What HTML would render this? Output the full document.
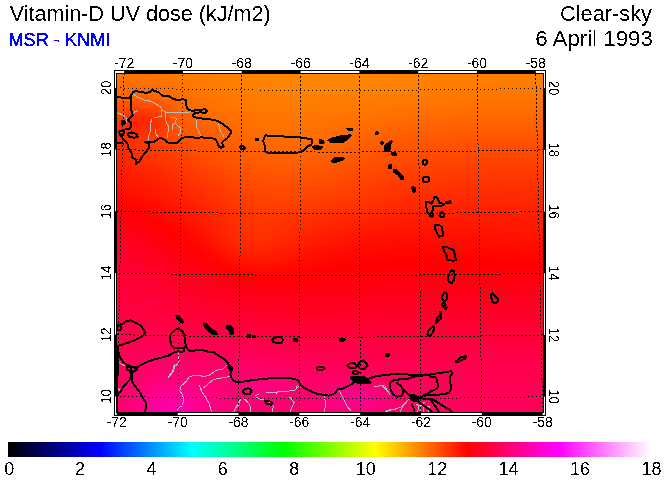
<!DOCTYPE html><html><head><meta charset="utf-8"><style>html,body{margin:0;padding:0;background:#fff;width:665px;height:480px;overflow:hidden}svg{display:block}text{font-family:"Liberation Sans",Arial,sans-serif}</style></head><body><svg width="665" height="480" viewBox="0 0 665 480"><defs><linearGradient id="r0"><stop offset="0.000" stop-color="#ff7300"/><stop offset="0.048" stop-color="#ff7500"/><stop offset="0.095" stop-color="#ff7700"/><stop offset="0.143" stop-color="#ff7b00"/><stop offset="0.190" stop-color="#ff7e00"/><stop offset="0.238" stop-color="#ff8100"/><stop offset="0.286" stop-color="#ff8300"/><stop offset="0.333" stop-color="#ff8500"/><stop offset="0.381" stop-color="#ff8500"/><stop offset="0.429" stop-color="#ff8600"/><stop offset="0.476" stop-color="#ff8600"/><stop offset="0.524" stop-color="#ff8600"/><stop offset="0.571" stop-color="#ff8500"/><stop offset="0.619" stop-color="#ff8400"/><stop offset="0.667" stop-color="#ff8300"/><stop offset="0.714" stop-color="#ff8200"/><stop offset="0.762" stop-color="#ff8100"/><stop offset="0.810" stop-color="#ff8000"/><stop offset="0.857" stop-color="#ff7f00"/><stop offset="0.905" stop-color="#ff7f00"/><stop offset="0.952" stop-color="#ff7e00"/><stop offset="1.000" stop-color="#ff7e00"/></linearGradient><linearGradient id="r1"><stop offset="0.000" stop-color="#ff7200"/><stop offset="0.048" stop-color="#ff7300"/><stop offset="0.095" stop-color="#ff7600"/><stop offset="0.143" stop-color="#ff7900"/><stop offset="0.190" stop-color="#ff7d00"/><stop offset="0.238" stop-color="#ff8000"/><stop offset="0.286" stop-color="#ff8200"/><stop offset="0.333" stop-color="#ff8400"/><stop offset="0.381" stop-color="#ff8500"/><stop offset="0.429" stop-color="#ff8500"/><stop offset="0.476" stop-color="#ff8600"/><stop offset="0.524" stop-color="#ff8500"/><stop offset="0.571" stop-color="#ff8500"/><stop offset="0.619" stop-color="#ff8400"/><stop offset="0.667" stop-color="#ff8300"/><stop offset="0.714" stop-color="#ff8200"/><stop offset="0.762" stop-color="#ff8000"/><stop offset="0.810" stop-color="#ff7f00"/><stop offset="0.857" stop-color="#ff7f00"/><stop offset="0.905" stop-color="#ff7e00"/><stop offset="0.952" stop-color="#ff7d00"/><stop offset="1.000" stop-color="#ff7d00"/></linearGradient><linearGradient id="r2"><stop offset="0.000" stop-color="#ff7100"/><stop offset="0.048" stop-color="#ff7200"/><stop offset="0.095" stop-color="#ff7400"/><stop offset="0.143" stop-color="#ff7800"/><stop offset="0.190" stop-color="#ff7c00"/><stop offset="0.238" stop-color="#ff7f00"/><stop offset="0.286" stop-color="#ff8200"/><stop offset="0.333" stop-color="#ff8400"/><stop offset="0.381" stop-color="#ff8400"/><stop offset="0.429" stop-color="#ff8500"/><stop offset="0.476" stop-color="#ff8500"/><stop offset="0.524" stop-color="#ff8500"/><stop offset="0.571" stop-color="#ff8400"/><stop offset="0.619" stop-color="#ff8300"/><stop offset="0.667" stop-color="#ff8200"/><stop offset="0.714" stop-color="#ff8100"/><stop offset="0.762" stop-color="#ff8000"/><stop offset="0.810" stop-color="#ff7f00"/><stop offset="0.857" stop-color="#ff7e00"/><stop offset="0.905" stop-color="#ff7d00"/><stop offset="0.952" stop-color="#ff7d00"/><stop offset="1.000" stop-color="#ff7c00"/></linearGradient><linearGradient id="r3"><stop offset="0.000" stop-color="#ff6f00"/><stop offset="0.048" stop-color="#ff7100"/><stop offset="0.095" stop-color="#ff7300"/><stop offset="0.143" stop-color="#ff7700"/><stop offset="0.190" stop-color="#ff7b00"/><stop offset="0.238" stop-color="#ff7e00"/><stop offset="0.286" stop-color="#ff8100"/><stop offset="0.333" stop-color="#ff8300"/><stop offset="0.381" stop-color="#ff8400"/><stop offset="0.429" stop-color="#ff8400"/><stop offset="0.476" stop-color="#ff8400"/><stop offset="0.524" stop-color="#ff8400"/><stop offset="0.571" stop-color="#ff8400"/><stop offset="0.619" stop-color="#ff8300"/><stop offset="0.667" stop-color="#ff8200"/><stop offset="0.714" stop-color="#ff8000"/><stop offset="0.762" stop-color="#ff7f00"/><stop offset="0.810" stop-color="#ff7e00"/><stop offset="0.857" stop-color="#ff7d00"/><stop offset="0.905" stop-color="#ff7d00"/><stop offset="0.952" stop-color="#ff7c00"/><stop offset="1.000" stop-color="#ff7c00"/></linearGradient><linearGradient id="r4"><stop offset="0.000" stop-color="#ff6e00"/><stop offset="0.048" stop-color="#ff6f00"/><stop offset="0.095" stop-color="#ff7200"/><stop offset="0.143" stop-color="#ff7600"/><stop offset="0.190" stop-color="#ff7a00"/><stop offset="0.238" stop-color="#ff7e00"/><stop offset="0.286" stop-color="#ff8000"/><stop offset="0.333" stop-color="#ff8200"/><stop offset="0.381" stop-color="#ff8300"/><stop offset="0.429" stop-color="#ff8400"/><stop offset="0.476" stop-color="#ff8400"/><stop offset="0.524" stop-color="#ff8400"/><stop offset="0.571" stop-color="#ff8300"/><stop offset="0.619" stop-color="#ff8200"/><stop offset="0.667" stop-color="#ff8100"/><stop offset="0.714" stop-color="#ff8000"/><stop offset="0.762" stop-color="#ff7e00"/><stop offset="0.810" stop-color="#ff7d00"/><stop offset="0.857" stop-color="#ff7d00"/><stop offset="0.905" stop-color="#ff7c00"/><stop offset="0.952" stop-color="#ff7b00"/><stop offset="1.000" stop-color="#ff7b00"/></linearGradient><linearGradient id="r5"><stop offset="0.000" stop-color="#ff6c00"/><stop offset="0.048" stop-color="#ff6e00"/><stop offset="0.095" stop-color="#ff7000"/><stop offset="0.143" stop-color="#ff7500"/><stop offset="0.190" stop-color="#ff7900"/><stop offset="0.238" stop-color="#ff7d00"/><stop offset="0.286" stop-color="#ff8000"/><stop offset="0.333" stop-color="#ff8200"/><stop offset="0.381" stop-color="#ff8300"/><stop offset="0.429" stop-color="#ff8300"/><stop offset="0.476" stop-color="#ff8300"/><stop offset="0.524" stop-color="#ff8300"/><stop offset="0.571" stop-color="#ff8200"/><stop offset="0.619" stop-color="#ff8100"/><stop offset="0.667" stop-color="#ff8000"/><stop offset="0.714" stop-color="#ff7f00"/><stop offset="0.762" stop-color="#ff7e00"/><stop offset="0.810" stop-color="#ff7d00"/><stop offset="0.857" stop-color="#ff7c00"/><stop offset="0.905" stop-color="#ff7b00"/><stop offset="0.952" stop-color="#ff7b00"/><stop offset="1.000" stop-color="#ff7a00"/></linearGradient><linearGradient id="r6"><stop offset="0.000" stop-color="#ff6b00"/><stop offset="0.048" stop-color="#ff6c00"/><stop offset="0.095" stop-color="#ff6f00"/><stop offset="0.143" stop-color="#ff7400"/><stop offset="0.190" stop-color="#ff7800"/><stop offset="0.238" stop-color="#ff7c00"/><stop offset="0.286" stop-color="#ff7f00"/><stop offset="0.333" stop-color="#ff8100"/><stop offset="0.381" stop-color="#ff8200"/><stop offset="0.429" stop-color="#ff8300"/><stop offset="0.476" stop-color="#ff8300"/><stop offset="0.524" stop-color="#ff8300"/><stop offset="0.571" stop-color="#ff8200"/><stop offset="0.619" stop-color="#ff8100"/><stop offset="0.667" stop-color="#ff8000"/><stop offset="0.714" stop-color="#ff7e00"/><stop offset="0.762" stop-color="#ff7d00"/><stop offset="0.810" stop-color="#ff7c00"/><stop offset="0.857" stop-color="#ff7b00"/><stop offset="0.905" stop-color="#ff7a00"/><stop offset="0.952" stop-color="#ff7a00"/><stop offset="1.000" stop-color="#ff7a00"/></linearGradient><linearGradient id="r7"><stop offset="0.000" stop-color="#ff6900"/><stop offset="0.048" stop-color="#ff6a00"/><stop offset="0.095" stop-color="#ff6d00"/><stop offset="0.143" stop-color="#ff7200"/><stop offset="0.190" stop-color="#ff7700"/><stop offset="0.238" stop-color="#ff7b00"/><stop offset="0.286" stop-color="#ff7e00"/><stop offset="0.333" stop-color="#ff8000"/><stop offset="0.381" stop-color="#ff8200"/><stop offset="0.429" stop-color="#ff8200"/><stop offset="0.476" stop-color="#ff8200"/><stop offset="0.524" stop-color="#ff8200"/><stop offset="0.571" stop-color="#ff8100"/><stop offset="0.619" stop-color="#ff8000"/><stop offset="0.667" stop-color="#ff7f00"/><stop offset="0.714" stop-color="#ff7d00"/><stop offset="0.762" stop-color="#ff7c00"/><stop offset="0.810" stop-color="#ff7b00"/><stop offset="0.857" stop-color="#ff7a00"/><stop offset="0.905" stop-color="#ff7a00"/><stop offset="0.952" stop-color="#ff7900"/><stop offset="1.000" stop-color="#ff7900"/></linearGradient><linearGradient id="r8"><stop offset="0.000" stop-color="#ff6700"/><stop offset="0.048" stop-color="#ff6800"/><stop offset="0.095" stop-color="#ff6b00"/><stop offset="0.143" stop-color="#ff7100"/><stop offset="0.190" stop-color="#ff7600"/><stop offset="0.238" stop-color="#ff7a00"/><stop offset="0.286" stop-color="#ff7e00"/><stop offset="0.333" stop-color="#ff8000"/><stop offset="0.381" stop-color="#ff8100"/><stop offset="0.429" stop-color="#ff8200"/><stop offset="0.476" stop-color="#ff8200"/><stop offset="0.524" stop-color="#ff8100"/><stop offset="0.571" stop-color="#ff8000"/><stop offset="0.619" stop-color="#ff7f00"/><stop offset="0.667" stop-color="#ff7e00"/><stop offset="0.714" stop-color="#ff7d00"/><stop offset="0.762" stop-color="#ff7b00"/><stop offset="0.810" stop-color="#ff7a00"/><stop offset="0.857" stop-color="#ff7900"/><stop offset="0.905" stop-color="#ff7900"/><stop offset="0.952" stop-color="#ff7800"/><stop offset="1.000" stop-color="#ff7800"/></linearGradient><linearGradient id="r9"><stop offset="0.000" stop-color="#ff6500"/><stop offset="0.048" stop-color="#ff6600"/><stop offset="0.095" stop-color="#ff6900"/><stop offset="0.143" stop-color="#ff7000"/><stop offset="0.190" stop-color="#ff7500"/><stop offset="0.238" stop-color="#ff7900"/><stop offset="0.286" stop-color="#ff7d00"/><stop offset="0.333" stop-color="#ff7f00"/><stop offset="0.381" stop-color="#ff8000"/><stop offset="0.429" stop-color="#ff8100"/><stop offset="0.476" stop-color="#ff8100"/><stop offset="0.524" stop-color="#ff8100"/><stop offset="0.571" stop-color="#ff8000"/><stop offset="0.619" stop-color="#ff7f00"/><stop offset="0.667" stop-color="#ff7d00"/><stop offset="0.714" stop-color="#ff7c00"/><stop offset="0.762" stop-color="#ff7a00"/><stop offset="0.810" stop-color="#ff7900"/><stop offset="0.857" stop-color="#ff7800"/><stop offset="0.905" stop-color="#ff7800"/><stop offset="0.952" stop-color="#ff7700"/><stop offset="1.000" stop-color="#ff7700"/></linearGradient><linearGradient id="r10"><stop offset="0.000" stop-color="#ff6300"/><stop offset="0.048" stop-color="#ff6300"/><stop offset="0.095" stop-color="#ff6700"/><stop offset="0.143" stop-color="#ff6f00"/><stop offset="0.190" stop-color="#ff7400"/><stop offset="0.238" stop-color="#ff7800"/><stop offset="0.286" stop-color="#ff7c00"/><stop offset="0.333" stop-color="#ff7e00"/><stop offset="0.381" stop-color="#ff8000"/><stop offset="0.429" stop-color="#ff8100"/><stop offset="0.476" stop-color="#ff8000"/><stop offset="0.524" stop-color="#ff8000"/><stop offset="0.571" stop-color="#ff7f00"/><stop offset="0.619" stop-color="#ff7e00"/><stop offset="0.667" stop-color="#ff7c00"/><stop offset="0.714" stop-color="#ff7b00"/><stop offset="0.762" stop-color="#ff7900"/><stop offset="0.810" stop-color="#ff7800"/><stop offset="0.857" stop-color="#ff7700"/><stop offset="0.905" stop-color="#ff7700"/><stop offset="0.952" stop-color="#ff7700"/><stop offset="1.000" stop-color="#ff7600"/></linearGradient><linearGradient id="r11"><stop offset="0.000" stop-color="#ff6000"/><stop offset="0.048" stop-color="#ff6000"/><stop offset="0.095" stop-color="#ff6400"/><stop offset="0.143" stop-color="#ff6d00"/><stop offset="0.190" stop-color="#ff7300"/><stop offset="0.238" stop-color="#ff7700"/><stop offset="0.286" stop-color="#ff7b00"/><stop offset="0.333" stop-color="#ff7e00"/><stop offset="0.381" stop-color="#ff7f00"/><stop offset="0.429" stop-color="#ff8000"/><stop offset="0.476" stop-color="#ff8000"/><stop offset="0.524" stop-color="#ff7f00"/><stop offset="0.571" stop-color="#ff7e00"/><stop offset="0.619" stop-color="#ff7d00"/><stop offset="0.667" stop-color="#ff7b00"/><stop offset="0.714" stop-color="#ff7a00"/><stop offset="0.762" stop-color="#ff7800"/><stop offset="0.810" stop-color="#ff7700"/><stop offset="0.857" stop-color="#ff7600"/><stop offset="0.905" stop-color="#ff7600"/><stop offset="0.952" stop-color="#ff7600"/><stop offset="1.000" stop-color="#ff7500"/></linearGradient><linearGradient id="r12"><stop offset="0.000" stop-color="#ff5e00"/><stop offset="0.048" stop-color="#ff5c00"/><stop offset="0.095" stop-color="#ff6100"/><stop offset="0.143" stop-color="#ff6c00"/><stop offset="0.190" stop-color="#ff7200"/><stop offset="0.238" stop-color="#ff7600"/><stop offset="0.286" stop-color="#ff7a00"/><stop offset="0.333" stop-color="#ff7d00"/><stop offset="0.381" stop-color="#ff7e00"/><stop offset="0.429" stop-color="#ff7f00"/><stop offset="0.476" stop-color="#ff7f00"/><stop offset="0.524" stop-color="#ff7e00"/><stop offset="0.571" stop-color="#ff7d00"/><stop offset="0.619" stop-color="#ff7c00"/><stop offset="0.667" stop-color="#ff7a00"/><stop offset="0.714" stop-color="#ff7900"/><stop offset="0.762" stop-color="#ff7700"/><stop offset="0.810" stop-color="#ff7600"/><stop offset="0.857" stop-color="#ff7500"/><stop offset="0.905" stop-color="#ff7500"/><stop offset="0.952" stop-color="#ff7400"/><stop offset="1.000" stop-color="#ff7400"/></linearGradient><linearGradient id="r13"><stop offset="0.000" stop-color="#ff5b00"/><stop offset="0.048" stop-color="#ff5800"/><stop offset="0.095" stop-color="#ff5d00"/><stop offset="0.143" stop-color="#ff6a00"/><stop offset="0.190" stop-color="#ff7100"/><stop offset="0.238" stop-color="#ff7500"/><stop offset="0.286" stop-color="#ff7900"/><stop offset="0.333" stop-color="#ff7c00"/><stop offset="0.381" stop-color="#ff7e00"/><stop offset="0.429" stop-color="#ff7e00"/><stop offset="0.476" stop-color="#ff7e00"/><stop offset="0.524" stop-color="#ff7d00"/><stop offset="0.571" stop-color="#ff7c00"/><stop offset="0.619" stop-color="#ff7b00"/><stop offset="0.667" stop-color="#ff7900"/><stop offset="0.714" stop-color="#ff7800"/><stop offset="0.762" stop-color="#ff7600"/><stop offset="0.810" stop-color="#ff7500"/><stop offset="0.857" stop-color="#ff7400"/><stop offset="0.905" stop-color="#ff7300"/><stop offset="0.952" stop-color="#ff7300"/><stop offset="1.000" stop-color="#ff7300"/></linearGradient><linearGradient id="r14"><stop offset="0.000" stop-color="#ff5800"/><stop offset="0.048" stop-color="#ff5200"/><stop offset="0.095" stop-color="#ff5800"/><stop offset="0.143" stop-color="#ff6900"/><stop offset="0.190" stop-color="#ff6f00"/><stop offset="0.238" stop-color="#ff7400"/><stop offset="0.286" stop-color="#ff7800"/><stop offset="0.333" stop-color="#ff7b00"/><stop offset="0.381" stop-color="#ff7d00"/><stop offset="0.429" stop-color="#ff7e00"/><stop offset="0.476" stop-color="#ff7d00"/><stop offset="0.524" stop-color="#ff7c00"/><stop offset="0.571" stop-color="#ff7b00"/><stop offset="0.619" stop-color="#ff7a00"/><stop offset="0.667" stop-color="#ff7800"/><stop offset="0.714" stop-color="#ff7600"/><stop offset="0.762" stop-color="#ff7500"/><stop offset="0.810" stop-color="#ff7400"/><stop offset="0.857" stop-color="#ff7300"/><stop offset="0.905" stop-color="#ff7200"/><stop offset="0.952" stop-color="#ff7200"/><stop offset="1.000" stop-color="#ff7200"/></linearGradient><linearGradient id="r15"><stop offset="0.000" stop-color="#ff5500"/><stop offset="0.048" stop-color="#ff4d00"/><stop offset="0.095" stop-color="#ff5300"/><stop offset="0.143" stop-color="#ff6700"/><stop offset="0.190" stop-color="#ff6e00"/><stop offset="0.238" stop-color="#ff7300"/><stop offset="0.286" stop-color="#ff7800"/><stop offset="0.333" stop-color="#ff7b00"/><stop offset="0.381" stop-color="#ff7c00"/><stop offset="0.429" stop-color="#ff7d00"/><stop offset="0.476" stop-color="#ff7c00"/><stop offset="0.524" stop-color="#ff7b00"/><stop offset="0.571" stop-color="#ff7a00"/><stop offset="0.619" stop-color="#ff7800"/><stop offset="0.667" stop-color="#ff7700"/><stop offset="0.714" stop-color="#ff7500"/><stop offset="0.762" stop-color="#ff7400"/><stop offset="0.810" stop-color="#ff7200"/><stop offset="0.857" stop-color="#ff7100"/><stop offset="0.905" stop-color="#ff7100"/><stop offset="0.952" stop-color="#ff7100"/><stop offset="1.000" stop-color="#ff7100"/></linearGradient><linearGradient id="r16"><stop offset="0.000" stop-color="#ff5200"/><stop offset="0.048" stop-color="#ff4600"/><stop offset="0.095" stop-color="#ff4e00"/><stop offset="0.143" stop-color="#ff6500"/><stop offset="0.190" stop-color="#ff6d00"/><stop offset="0.238" stop-color="#ff7200"/><stop offset="0.286" stop-color="#ff7700"/><stop offset="0.333" stop-color="#ff7a00"/><stop offset="0.381" stop-color="#ff7b00"/><stop offset="0.429" stop-color="#ff7c00"/><stop offset="0.476" stop-color="#ff7b00"/><stop offset="0.524" stop-color="#ff7a00"/><stop offset="0.571" stop-color="#ff7900"/><stop offset="0.619" stop-color="#ff7700"/><stop offset="0.667" stop-color="#ff7500"/><stop offset="0.714" stop-color="#ff7400"/><stop offset="0.762" stop-color="#ff7200"/><stop offset="0.810" stop-color="#ff7100"/><stop offset="0.857" stop-color="#ff7000"/><stop offset="0.905" stop-color="#ff6f00"/><stop offset="0.952" stop-color="#ff6f00"/><stop offset="1.000" stop-color="#ff6f00"/></linearGradient><linearGradient id="r17"><stop offset="0.000" stop-color="#ff4e00"/><stop offset="0.048" stop-color="#ff3f00"/><stop offset="0.095" stop-color="#ff4800"/><stop offset="0.143" stop-color="#ff6300"/><stop offset="0.190" stop-color="#ff6c00"/><stop offset="0.238" stop-color="#ff7100"/><stop offset="0.286" stop-color="#ff7600"/><stop offset="0.333" stop-color="#ff7900"/><stop offset="0.381" stop-color="#ff7a00"/><stop offset="0.429" stop-color="#ff7b00"/><stop offset="0.476" stop-color="#ff7b00"/><stop offset="0.524" stop-color="#ff7900"/><stop offset="0.571" stop-color="#ff7800"/><stop offset="0.619" stop-color="#ff7600"/><stop offset="0.667" stop-color="#ff7400"/><stop offset="0.714" stop-color="#ff7200"/><stop offset="0.762" stop-color="#ff7100"/><stop offset="0.810" stop-color="#ff6f00"/><stop offset="0.857" stop-color="#ff6f00"/><stop offset="0.905" stop-color="#ff6e00"/><stop offset="0.952" stop-color="#ff6e00"/><stop offset="1.000" stop-color="#ff6e00"/></linearGradient><linearGradient id="r18"><stop offset="0.000" stop-color="#ff4b00"/><stop offset="0.048" stop-color="#ff3900"/><stop offset="0.095" stop-color="#ff4300"/><stop offset="0.143" stop-color="#ff6200"/><stop offset="0.190" stop-color="#ff6a00"/><stop offset="0.238" stop-color="#ff7000"/><stop offset="0.286" stop-color="#ff7400"/><stop offset="0.333" stop-color="#ff7800"/><stop offset="0.381" stop-color="#ff7900"/><stop offset="0.429" stop-color="#ff7a00"/><stop offset="0.476" stop-color="#ff7a00"/><stop offset="0.524" stop-color="#ff7800"/><stop offset="0.571" stop-color="#ff7700"/><stop offset="0.619" stop-color="#ff7400"/><stop offset="0.667" stop-color="#ff7200"/><stop offset="0.714" stop-color="#ff7100"/><stop offset="0.762" stop-color="#ff6f00"/><stop offset="0.810" stop-color="#ff6e00"/><stop offset="0.857" stop-color="#ff6d00"/><stop offset="0.905" stop-color="#ff6c00"/><stop offset="0.952" stop-color="#ff6c00"/><stop offset="1.000" stop-color="#ff6c00"/></linearGradient><linearGradient id="r19"><stop offset="0.000" stop-color="#ff4700"/><stop offset="0.048" stop-color="#ff3200"/><stop offset="0.095" stop-color="#ff3d00"/><stop offset="0.143" stop-color="#ff6000"/><stop offset="0.190" stop-color="#ff6900"/><stop offset="0.238" stop-color="#ff6e00"/><stop offset="0.286" stop-color="#ff7300"/><stop offset="0.333" stop-color="#ff7700"/><stop offset="0.381" stop-color="#ff7800"/><stop offset="0.429" stop-color="#ff7900"/><stop offset="0.476" stop-color="#ff7900"/><stop offset="0.524" stop-color="#ff7700"/><stop offset="0.571" stop-color="#ff7500"/><stop offset="0.619" stop-color="#ff7300"/><stop offset="0.667" stop-color="#ff7100"/><stop offset="0.714" stop-color="#ff6f00"/><stop offset="0.762" stop-color="#ff6e00"/><stop offset="0.810" stop-color="#ff6c00"/><stop offset="0.857" stop-color="#ff6b00"/><stop offset="0.905" stop-color="#ff6b00"/><stop offset="0.952" stop-color="#ff6b00"/><stop offset="1.000" stop-color="#ff6b00"/></linearGradient><linearGradient id="r20"><stop offset="0.000" stop-color="#ff4400"/><stop offset="0.048" stop-color="#ff2c00"/><stop offset="0.095" stop-color="#ff3800"/><stop offset="0.143" stop-color="#ff5e00"/><stop offset="0.190" stop-color="#ff6700"/><stop offset="0.238" stop-color="#ff6d00"/><stop offset="0.286" stop-color="#ff7200"/><stop offset="0.333" stop-color="#ff7600"/><stop offset="0.381" stop-color="#ff7800"/><stop offset="0.429" stop-color="#ff7800"/><stop offset="0.476" stop-color="#ff7800"/><stop offset="0.524" stop-color="#ff7600"/><stop offset="0.571" stop-color="#ff7400"/><stop offset="0.619" stop-color="#ff7200"/><stop offset="0.667" stop-color="#ff6f00"/><stop offset="0.714" stop-color="#ff6e00"/><stop offset="0.762" stop-color="#ff6c00"/><stop offset="0.810" stop-color="#ff6b00"/><stop offset="0.857" stop-color="#ff6a00"/><stop offset="0.905" stop-color="#ff6900"/><stop offset="0.952" stop-color="#ff6900"/><stop offset="1.000" stop-color="#ff6900"/></linearGradient><linearGradient id="r21"><stop offset="0.000" stop-color="#ff4100"/><stop offset="0.048" stop-color="#ff2800"/><stop offset="0.095" stop-color="#ff3400"/><stop offset="0.143" stop-color="#ff5c00"/><stop offset="0.190" stop-color="#ff6600"/><stop offset="0.238" stop-color="#ff6c00"/><stop offset="0.286" stop-color="#ff7100"/><stop offset="0.333" stop-color="#ff7500"/><stop offset="0.381" stop-color="#ff7700"/><stop offset="0.429" stop-color="#ff7800"/><stop offset="0.476" stop-color="#ff7600"/><stop offset="0.524" stop-color="#ff7500"/><stop offset="0.571" stop-color="#ff7300"/><stop offset="0.619" stop-color="#ff7000"/><stop offset="0.667" stop-color="#ff6e00"/><stop offset="0.714" stop-color="#ff6c00"/><stop offset="0.762" stop-color="#ff6a00"/><stop offset="0.810" stop-color="#ff6900"/><stop offset="0.857" stop-color="#ff6800"/><stop offset="0.905" stop-color="#ff6700"/><stop offset="0.952" stop-color="#ff6700"/><stop offset="1.000" stop-color="#ff6700"/></linearGradient><linearGradient id="r22"><stop offset="0.000" stop-color="#ff3d00"/><stop offset="0.048" stop-color="#ff2400"/><stop offset="0.095" stop-color="#ff3100"/><stop offset="0.143" stop-color="#ff5b00"/><stop offset="0.190" stop-color="#ff6500"/><stop offset="0.238" stop-color="#ff6b00"/><stop offset="0.286" stop-color="#ff7000"/><stop offset="0.333" stop-color="#ff7400"/><stop offset="0.381" stop-color="#ff7600"/><stop offset="0.429" stop-color="#ff7700"/><stop offset="0.476" stop-color="#ff7500"/><stop offset="0.524" stop-color="#ff7400"/><stop offset="0.571" stop-color="#ff7100"/><stop offset="0.619" stop-color="#ff6f00"/><stop offset="0.667" stop-color="#ff6c00"/><stop offset="0.714" stop-color="#ff6a00"/><stop offset="0.762" stop-color="#ff6900"/><stop offset="0.810" stop-color="#ff6700"/><stop offset="0.857" stop-color="#ff6600"/><stop offset="0.905" stop-color="#ff6600"/><stop offset="0.952" stop-color="#ff6600"/><stop offset="1.000" stop-color="#ff6600"/></linearGradient><linearGradient id="r23"><stop offset="0.000" stop-color="#ff3a00"/><stop offset="0.048" stop-color="#ff2200"/><stop offset="0.095" stop-color="#ff3000"/><stop offset="0.143" stop-color="#ff5900"/><stop offset="0.190" stop-color="#ff6300"/><stop offset="0.238" stop-color="#ff6a00"/><stop offset="0.286" stop-color="#ff6f00"/><stop offset="0.333" stop-color="#ff7300"/><stop offset="0.381" stop-color="#ff7500"/><stop offset="0.429" stop-color="#ff7600"/><stop offset="0.476" stop-color="#ff7400"/><stop offset="0.524" stop-color="#ff7200"/><stop offset="0.571" stop-color="#ff7000"/><stop offset="0.619" stop-color="#ff6d00"/><stop offset="0.667" stop-color="#ff6a00"/><stop offset="0.714" stop-color="#ff6900"/><stop offset="0.762" stop-color="#ff6700"/><stop offset="0.810" stop-color="#ff6600"/><stop offset="0.857" stop-color="#ff6500"/><stop offset="0.905" stop-color="#ff6400"/><stop offset="0.952" stop-color="#ff6400"/><stop offset="1.000" stop-color="#ff6400"/></linearGradient><linearGradient id="r24"><stop offset="0.000" stop-color="#ff3800"/><stop offset="0.048" stop-color="#ff2100"/><stop offset="0.095" stop-color="#ff2f00"/><stop offset="0.143" stop-color="#ff5800"/><stop offset="0.190" stop-color="#ff6200"/><stop offset="0.238" stop-color="#ff6800"/><stop offset="0.286" stop-color="#ff6e00"/><stop offset="0.333" stop-color="#ff7200"/><stop offset="0.381" stop-color="#ff7400"/><stop offset="0.429" stop-color="#ff7500"/><stop offset="0.476" stop-color="#ff7300"/><stop offset="0.524" stop-color="#ff7100"/><stop offset="0.571" stop-color="#ff6f00"/><stop offset="0.619" stop-color="#ff6c00"/><stop offset="0.667" stop-color="#ff6900"/><stop offset="0.714" stop-color="#ff6700"/><stop offset="0.762" stop-color="#ff6500"/><stop offset="0.810" stop-color="#ff6400"/><stop offset="0.857" stop-color="#ff6300"/><stop offset="0.905" stop-color="#ff6200"/><stop offset="0.952" stop-color="#ff6200"/><stop offset="1.000" stop-color="#ff6200"/></linearGradient><linearGradient id="r25"><stop offset="0.000" stop-color="#ff3500"/><stop offset="0.048" stop-color="#ff2200"/><stop offset="0.095" stop-color="#ff3000"/><stop offset="0.143" stop-color="#ff5600"/><stop offset="0.190" stop-color="#ff6000"/><stop offset="0.238" stop-color="#ff6700"/><stop offset="0.286" stop-color="#ff6d00"/><stop offset="0.333" stop-color="#ff7100"/><stop offset="0.381" stop-color="#ff7300"/><stop offset="0.429" stop-color="#ff7400"/><stop offset="0.476" stop-color="#ff7200"/><stop offset="0.524" stop-color="#ff7000"/><stop offset="0.571" stop-color="#ff6d00"/><stop offset="0.619" stop-color="#ff6a00"/><stop offset="0.667" stop-color="#ff6700"/><stop offset="0.714" stop-color="#ff6500"/><stop offset="0.762" stop-color="#ff6400"/><stop offset="0.810" stop-color="#ff6200"/><stop offset="0.857" stop-color="#ff6100"/><stop offset="0.905" stop-color="#ff6100"/><stop offset="0.952" stop-color="#ff6000"/><stop offset="1.000" stop-color="#ff6000"/></linearGradient><linearGradient id="r26"><stop offset="0.000" stop-color="#ff3300"/><stop offset="0.048" stop-color="#ff2400"/><stop offset="0.095" stop-color="#ff3100"/><stop offset="0.143" stop-color="#ff5500"/><stop offset="0.190" stop-color="#ff5f00"/><stop offset="0.238" stop-color="#ff6600"/><stop offset="0.286" stop-color="#ff6c00"/><stop offset="0.333" stop-color="#ff7000"/><stop offset="0.381" stop-color="#ff7200"/><stop offset="0.429" stop-color="#ff7300"/><stop offset="0.476" stop-color="#ff7100"/><stop offset="0.524" stop-color="#ff6f00"/><stop offset="0.571" stop-color="#ff6c00"/><stop offset="0.619" stop-color="#ff6900"/><stop offset="0.667" stop-color="#ff6600"/><stop offset="0.714" stop-color="#ff6400"/><stop offset="0.762" stop-color="#ff6200"/><stop offset="0.810" stop-color="#ff6100"/><stop offset="0.857" stop-color="#ff6000"/><stop offset="0.905" stop-color="#ff5f00"/><stop offset="0.952" stop-color="#ff5f00"/><stop offset="1.000" stop-color="#ff5f00"/></linearGradient><linearGradient id="r27"><stop offset="0.000" stop-color="#ff3100"/><stop offset="0.048" stop-color="#ff2600"/><stop offset="0.095" stop-color="#ff3300"/><stop offset="0.143" stop-color="#ff5400"/><stop offset="0.190" stop-color="#ff5e00"/><stop offset="0.238" stop-color="#ff6400"/><stop offset="0.286" stop-color="#ff6b00"/><stop offset="0.333" stop-color="#ff6f00"/><stop offset="0.381" stop-color="#ff7100"/><stop offset="0.429" stop-color="#ff7200"/><stop offset="0.476" stop-color="#ff7000"/><stop offset="0.524" stop-color="#ff6e00"/><stop offset="0.571" stop-color="#ff6b00"/><stop offset="0.619" stop-color="#ff6700"/><stop offset="0.667" stop-color="#ff6400"/><stop offset="0.714" stop-color="#ff6200"/><stop offset="0.762" stop-color="#ff6000"/><stop offset="0.810" stop-color="#ff5f00"/><stop offset="0.857" stop-color="#ff5e00"/><stop offset="0.905" stop-color="#ff5d00"/><stop offset="0.952" stop-color="#ff5d00"/><stop offset="1.000" stop-color="#ff5d00"/></linearGradient><linearGradient id="r28"><stop offset="0.000" stop-color="#ff2f00"/><stop offset="0.048" stop-color="#ff2900"/><stop offset="0.095" stop-color="#ff3500"/><stop offset="0.143" stop-color="#ff5200"/><stop offset="0.190" stop-color="#ff5c00"/><stop offset="0.238" stop-color="#ff6300"/><stop offset="0.286" stop-color="#ff6a00"/><stop offset="0.333" stop-color="#ff6e00"/><stop offset="0.381" stop-color="#ff7000"/><stop offset="0.429" stop-color="#ff7100"/><stop offset="0.476" stop-color="#ff6f00"/><stop offset="0.524" stop-color="#ff6c00"/><stop offset="0.571" stop-color="#ff6900"/><stop offset="0.619" stop-color="#ff6600"/><stop offset="0.667" stop-color="#ff6200"/><stop offset="0.714" stop-color="#ff6000"/><stop offset="0.762" stop-color="#ff5f00"/><stop offset="0.810" stop-color="#ff5d00"/><stop offset="0.857" stop-color="#ff5c00"/><stop offset="0.905" stop-color="#ff5c00"/><stop offset="0.952" stop-color="#ff5b00"/><stop offset="1.000" stop-color="#ff5b00"/></linearGradient><linearGradient id="r29"><stop offset="0.000" stop-color="#ff2e00"/><stop offset="0.048" stop-color="#ff2c00"/><stop offset="0.095" stop-color="#ff3800"/><stop offset="0.143" stop-color="#ff5100"/><stop offset="0.190" stop-color="#ff5b00"/><stop offset="0.238" stop-color="#ff6200"/><stop offset="0.286" stop-color="#ff6900"/><stop offset="0.333" stop-color="#ff6d00"/><stop offset="0.381" stop-color="#ff6f00"/><stop offset="0.429" stop-color="#ff7000"/><stop offset="0.476" stop-color="#ff6e00"/><stop offset="0.524" stop-color="#ff6b00"/><stop offset="0.571" stop-color="#ff6800"/><stop offset="0.619" stop-color="#ff6400"/><stop offset="0.667" stop-color="#ff6100"/><stop offset="0.714" stop-color="#ff5f00"/><stop offset="0.762" stop-color="#ff5d00"/><stop offset="0.810" stop-color="#ff5c00"/><stop offset="0.857" stop-color="#ff5b00"/><stop offset="0.905" stop-color="#ff5a00"/><stop offset="0.952" stop-color="#ff5a00"/><stop offset="1.000" stop-color="#ff5a00"/></linearGradient><linearGradient id="r30"><stop offset="0.000" stop-color="#ff2c00"/><stop offset="0.048" stop-color="#ff2e00"/><stop offset="0.095" stop-color="#ff3a00"/><stop offset="0.143" stop-color="#ff5000"/><stop offset="0.190" stop-color="#ff5900"/><stop offset="0.238" stop-color="#ff6100"/><stop offset="0.286" stop-color="#ff6700"/><stop offset="0.333" stop-color="#ff6c00"/><stop offset="0.381" stop-color="#ff6e00"/><stop offset="0.429" stop-color="#ff6f00"/><stop offset="0.476" stop-color="#ff6d00"/><stop offset="0.524" stop-color="#ff6a00"/><stop offset="0.571" stop-color="#ff6600"/><stop offset="0.619" stop-color="#ff6200"/><stop offset="0.667" stop-color="#ff5f00"/><stop offset="0.714" stop-color="#ff5d00"/><stop offset="0.762" stop-color="#ff5b00"/><stop offset="0.810" stop-color="#ff5a00"/><stop offset="0.857" stop-color="#ff5900"/><stop offset="0.905" stop-color="#ff5800"/><stop offset="0.952" stop-color="#ff5800"/><stop offset="1.000" stop-color="#ff5800"/></linearGradient><linearGradient id="r31"><stop offset="0.000" stop-color="#ff2b00"/><stop offset="0.048" stop-color="#ff3000"/><stop offset="0.095" stop-color="#ff3b00"/><stop offset="0.143" stop-color="#ff4e00"/><stop offset="0.190" stop-color="#ff5800"/><stop offset="0.238" stop-color="#ff5f00"/><stop offset="0.286" stop-color="#ff6600"/><stop offset="0.333" stop-color="#ff6b00"/><stop offset="0.381" stop-color="#ff6d00"/><stop offset="0.429" stop-color="#ff6e00"/><stop offset="0.476" stop-color="#ff6c00"/><stop offset="0.524" stop-color="#ff6900"/><stop offset="0.571" stop-color="#ff6500"/><stop offset="0.619" stop-color="#ff6100"/><stop offset="0.667" stop-color="#ff5d00"/><stop offset="0.714" stop-color="#ff5b00"/><stop offset="0.762" stop-color="#ff5a00"/><stop offset="0.810" stop-color="#ff5800"/><stop offset="0.857" stop-color="#ff5700"/><stop offset="0.905" stop-color="#ff5600"/><stop offset="0.952" stop-color="#ff5600"/><stop offset="1.000" stop-color="#ff5600"/></linearGradient><linearGradient id="r32"><stop offset="0.000" stop-color="#ff2900"/><stop offset="0.048" stop-color="#ff3200"/><stop offset="0.095" stop-color="#ff3c00"/><stop offset="0.143" stop-color="#ff4d00"/><stop offset="0.190" stop-color="#ff5600"/><stop offset="0.238" stop-color="#ff5e00"/><stop offset="0.286" stop-color="#ff6500"/><stop offset="0.333" stop-color="#ff6a00"/><stop offset="0.381" stop-color="#ff6c00"/><stop offset="0.429" stop-color="#ff6d00"/><stop offset="0.476" stop-color="#ff6b00"/><stop offset="0.524" stop-color="#ff6700"/><stop offset="0.571" stop-color="#ff6400"/><stop offset="0.619" stop-color="#ff5f00"/><stop offset="0.667" stop-color="#ff5c00"/><stop offset="0.714" stop-color="#ff5a00"/><stop offset="0.762" stop-color="#ff5800"/><stop offset="0.810" stop-color="#ff5700"/><stop offset="0.857" stop-color="#ff5600"/><stop offset="0.905" stop-color="#ff5500"/><stop offset="0.952" stop-color="#ff5500"/><stop offset="1.000" stop-color="#ff5500"/></linearGradient><linearGradient id="r33"><stop offset="0.000" stop-color="#ff2800"/><stop offset="0.048" stop-color="#ff3200"/><stop offset="0.095" stop-color="#ff3d00"/><stop offset="0.143" stop-color="#ff4c00"/><stop offset="0.190" stop-color="#ff5500"/><stop offset="0.238" stop-color="#ff5d00"/><stop offset="0.286" stop-color="#ff6400"/><stop offset="0.333" stop-color="#ff6900"/><stop offset="0.381" stop-color="#ff6b00"/><stop offset="0.429" stop-color="#ff6c00"/><stop offset="0.476" stop-color="#ff6a00"/><stop offset="0.524" stop-color="#ff6600"/><stop offset="0.571" stop-color="#ff6200"/><stop offset="0.619" stop-color="#ff5e00"/><stop offset="0.667" stop-color="#ff5a00"/><stop offset="0.714" stop-color="#ff5800"/><stop offset="0.762" stop-color="#ff5600"/><stop offset="0.810" stop-color="#ff5500"/><stop offset="0.857" stop-color="#ff5400"/><stop offset="0.905" stop-color="#ff5300"/><stop offset="0.952" stop-color="#ff5300"/><stop offset="1.000" stop-color="#ff5300"/></linearGradient><linearGradient id="r34"><stop offset="0.000" stop-color="#ff2700"/><stop offset="0.048" stop-color="#ff3300"/><stop offset="0.095" stop-color="#ff3d00"/><stop offset="0.143" stop-color="#ff4a00"/><stop offset="0.190" stop-color="#ff5400"/><stop offset="0.238" stop-color="#ff5c00"/><stop offset="0.286" stop-color="#ff6300"/><stop offset="0.333" stop-color="#ff6800"/><stop offset="0.381" stop-color="#ff6a00"/><stop offset="0.429" stop-color="#ff6b00"/><stop offset="0.476" stop-color="#ff6800"/><stop offset="0.524" stop-color="#ff6500"/><stop offset="0.571" stop-color="#ff6100"/><stop offset="0.619" stop-color="#ff5c00"/><stop offset="0.667" stop-color="#ff5800"/><stop offset="0.714" stop-color="#ff5600"/><stop offset="0.762" stop-color="#ff5500"/><stop offset="0.810" stop-color="#ff5300"/><stop offset="0.857" stop-color="#ff5200"/><stop offset="0.905" stop-color="#ff5100"/><stop offset="0.952" stop-color="#ff5100"/><stop offset="1.000" stop-color="#ff5100"/></linearGradient><linearGradient id="r35"><stop offset="0.000" stop-color="#ff2600"/><stop offset="0.048" stop-color="#ff3300"/><stop offset="0.095" stop-color="#ff3d00"/><stop offset="0.143" stop-color="#ff4900"/><stop offset="0.190" stop-color="#ff5200"/><stop offset="0.238" stop-color="#ff5a00"/><stop offset="0.286" stop-color="#ff6200"/><stop offset="0.333" stop-color="#ff6700"/><stop offset="0.381" stop-color="#ff6900"/><stop offset="0.429" stop-color="#ff6a00"/><stop offset="0.476" stop-color="#ff6700"/><stop offset="0.524" stop-color="#ff6400"/><stop offset="0.571" stop-color="#ff6000"/><stop offset="0.619" stop-color="#ff5b00"/><stop offset="0.667" stop-color="#ff5700"/><stop offset="0.714" stop-color="#ff5500"/><stop offset="0.762" stop-color="#ff5300"/><stop offset="0.810" stop-color="#ff5200"/><stop offset="0.857" stop-color="#ff5100"/><stop offset="0.905" stop-color="#ff5000"/><stop offset="0.952" stop-color="#ff5000"/><stop offset="1.000" stop-color="#ff5000"/></linearGradient><linearGradient id="r36"><stop offset="0.000" stop-color="#ff2500"/><stop offset="0.048" stop-color="#ff3200"/><stop offset="0.095" stop-color="#ff3c00"/><stop offset="0.143" stop-color="#ff4700"/><stop offset="0.190" stop-color="#ff5100"/><stop offset="0.238" stop-color="#ff5900"/><stop offset="0.286" stop-color="#ff6000"/><stop offset="0.333" stop-color="#ff6600"/><stop offset="0.381" stop-color="#ff6800"/><stop offset="0.429" stop-color="#ff6900"/><stop offset="0.476" stop-color="#ff6600"/><stop offset="0.524" stop-color="#ff6200"/><stop offset="0.571" stop-color="#ff5e00"/><stop offset="0.619" stop-color="#ff5900"/><stop offset="0.667" stop-color="#ff5500"/><stop offset="0.714" stop-color="#ff5300"/><stop offset="0.762" stop-color="#ff5100"/><stop offset="0.810" stop-color="#ff5000"/><stop offset="0.857" stop-color="#ff4f00"/><stop offset="0.905" stop-color="#ff4e00"/><stop offset="0.952" stop-color="#ff4e00"/><stop offset="1.000" stop-color="#ff4e00"/></linearGradient><linearGradient id="r37"><stop offset="0.000" stop-color="#ff2400"/><stop offset="0.048" stop-color="#ff3100"/><stop offset="0.095" stop-color="#ff3b00"/><stop offset="0.143" stop-color="#ff4600"/><stop offset="0.190" stop-color="#ff4f00"/><stop offset="0.238" stop-color="#ff5800"/><stop offset="0.286" stop-color="#ff5f00"/><stop offset="0.333" stop-color="#ff6400"/><stop offset="0.381" stop-color="#ff6700"/><stop offset="0.429" stop-color="#ff6700"/><stop offset="0.476" stop-color="#ff6500"/><stop offset="0.524" stop-color="#ff6100"/><stop offset="0.571" stop-color="#ff5d00"/><stop offset="0.619" stop-color="#ff5800"/><stop offset="0.667" stop-color="#ff5400"/><stop offset="0.714" stop-color="#ff5100"/><stop offset="0.762" stop-color="#ff5000"/><stop offset="0.810" stop-color="#ff4e00"/><stop offset="0.857" stop-color="#ff4d00"/><stop offset="0.905" stop-color="#ff4c00"/><stop offset="0.952" stop-color="#ff4c00"/><stop offset="1.000" stop-color="#ff4c00"/></linearGradient><linearGradient id="r38"><stop offset="0.000" stop-color="#ff2300"/><stop offset="0.048" stop-color="#ff3000"/><stop offset="0.095" stop-color="#ff3a00"/><stop offset="0.143" stop-color="#ff4400"/><stop offset="0.190" stop-color="#ff4e00"/><stop offset="0.238" stop-color="#ff5600"/><stop offset="0.286" stop-color="#ff5e00"/><stop offset="0.333" stop-color="#ff6300"/><stop offset="0.381" stop-color="#ff6500"/><stop offset="0.429" stop-color="#ff6600"/><stop offset="0.476" stop-color="#ff6400"/><stop offset="0.524" stop-color="#ff6000"/><stop offset="0.571" stop-color="#ff5b00"/><stop offset="0.619" stop-color="#ff5600"/><stop offset="0.667" stop-color="#ff5200"/><stop offset="0.714" stop-color="#ff5000"/><stop offset="0.762" stop-color="#ff4e00"/><stop offset="0.810" stop-color="#ff4d00"/><stop offset="0.857" stop-color="#ff4c00"/><stop offset="0.905" stop-color="#ff4b00"/><stop offset="0.952" stop-color="#ff4b00"/><stop offset="1.000" stop-color="#ff4b00"/></linearGradient><linearGradient id="r39"><stop offset="0.000" stop-color="#ff2200"/><stop offset="0.048" stop-color="#ff2f00"/><stop offset="0.095" stop-color="#ff3800"/><stop offset="0.143" stop-color="#ff4200"/><stop offset="0.190" stop-color="#ff4c00"/><stop offset="0.238" stop-color="#ff5500"/><stop offset="0.286" stop-color="#ff5d00"/><stop offset="0.333" stop-color="#ff6200"/><stop offset="0.381" stop-color="#ff6400"/><stop offset="0.429" stop-color="#ff6500"/><stop offset="0.476" stop-color="#ff6200"/><stop offset="0.524" stop-color="#ff5e00"/><stop offset="0.571" stop-color="#ff5a00"/><stop offset="0.619" stop-color="#ff5500"/><stop offset="0.667" stop-color="#ff5100"/><stop offset="0.714" stop-color="#ff4e00"/><stop offset="0.762" stop-color="#ff4d00"/><stop offset="0.810" stop-color="#ff4b00"/><stop offset="0.857" stop-color="#ff4a00"/><stop offset="0.905" stop-color="#ff4900"/><stop offset="0.952" stop-color="#ff4900"/><stop offset="1.000" stop-color="#ff4900"/></linearGradient><linearGradient id="r40"><stop offset="0.000" stop-color="#ff2100"/><stop offset="0.048" stop-color="#ff2d00"/><stop offset="0.095" stop-color="#ff3700"/><stop offset="0.143" stop-color="#ff4100"/><stop offset="0.190" stop-color="#ff4b00"/><stop offset="0.238" stop-color="#ff5300"/><stop offset="0.286" stop-color="#ff5b00"/><stop offset="0.333" stop-color="#ff6100"/><stop offset="0.381" stop-color="#ff6300"/><stop offset="0.429" stop-color="#ff6400"/><stop offset="0.476" stop-color="#ff6100"/><stop offset="0.524" stop-color="#ff5d00"/><stop offset="0.571" stop-color="#ff5800"/><stop offset="0.619" stop-color="#ff5300"/><stop offset="0.667" stop-color="#ff4f00"/><stop offset="0.714" stop-color="#ff4d00"/><stop offset="0.762" stop-color="#ff4b00"/><stop offset="0.810" stop-color="#ff4a00"/><stop offset="0.857" stop-color="#ff4900"/><stop offset="0.905" stop-color="#ff4800"/><stop offset="0.952" stop-color="#ff4800"/><stop offset="1.000" stop-color="#ff4800"/></linearGradient><linearGradient id="r41"><stop offset="0.000" stop-color="#ff2000"/><stop offset="0.048" stop-color="#ff2c00"/><stop offset="0.095" stop-color="#ff3500"/><stop offset="0.143" stop-color="#ff3f00"/><stop offset="0.190" stop-color="#ff4900"/><stop offset="0.238" stop-color="#ff5200"/><stop offset="0.286" stop-color="#ff5a00"/><stop offset="0.333" stop-color="#ff5f00"/><stop offset="0.381" stop-color="#ff6100"/><stop offset="0.429" stop-color="#ff6200"/><stop offset="0.476" stop-color="#ff6000"/><stop offset="0.524" stop-color="#ff5c00"/><stop offset="0.571" stop-color="#ff5700"/><stop offset="0.619" stop-color="#ff5200"/><stop offset="0.667" stop-color="#ff4d00"/><stop offset="0.714" stop-color="#ff4b00"/><stop offset="0.762" stop-color="#ff4a00"/><stop offset="0.810" stop-color="#ff4800"/><stop offset="0.857" stop-color="#ff4700"/><stop offset="0.905" stop-color="#ff4600"/><stop offset="0.952" stop-color="#ff4600"/><stop offset="1.000" stop-color="#ff4600"/></linearGradient><linearGradient id="r42"><stop offset="0.000" stop-color="#ff2000"/><stop offset="0.048" stop-color="#ff2a00"/><stop offset="0.095" stop-color="#ff3400"/><stop offset="0.143" stop-color="#ff3e00"/><stop offset="0.190" stop-color="#ff4800"/><stop offset="0.238" stop-color="#ff5000"/><stop offset="0.286" stop-color="#ff5900"/><stop offset="0.333" stop-color="#ff5e00"/><stop offset="0.381" stop-color="#ff6000"/><stop offset="0.429" stop-color="#ff6100"/><stop offset="0.476" stop-color="#ff5e00"/><stop offset="0.524" stop-color="#ff5a00"/><stop offset="0.571" stop-color="#ff5600"/><stop offset="0.619" stop-color="#ff5000"/><stop offset="0.667" stop-color="#ff4c00"/><stop offset="0.714" stop-color="#ff4a00"/><stop offset="0.762" stop-color="#ff4800"/><stop offset="0.810" stop-color="#ff4700"/><stop offset="0.857" stop-color="#ff4500"/><stop offset="0.905" stop-color="#ff4500"/><stop offset="0.952" stop-color="#ff4500"/><stop offset="1.000" stop-color="#ff4500"/></linearGradient><linearGradient id="r43"><stop offset="0.000" stop-color="#ff1f00"/><stop offset="0.048" stop-color="#ff2900"/><stop offset="0.095" stop-color="#ff3200"/><stop offset="0.143" stop-color="#ff3c00"/><stop offset="0.190" stop-color="#ff4600"/><stop offset="0.238" stop-color="#ff4f00"/><stop offset="0.286" stop-color="#ff5700"/><stop offset="0.333" stop-color="#ff5d00"/><stop offset="0.381" stop-color="#ff5f00"/><stop offset="0.429" stop-color="#ff6000"/><stop offset="0.476" stop-color="#ff5d00"/><stop offset="0.524" stop-color="#ff5900"/><stop offset="0.571" stop-color="#ff5400"/><stop offset="0.619" stop-color="#ff4f00"/><stop offset="0.667" stop-color="#ff4a00"/><stop offset="0.714" stop-color="#ff4800"/><stop offset="0.762" stop-color="#ff4600"/><stop offset="0.810" stop-color="#ff4500"/><stop offset="0.857" stop-color="#ff4400"/><stop offset="0.905" stop-color="#ff4300"/><stop offset="0.952" stop-color="#ff4300"/><stop offset="1.000" stop-color="#ff4300"/></linearGradient><linearGradient id="r44"><stop offset="0.000" stop-color="#ff1e00"/><stop offset="0.048" stop-color="#ff2700"/><stop offset="0.095" stop-color="#ff3100"/><stop offset="0.143" stop-color="#ff3b00"/><stop offset="0.190" stop-color="#ff4400"/><stop offset="0.238" stop-color="#ff4d00"/><stop offset="0.286" stop-color="#ff5600"/><stop offset="0.333" stop-color="#ff5b00"/><stop offset="0.381" stop-color="#ff5d00"/><stop offset="0.429" stop-color="#ff5e00"/><stop offset="0.476" stop-color="#ff5b00"/><stop offset="0.524" stop-color="#ff5700"/><stop offset="0.571" stop-color="#ff5300"/><stop offset="0.619" stop-color="#ff4d00"/><stop offset="0.667" stop-color="#ff4900"/><stop offset="0.714" stop-color="#ff4700"/><stop offset="0.762" stop-color="#ff4500"/><stop offset="0.810" stop-color="#ff4400"/><stop offset="0.857" stop-color="#ff4200"/><stop offset="0.905" stop-color="#ff4200"/><stop offset="0.952" stop-color="#ff4200"/><stop offset="1.000" stop-color="#ff4200"/></linearGradient><linearGradient id="r45"><stop offset="0.000" stop-color="#ff1d00"/><stop offset="0.048" stop-color="#ff2600"/><stop offset="0.095" stop-color="#ff2f00"/><stop offset="0.143" stop-color="#ff3900"/><stop offset="0.190" stop-color="#ff4300"/><stop offset="0.238" stop-color="#ff4c00"/><stop offset="0.286" stop-color="#ff5400"/><stop offset="0.333" stop-color="#ff5a00"/><stop offset="0.381" stop-color="#ff5c00"/><stop offset="0.429" stop-color="#ff5d00"/><stop offset="0.476" stop-color="#ff5a00"/><stop offset="0.524" stop-color="#ff5600"/><stop offset="0.571" stop-color="#ff5100"/><stop offset="0.619" stop-color="#ff4c00"/><stop offset="0.667" stop-color="#ff4700"/><stop offset="0.714" stop-color="#ff4500"/><stop offset="0.762" stop-color="#ff4300"/><stop offset="0.810" stop-color="#ff4200"/><stop offset="0.857" stop-color="#ff4100"/><stop offset="0.905" stop-color="#ff4000"/><stop offset="0.952" stop-color="#ff4000"/><stop offset="1.000" stop-color="#ff4000"/></linearGradient><linearGradient id="r46"><stop offset="0.000" stop-color="#ff1c00"/><stop offset="0.048" stop-color="#ff2500"/><stop offset="0.095" stop-color="#ff2d00"/><stop offset="0.143" stop-color="#ff3700"/><stop offset="0.190" stop-color="#ff4100"/><stop offset="0.238" stop-color="#ff4a00"/><stop offset="0.286" stop-color="#ff5300"/><stop offset="0.333" stop-color="#ff5800"/><stop offset="0.381" stop-color="#ff5b00"/><stop offset="0.429" stop-color="#ff5b00"/><stop offset="0.476" stop-color="#ff5800"/><stop offset="0.524" stop-color="#ff5400"/><stop offset="0.571" stop-color="#ff5000"/><stop offset="0.619" stop-color="#ff4a00"/><stop offset="0.667" stop-color="#ff4600"/><stop offset="0.714" stop-color="#ff4400"/><stop offset="0.762" stop-color="#ff4200"/><stop offset="0.810" stop-color="#ff4000"/><stop offset="0.857" stop-color="#ff3f00"/><stop offset="0.905" stop-color="#ff3f00"/><stop offset="0.952" stop-color="#ff3f00"/><stop offset="1.000" stop-color="#ff3f00"/></linearGradient><linearGradient id="r47"><stop offset="0.000" stop-color="#ff1b00"/><stop offset="0.048" stop-color="#ff2300"/><stop offset="0.095" stop-color="#ff2c00"/><stop offset="0.143" stop-color="#ff3600"/><stop offset="0.190" stop-color="#ff4000"/><stop offset="0.238" stop-color="#ff4900"/><stop offset="0.286" stop-color="#ff5200"/><stop offset="0.333" stop-color="#ff5700"/><stop offset="0.381" stop-color="#ff5900"/><stop offset="0.429" stop-color="#ff5a00"/><stop offset="0.476" stop-color="#ff5700"/><stop offset="0.524" stop-color="#ff5300"/><stop offset="0.571" stop-color="#ff4e00"/><stop offset="0.619" stop-color="#ff4900"/><stop offset="0.667" stop-color="#ff4400"/><stop offset="0.714" stop-color="#ff4200"/><stop offset="0.762" stop-color="#ff4000"/><stop offset="0.810" stop-color="#ff3f00"/><stop offset="0.857" stop-color="#ff3e00"/><stop offset="0.905" stop-color="#ff3d00"/><stop offset="0.952" stop-color="#ff3d00"/><stop offset="1.000" stop-color="#ff3e00"/></linearGradient><linearGradient id="r48"><stop offset="0.000" stop-color="#ff1a00"/><stop offset="0.048" stop-color="#ff2200"/><stop offset="0.095" stop-color="#ff2a00"/><stop offset="0.143" stop-color="#ff3400"/><stop offset="0.190" stop-color="#ff3e00"/><stop offset="0.238" stop-color="#ff4700"/><stop offset="0.286" stop-color="#ff5000"/><stop offset="0.333" stop-color="#ff5600"/><stop offset="0.381" stop-color="#ff5800"/><stop offset="0.429" stop-color="#ff5800"/><stop offset="0.476" stop-color="#ff5500"/><stop offset="0.524" stop-color="#ff5100"/><stop offset="0.571" stop-color="#ff4d00"/><stop offset="0.619" stop-color="#ff4700"/><stop offset="0.667" stop-color="#ff4300"/><stop offset="0.714" stop-color="#ff4100"/><stop offset="0.762" stop-color="#ff3f00"/><stop offset="0.810" stop-color="#ff3d00"/><stop offset="0.857" stop-color="#ff3c00"/><stop offset="0.905" stop-color="#ff3c00"/><stop offset="0.952" stop-color="#ff3c00"/><stop offset="1.000" stop-color="#ff3c00"/></linearGradient><linearGradient id="r49"><stop offset="0.000" stop-color="#ff1900"/><stop offset="0.048" stop-color="#ff2000"/><stop offset="0.095" stop-color="#ff2900"/><stop offset="0.143" stop-color="#ff3300"/><stop offset="0.190" stop-color="#ff3d00"/><stop offset="0.238" stop-color="#ff4600"/><stop offset="0.286" stop-color="#ff4f00"/><stop offset="0.333" stop-color="#ff5400"/><stop offset="0.381" stop-color="#ff5600"/><stop offset="0.429" stop-color="#ff5700"/><stop offset="0.476" stop-color="#ff5400"/><stop offset="0.524" stop-color="#ff5000"/><stop offset="0.571" stop-color="#ff4b00"/><stop offset="0.619" stop-color="#ff4600"/><stop offset="0.667" stop-color="#ff4100"/><stop offset="0.714" stop-color="#ff3f00"/><stop offset="0.762" stop-color="#ff3d00"/><stop offset="0.810" stop-color="#ff3c00"/><stop offset="0.857" stop-color="#ff3b00"/><stop offset="0.905" stop-color="#ff3a00"/><stop offset="0.952" stop-color="#ff3a00"/><stop offset="1.000" stop-color="#ff3b00"/></linearGradient><linearGradient id="r50"><stop offset="0.000" stop-color="#ff1800"/><stop offset="0.048" stop-color="#ff1f00"/><stop offset="0.095" stop-color="#ff2700"/><stop offset="0.143" stop-color="#ff3100"/><stop offset="0.190" stop-color="#ff3b00"/><stop offset="0.238" stop-color="#ff4400"/><stop offset="0.286" stop-color="#ff4d00"/><stop offset="0.333" stop-color="#ff5300"/><stop offset="0.381" stop-color="#ff5500"/><stop offset="0.429" stop-color="#ff5500"/><stop offset="0.476" stop-color="#ff5300"/><stop offset="0.524" stop-color="#ff4e00"/><stop offset="0.571" stop-color="#ff4a00"/><stop offset="0.619" stop-color="#ff4500"/><stop offset="0.667" stop-color="#ff4000"/><stop offset="0.714" stop-color="#ff3e00"/><stop offset="0.762" stop-color="#ff3c00"/><stop offset="0.810" stop-color="#ff3a00"/><stop offset="0.857" stop-color="#ff3900"/><stop offset="0.905" stop-color="#ff3900"/><stop offset="0.952" stop-color="#ff3900"/><stop offset="1.000" stop-color="#ff3900"/></linearGradient><linearGradient id="r51"><stop offset="0.000" stop-color="#ff1700"/><stop offset="0.048" stop-color="#ff1d00"/><stop offset="0.095" stop-color="#ff2500"/><stop offset="0.143" stop-color="#ff2f00"/><stop offset="0.190" stop-color="#ff3900"/><stop offset="0.238" stop-color="#ff4300"/><stop offset="0.286" stop-color="#ff4c00"/><stop offset="0.333" stop-color="#ff5100"/><stop offset="0.381" stop-color="#ff5300"/><stop offset="0.429" stop-color="#ff5400"/><stop offset="0.476" stop-color="#ff5100"/><stop offset="0.524" stop-color="#ff4d00"/><stop offset="0.571" stop-color="#ff4800"/><stop offset="0.619" stop-color="#ff4300"/><stop offset="0.667" stop-color="#ff3f00"/><stop offset="0.714" stop-color="#ff3c00"/><stop offset="0.762" stop-color="#ff3a00"/><stop offset="0.810" stop-color="#ff3900"/><stop offset="0.857" stop-color="#ff3800"/><stop offset="0.905" stop-color="#ff3700"/><stop offset="0.952" stop-color="#ff3800"/><stop offset="1.000" stop-color="#ff3800"/></linearGradient><linearGradient id="r52"><stop offset="0.000" stop-color="#ff1600"/><stop offset="0.048" stop-color="#ff1c00"/><stop offset="0.095" stop-color="#ff2400"/><stop offset="0.143" stop-color="#ff2e00"/><stop offset="0.190" stop-color="#ff3800"/><stop offset="0.238" stop-color="#ff4100"/><stop offset="0.286" stop-color="#ff4a00"/><stop offset="0.333" stop-color="#ff5000"/><stop offset="0.381" stop-color="#ff5200"/><stop offset="0.429" stop-color="#ff5200"/><stop offset="0.476" stop-color="#ff5000"/><stop offset="0.524" stop-color="#ff4b00"/><stop offset="0.571" stop-color="#ff4700"/><stop offset="0.619" stop-color="#ff4200"/><stop offset="0.667" stop-color="#ff3d00"/><stop offset="0.714" stop-color="#ff3b00"/><stop offset="0.762" stop-color="#ff3900"/><stop offset="0.810" stop-color="#ff3700"/><stop offset="0.857" stop-color="#ff3600"/><stop offset="0.905" stop-color="#ff3600"/><stop offset="0.952" stop-color="#ff3600"/><stop offset="1.000" stop-color="#ff3700"/></linearGradient><linearGradient id="r53"><stop offset="0.000" stop-color="#ff1500"/><stop offset="0.048" stop-color="#ff1a00"/><stop offset="0.095" stop-color="#ff2200"/><stop offset="0.143" stop-color="#ff2c00"/><stop offset="0.190" stop-color="#ff3600"/><stop offset="0.238" stop-color="#ff4000"/><stop offset="0.286" stop-color="#ff4900"/><stop offset="0.333" stop-color="#ff4f00"/><stop offset="0.381" stop-color="#ff5100"/><stop offset="0.429" stop-color="#ff5100"/><stop offset="0.476" stop-color="#ff4e00"/><stop offset="0.524" stop-color="#ff4a00"/><stop offset="0.571" stop-color="#ff4500"/><stop offset="0.619" stop-color="#ff4000"/><stop offset="0.667" stop-color="#ff3c00"/><stop offset="0.714" stop-color="#ff3900"/><stop offset="0.762" stop-color="#ff3700"/><stop offset="0.810" stop-color="#ff3600"/><stop offset="0.857" stop-color="#ff3500"/><stop offset="0.905" stop-color="#ff3400"/><stop offset="0.952" stop-color="#ff3500"/><stop offset="1.000" stop-color="#ff3500"/></linearGradient><linearGradient id="r54"><stop offset="0.000" stop-color="#ff1400"/><stop offset="0.048" stop-color="#ff1900"/><stop offset="0.095" stop-color="#ff2100"/><stop offset="0.143" stop-color="#ff2b00"/><stop offset="0.190" stop-color="#ff3500"/><stop offset="0.238" stop-color="#ff3e00"/><stop offset="0.286" stop-color="#ff4800"/><stop offset="0.333" stop-color="#ff4d00"/><stop offset="0.381" stop-color="#ff4f00"/><stop offset="0.429" stop-color="#ff5000"/><stop offset="0.476" stop-color="#ff4d00"/><stop offset="0.524" stop-color="#ff4800"/><stop offset="0.571" stop-color="#ff4400"/><stop offset="0.619" stop-color="#ff3f00"/><stop offset="0.667" stop-color="#ff3a00"/><stop offset="0.714" stop-color="#ff3800"/><stop offset="0.762" stop-color="#ff3600"/><stop offset="0.810" stop-color="#ff3400"/><stop offset="0.857" stop-color="#ff3300"/><stop offset="0.905" stop-color="#ff3300"/><stop offset="0.952" stop-color="#ff3300"/><stop offset="1.000" stop-color="#ff3400"/></linearGradient><linearGradient id="r55"><stop offset="0.000" stop-color="#ff1200"/><stop offset="0.048" stop-color="#ff1700"/><stop offset="0.095" stop-color="#ff1f00"/><stop offset="0.143" stop-color="#ff2900"/><stop offset="0.190" stop-color="#ff3300"/><stop offset="0.238" stop-color="#ff3d00"/><stop offset="0.286" stop-color="#ff4600"/><stop offset="0.333" stop-color="#ff4c00"/><stop offset="0.381" stop-color="#ff4e00"/><stop offset="0.429" stop-color="#ff4e00"/><stop offset="0.476" stop-color="#ff4b00"/><stop offset="0.524" stop-color="#ff4700"/><stop offset="0.571" stop-color="#ff4200"/><stop offset="0.619" stop-color="#ff3d00"/><stop offset="0.667" stop-color="#ff3900"/><stop offset="0.714" stop-color="#ff3600"/><stop offset="0.762" stop-color="#ff3400"/><stop offset="0.810" stop-color="#ff3300"/><stop offset="0.857" stop-color="#ff3200"/><stop offset="0.905" stop-color="#ff3100"/><stop offset="0.952" stop-color="#ff3200"/><stop offset="1.000" stop-color="#ff3200"/></linearGradient><linearGradient id="r56"><stop offset="0.000" stop-color="#ff1100"/><stop offset="0.048" stop-color="#ff1600"/><stop offset="0.095" stop-color="#ff1d00"/><stop offset="0.143" stop-color="#ff2700"/><stop offset="0.190" stop-color="#ff3100"/><stop offset="0.238" stop-color="#ff3b00"/><stop offset="0.286" stop-color="#ff4500"/><stop offset="0.333" stop-color="#ff4b00"/><stop offset="0.381" stop-color="#ff4c00"/><stop offset="0.429" stop-color="#ff4d00"/><stop offset="0.476" stop-color="#ff4a00"/><stop offset="0.524" stop-color="#ff4500"/><stop offset="0.571" stop-color="#ff4100"/><stop offset="0.619" stop-color="#ff3c00"/><stop offset="0.667" stop-color="#ff3700"/><stop offset="0.714" stop-color="#ff3500"/><stop offset="0.762" stop-color="#ff3300"/><stop offset="0.810" stop-color="#ff3100"/><stop offset="0.857" stop-color="#ff3100"/><stop offset="0.905" stop-color="#ff3000"/><stop offset="0.952" stop-color="#ff3000"/><stop offset="1.000" stop-color="#ff3100"/></linearGradient><linearGradient id="r57"><stop offset="0.000" stop-color="#ff1000"/><stop offset="0.048" stop-color="#ff1400"/><stop offset="0.095" stop-color="#ff1c00"/><stop offset="0.143" stop-color="#ff2600"/><stop offset="0.190" stop-color="#ff3000"/><stop offset="0.238" stop-color="#ff3a00"/><stop offset="0.286" stop-color="#ff4300"/><stop offset="0.333" stop-color="#ff4900"/><stop offset="0.381" stop-color="#ff4b00"/><stop offset="0.429" stop-color="#ff4b00"/><stop offset="0.476" stop-color="#ff4800"/><stop offset="0.524" stop-color="#ff4400"/><stop offset="0.571" stop-color="#ff3f00"/><stop offset="0.619" stop-color="#ff3a00"/><stop offset="0.667" stop-color="#ff3600"/><stop offset="0.714" stop-color="#ff3300"/><stop offset="0.762" stop-color="#ff3100"/><stop offset="0.810" stop-color="#ff3000"/><stop offset="0.857" stop-color="#ff2f00"/><stop offset="0.905" stop-color="#ff2f00"/><stop offset="0.952" stop-color="#ff2f00"/><stop offset="1.000" stop-color="#ff3000"/></linearGradient><linearGradient id="r58"><stop offset="0.000" stop-color="#ff0e00"/><stop offset="0.048" stop-color="#ff1300"/><stop offset="0.095" stop-color="#ff1a00"/><stop offset="0.143" stop-color="#ff2400"/><stop offset="0.190" stop-color="#ff2e00"/><stop offset="0.238" stop-color="#ff3800"/><stop offset="0.286" stop-color="#ff4200"/><stop offset="0.333" stop-color="#ff4800"/><stop offset="0.381" stop-color="#ff4900"/><stop offset="0.429" stop-color="#ff4900"/><stop offset="0.476" stop-color="#ff4600"/><stop offset="0.524" stop-color="#ff4200"/><stop offset="0.571" stop-color="#ff3e00"/><stop offset="0.619" stop-color="#ff3900"/><stop offset="0.667" stop-color="#ff3400"/><stop offset="0.714" stop-color="#ff3200"/><stop offset="0.762" stop-color="#ff3000"/><stop offset="0.810" stop-color="#ff2e00"/><stop offset="0.857" stop-color="#ff2e00"/><stop offset="0.905" stop-color="#ff2d00"/><stop offset="0.952" stop-color="#ff2e00"/><stop offset="1.000" stop-color="#ff2e00"/></linearGradient><linearGradient id="r59"><stop offset="0.000" stop-color="#ff0d00"/><stop offset="0.048" stop-color="#ff1100"/><stop offset="0.095" stop-color="#ff1900"/><stop offset="0.143" stop-color="#ff2300"/><stop offset="0.190" stop-color="#ff2d00"/><stop offset="0.238" stop-color="#ff3700"/><stop offset="0.286" stop-color="#ff4100"/><stop offset="0.333" stop-color="#ff4600"/><stop offset="0.381" stop-color="#ff4800"/><stop offset="0.429" stop-color="#ff4800"/><stop offset="0.476" stop-color="#ff4500"/><stop offset="0.524" stop-color="#ff4100"/><stop offset="0.571" stop-color="#ff3c00"/><stop offset="0.619" stop-color="#ff3700"/><stop offset="0.667" stop-color="#ff3300"/><stop offset="0.714" stop-color="#ff3000"/><stop offset="0.762" stop-color="#ff2e00"/><stop offset="0.810" stop-color="#ff2d00"/><stop offset="0.857" stop-color="#ff2c00"/><stop offset="0.905" stop-color="#ff2c00"/><stop offset="0.952" stop-color="#ff2c00"/><stop offset="1.000" stop-color="#ff2d00"/></linearGradient><linearGradient id="r60"><stop offset="0.000" stop-color="#ff0b00"/><stop offset="0.048" stop-color="#ff1000"/><stop offset="0.095" stop-color="#ff1700"/><stop offset="0.143" stop-color="#ff2100"/><stop offset="0.190" stop-color="#ff2b00"/><stop offset="0.238" stop-color="#ff3500"/><stop offset="0.286" stop-color="#ff3f00"/><stop offset="0.333" stop-color="#ff4500"/><stop offset="0.381" stop-color="#ff4600"/><stop offset="0.429" stop-color="#ff4600"/><stop offset="0.476" stop-color="#ff4300"/><stop offset="0.524" stop-color="#ff3f00"/><stop offset="0.571" stop-color="#ff3b00"/><stop offset="0.619" stop-color="#ff3500"/><stop offset="0.667" stop-color="#ff3100"/><stop offset="0.714" stop-color="#ff2f00"/><stop offset="0.762" stop-color="#ff2d00"/><stop offset="0.810" stop-color="#ff2c00"/><stop offset="0.857" stop-color="#ff2b00"/><stop offset="0.905" stop-color="#ff2a00"/><stop offset="0.952" stop-color="#ff2b00"/><stop offset="1.000" stop-color="#ff2c00"/></linearGradient><linearGradient id="r61"><stop offset="0.000" stop-color="#ff0900"/><stop offset="0.048" stop-color="#ff0e00"/><stop offset="0.095" stop-color="#ff1500"/><stop offset="0.143" stop-color="#ff1f00"/><stop offset="0.190" stop-color="#ff2a00"/><stop offset="0.238" stop-color="#ff3400"/><stop offset="0.286" stop-color="#ff3e00"/><stop offset="0.333" stop-color="#ff4400"/><stop offset="0.381" stop-color="#ff4500"/><stop offset="0.429" stop-color="#ff4500"/><stop offset="0.476" stop-color="#ff4200"/><stop offset="0.524" stop-color="#ff3d00"/><stop offset="0.571" stop-color="#ff3900"/><stop offset="0.619" stop-color="#ff3400"/><stop offset="0.667" stop-color="#ff2f00"/><stop offset="0.714" stop-color="#ff2d00"/><stop offset="0.762" stop-color="#ff2b00"/><stop offset="0.810" stop-color="#ff2a00"/><stop offset="0.857" stop-color="#ff2900"/><stop offset="0.905" stop-color="#ff2900"/><stop offset="0.952" stop-color="#ff2a00"/><stop offset="1.000" stop-color="#ff2a00"/></linearGradient><linearGradient id="r62"><stop offset="0.000" stop-color="#ff0800"/><stop offset="0.048" stop-color="#ff0c00"/><stop offset="0.095" stop-color="#ff1400"/><stop offset="0.143" stop-color="#ff1e00"/><stop offset="0.190" stop-color="#ff2800"/><stop offset="0.238" stop-color="#ff3200"/><stop offset="0.286" stop-color="#ff3c00"/><stop offset="0.333" stop-color="#ff4200"/><stop offset="0.381" stop-color="#ff4300"/><stop offset="0.429" stop-color="#ff4300"/><stop offset="0.476" stop-color="#ff4000"/><stop offset="0.524" stop-color="#ff3c00"/><stop offset="0.571" stop-color="#ff3700"/><stop offset="0.619" stop-color="#ff3200"/><stop offset="0.667" stop-color="#ff2e00"/><stop offset="0.714" stop-color="#ff2c00"/><stop offset="0.762" stop-color="#ff2a00"/><stop offset="0.810" stop-color="#ff2900"/><stop offset="0.857" stop-color="#ff2800"/><stop offset="0.905" stop-color="#ff2800"/><stop offset="0.952" stop-color="#ff2800"/><stop offset="1.000" stop-color="#ff2900"/></linearGradient><linearGradient id="r63"><stop offset="0.000" stop-color="#ff0600"/><stop offset="0.048" stop-color="#ff0b00"/><stop offset="0.095" stop-color="#ff1200"/><stop offset="0.143" stop-color="#ff1c00"/><stop offset="0.190" stop-color="#ff2600"/><stop offset="0.238" stop-color="#ff3100"/><stop offset="0.286" stop-color="#ff3b00"/><stop offset="0.333" stop-color="#ff4100"/><stop offset="0.381" stop-color="#ff4200"/><stop offset="0.429" stop-color="#ff4100"/><stop offset="0.476" stop-color="#ff3e00"/><stop offset="0.524" stop-color="#ff3a00"/><stop offset="0.571" stop-color="#ff3600"/><stop offset="0.619" stop-color="#ff3100"/><stop offset="0.667" stop-color="#ff2c00"/><stop offset="0.714" stop-color="#ff2a00"/><stop offset="0.762" stop-color="#ff2800"/><stop offset="0.810" stop-color="#ff2700"/><stop offset="0.857" stop-color="#ff2700"/><stop offset="0.905" stop-color="#ff2600"/><stop offset="0.952" stop-color="#ff2700"/><stop offset="1.000" stop-color="#ff2800"/></linearGradient><linearGradient id="r64"><stop offset="0.000" stop-color="#ff0400"/><stop offset="0.048" stop-color="#ff0900"/><stop offset="0.095" stop-color="#ff1000"/><stop offset="0.143" stop-color="#ff1a00"/><stop offset="0.190" stop-color="#ff2500"/><stop offset="0.238" stop-color="#ff3000"/><stop offset="0.286" stop-color="#ff3a00"/><stop offset="0.333" stop-color="#ff4000"/><stop offset="0.381" stop-color="#ff4000"/><stop offset="0.429" stop-color="#ff4000"/><stop offset="0.476" stop-color="#ff3c00"/><stop offset="0.524" stop-color="#ff3800"/><stop offset="0.571" stop-color="#ff3400"/><stop offset="0.619" stop-color="#ff2f00"/><stop offset="0.667" stop-color="#ff2b00"/><stop offset="0.714" stop-color="#ff2900"/><stop offset="0.762" stop-color="#ff2700"/><stop offset="0.810" stop-color="#ff2600"/><stop offset="0.857" stop-color="#ff2500"/><stop offset="0.905" stop-color="#ff2500"/><stop offset="0.952" stop-color="#ff2600"/><stop offset="1.000" stop-color="#ff2700"/></linearGradient><linearGradient id="r65"><stop offset="0.000" stop-color="#ff0200"/><stop offset="0.048" stop-color="#ff0700"/><stop offset="0.095" stop-color="#ff0f00"/><stop offset="0.143" stop-color="#ff1900"/><stop offset="0.190" stop-color="#ff2300"/><stop offset="0.238" stop-color="#ff2e00"/><stop offset="0.286" stop-color="#ff3900"/><stop offset="0.333" stop-color="#ff3e00"/><stop offset="0.381" stop-color="#ff3f00"/><stop offset="0.429" stop-color="#ff3e00"/><stop offset="0.476" stop-color="#ff3b00"/><stop offset="0.524" stop-color="#ff3600"/><stop offset="0.571" stop-color="#ff3200"/><stop offset="0.619" stop-color="#ff2d00"/><stop offset="0.667" stop-color="#ff2900"/><stop offset="0.714" stop-color="#ff2700"/><stop offset="0.762" stop-color="#ff2500"/><stop offset="0.810" stop-color="#ff2400"/><stop offset="0.857" stop-color="#ff2400"/><stop offset="0.905" stop-color="#ff2400"/><stop offset="0.952" stop-color="#ff2500"/><stop offset="1.000" stop-color="#ff2500"/></linearGradient><linearGradient id="r66"><stop offset="0.000" stop-color="#ff0000"/><stop offset="0.048" stop-color="#ff0500"/><stop offset="0.095" stop-color="#ff0d00"/><stop offset="0.143" stop-color="#ff1700"/><stop offset="0.190" stop-color="#ff2200"/><stop offset="0.238" stop-color="#ff2d00"/><stop offset="0.286" stop-color="#ff3700"/><stop offset="0.333" stop-color="#ff3d00"/><stop offset="0.381" stop-color="#ff3e00"/><stop offset="0.429" stop-color="#ff3c00"/><stop offset="0.476" stop-color="#ff3900"/><stop offset="0.524" stop-color="#ff3500"/><stop offset="0.571" stop-color="#ff3000"/><stop offset="0.619" stop-color="#ff2c00"/><stop offset="0.667" stop-color="#ff2800"/><stop offset="0.714" stop-color="#ff2500"/><stop offset="0.762" stop-color="#ff2400"/><stop offset="0.810" stop-color="#ff2300"/><stop offset="0.857" stop-color="#ff2300"/><stop offset="0.905" stop-color="#ff2300"/><stop offset="0.952" stop-color="#ff2300"/><stop offset="1.000" stop-color="#ff2400"/></linearGradient><linearGradient id="r67"><stop offset="0.000" stop-color="#ff0002"/><stop offset="0.048" stop-color="#ff0300"/><stop offset="0.095" stop-color="#ff0b00"/><stop offset="0.143" stop-color="#ff1500"/><stop offset="0.190" stop-color="#ff2000"/><stop offset="0.238" stop-color="#ff2c00"/><stop offset="0.286" stop-color="#ff3600"/><stop offset="0.333" stop-color="#ff3c00"/><stop offset="0.381" stop-color="#ff3c00"/><stop offset="0.429" stop-color="#ff3b00"/><stop offset="0.476" stop-color="#ff3700"/><stop offset="0.524" stop-color="#ff3300"/><stop offset="0.571" stop-color="#ff2e00"/><stop offset="0.619" stop-color="#ff2a00"/><stop offset="0.667" stop-color="#ff2600"/><stop offset="0.714" stop-color="#ff2400"/><stop offset="0.762" stop-color="#ff2200"/><stop offset="0.810" stop-color="#ff2200"/><stop offset="0.857" stop-color="#ff2100"/><stop offset="0.905" stop-color="#ff2100"/><stop offset="0.952" stop-color="#ff2200"/><stop offset="1.000" stop-color="#ff2300"/></linearGradient><linearGradient id="r68"><stop offset="0.000" stop-color="#ff0004"/><stop offset="0.048" stop-color="#ff0100"/><stop offset="0.095" stop-color="#ff0900"/><stop offset="0.143" stop-color="#ff1400"/><stop offset="0.190" stop-color="#ff1f00"/><stop offset="0.238" stop-color="#ff2a00"/><stop offset="0.286" stop-color="#ff3500"/><stop offset="0.333" stop-color="#ff3b00"/><stop offset="0.381" stop-color="#ff3b00"/><stop offset="0.429" stop-color="#ff3900"/><stop offset="0.476" stop-color="#ff3500"/><stop offset="0.524" stop-color="#ff3100"/><stop offset="0.571" stop-color="#ff2d00"/><stop offset="0.619" stop-color="#ff2800"/><stop offset="0.667" stop-color="#ff2400"/><stop offset="0.714" stop-color="#ff2200"/><stop offset="0.762" stop-color="#ff2100"/><stop offset="0.810" stop-color="#ff2000"/><stop offset="0.857" stop-color="#ff2000"/><stop offset="0.905" stop-color="#ff2000"/><stop offset="0.952" stop-color="#ff2100"/><stop offset="1.000" stop-color="#ff2200"/></linearGradient><linearGradient id="r69"><stop offset="0.000" stop-color="#ff0006"/><stop offset="0.048" stop-color="#ff0001"/><stop offset="0.095" stop-color="#ff0800"/><stop offset="0.143" stop-color="#ff1200"/><stop offset="0.190" stop-color="#ff1d00"/><stop offset="0.238" stop-color="#ff2900"/><stop offset="0.286" stop-color="#ff3400"/><stop offset="0.333" stop-color="#ff3a00"/><stop offset="0.381" stop-color="#ff3900"/><stop offset="0.429" stop-color="#ff3700"/><stop offset="0.476" stop-color="#ff3300"/><stop offset="0.524" stop-color="#ff2f00"/><stop offset="0.571" stop-color="#ff2b00"/><stop offset="0.619" stop-color="#ff2600"/><stop offset="0.667" stop-color="#ff2300"/><stop offset="0.714" stop-color="#ff2100"/><stop offset="0.762" stop-color="#ff2000"/><stop offset="0.810" stop-color="#ff1f00"/><stop offset="0.857" stop-color="#ff1f00"/><stop offset="0.905" stop-color="#ff1f00"/><stop offset="0.952" stop-color="#ff2000"/><stop offset="1.000" stop-color="#ff2100"/></linearGradient><linearGradient id="r70"><stop offset="0.000" stop-color="#ff0009"/><stop offset="0.048" stop-color="#ff0003"/><stop offset="0.095" stop-color="#ff0600"/><stop offset="0.143" stop-color="#ff1100"/><stop offset="0.190" stop-color="#ff1c00"/><stop offset="0.238" stop-color="#ff2800"/><stop offset="0.286" stop-color="#ff3300"/><stop offset="0.333" stop-color="#ff3900"/><stop offset="0.381" stop-color="#ff3800"/><stop offset="0.429" stop-color="#ff3500"/><stop offset="0.476" stop-color="#ff3100"/><stop offset="0.524" stop-color="#ff2d00"/><stop offset="0.571" stop-color="#ff2900"/><stop offset="0.619" stop-color="#ff2500"/><stop offset="0.667" stop-color="#ff2100"/><stop offset="0.714" stop-color="#ff1f00"/><stop offset="0.762" stop-color="#ff1e00"/><stop offset="0.810" stop-color="#ff1e00"/><stop offset="0.857" stop-color="#ff1d00"/><stop offset="0.905" stop-color="#ff1e00"/><stop offset="0.952" stop-color="#ff1f00"/><stop offset="1.000" stop-color="#ff2000"/></linearGradient><linearGradient id="r71"><stop offset="0.000" stop-color="#ff000b"/><stop offset="0.048" stop-color="#ff0005"/><stop offset="0.095" stop-color="#ff0400"/><stop offset="0.143" stop-color="#ff0f00"/><stop offset="0.190" stop-color="#ff1b00"/><stop offset="0.238" stop-color="#ff2700"/><stop offset="0.286" stop-color="#ff3300"/><stop offset="0.333" stop-color="#ff3800"/><stop offset="0.381" stop-color="#ff3700"/><stop offset="0.429" stop-color="#ff3400"/><stop offset="0.476" stop-color="#ff2f00"/><stop offset="0.524" stop-color="#ff2b00"/><stop offset="0.571" stop-color="#ff2700"/><stop offset="0.619" stop-color="#ff2300"/><stop offset="0.667" stop-color="#ff1f00"/><stop offset="0.714" stop-color="#ff1e00"/><stop offset="0.762" stop-color="#ff1d00"/><stop offset="0.810" stop-color="#ff1c00"/><stop offset="0.857" stop-color="#ff1c00"/><stop offset="0.905" stop-color="#ff1d00"/><stop offset="0.952" stop-color="#ff1e00"/><stop offset="1.000" stop-color="#ff1e00"/></linearGradient><linearGradient id="r72"><stop offset="0.000" stop-color="#ff000d"/><stop offset="0.048" stop-color="#ff0007"/><stop offset="0.095" stop-color="#ff0300"/><stop offset="0.143" stop-color="#ff0d00"/><stop offset="0.190" stop-color="#ff1900"/><stop offset="0.238" stop-color="#ff2600"/><stop offset="0.286" stop-color="#ff3200"/><stop offset="0.333" stop-color="#ff3700"/><stop offset="0.381" stop-color="#ff3500"/><stop offset="0.429" stop-color="#ff3200"/><stop offset="0.476" stop-color="#ff2d00"/><stop offset="0.524" stop-color="#ff2900"/><stop offset="0.571" stop-color="#ff2500"/><stop offset="0.619" stop-color="#ff2100"/><stop offset="0.667" stop-color="#ff1e00"/><stop offset="0.714" stop-color="#ff1c00"/><stop offset="0.762" stop-color="#ff1b00"/><stop offset="0.810" stop-color="#ff1b00"/><stop offset="0.857" stop-color="#ff1b00"/><stop offset="0.905" stop-color="#ff1b00"/><stop offset="0.952" stop-color="#ff1c00"/><stop offset="1.000" stop-color="#ff1d00"/></linearGradient><linearGradient id="r73"><stop offset="0.000" stop-color="#ff000f"/><stop offset="0.048" stop-color="#ff0009"/><stop offset="0.095" stop-color="#ff0100"/><stop offset="0.143" stop-color="#ff0c00"/><stop offset="0.190" stop-color="#ff1800"/><stop offset="0.238" stop-color="#ff2500"/><stop offset="0.286" stop-color="#ff3100"/><stop offset="0.333" stop-color="#ff3600"/><stop offset="0.381" stop-color="#ff3400"/><stop offset="0.429" stop-color="#ff3000"/><stop offset="0.476" stop-color="#ff2b00"/><stop offset="0.524" stop-color="#ff2700"/><stop offset="0.571" stop-color="#ff2300"/><stop offset="0.619" stop-color="#ff1f00"/><stop offset="0.667" stop-color="#ff1c00"/><stop offset="0.714" stop-color="#ff1b00"/><stop offset="0.762" stop-color="#ff1a00"/><stop offset="0.810" stop-color="#ff1a00"/><stop offset="0.857" stop-color="#ff1a00"/><stop offset="0.905" stop-color="#ff1a00"/><stop offset="0.952" stop-color="#ff1b00"/><stop offset="1.000" stop-color="#ff1c00"/></linearGradient><linearGradient id="r74"><stop offset="0.000" stop-color="#ff0012"/><stop offset="0.048" stop-color="#ff000b"/><stop offset="0.095" stop-color="#ff0001"/><stop offset="0.143" stop-color="#ff0a00"/><stop offset="0.190" stop-color="#ff1700"/><stop offset="0.238" stop-color="#ff2400"/><stop offset="0.286" stop-color="#ff3000"/><stop offset="0.333" stop-color="#ff3600"/><stop offset="0.381" stop-color="#ff3300"/><stop offset="0.429" stop-color="#ff2f00"/><stop offset="0.476" stop-color="#ff2a00"/><stop offset="0.524" stop-color="#ff2500"/><stop offset="0.571" stop-color="#ff2100"/><stop offset="0.619" stop-color="#ff1e00"/><stop offset="0.667" stop-color="#ff1b00"/><stop offset="0.714" stop-color="#ff1900"/><stop offset="0.762" stop-color="#ff1800"/><stop offset="0.810" stop-color="#ff1800"/><stop offset="0.857" stop-color="#ff1800"/><stop offset="0.905" stop-color="#ff1900"/><stop offset="0.952" stop-color="#ff1a00"/><stop offset="1.000" stop-color="#ff1b00"/></linearGradient><linearGradient id="r75"><stop offset="0.000" stop-color="#ff0014"/><stop offset="0.048" stop-color="#ff000c"/><stop offset="0.095" stop-color="#ff0003"/><stop offset="0.143" stop-color="#ff0900"/><stop offset="0.190" stop-color="#ff1500"/><stop offset="0.238" stop-color="#ff2300"/><stop offset="0.286" stop-color="#ff3000"/><stop offset="0.333" stop-color="#ff3500"/><stop offset="0.381" stop-color="#ff3200"/><stop offset="0.429" stop-color="#ff2d00"/><stop offset="0.476" stop-color="#ff2800"/><stop offset="0.524" stop-color="#ff2300"/><stop offset="0.571" stop-color="#ff1f00"/><stop offset="0.619" stop-color="#ff1c00"/><stop offset="0.667" stop-color="#ff1900"/><stop offset="0.714" stop-color="#ff1800"/><stop offset="0.762" stop-color="#ff1700"/><stop offset="0.810" stop-color="#ff1700"/><stop offset="0.857" stop-color="#ff1700"/><stop offset="0.905" stop-color="#ff1800"/><stop offset="0.952" stop-color="#ff1900"/><stop offset="1.000" stop-color="#ff1a00"/></linearGradient><linearGradient id="r76"><stop offset="0.000" stop-color="#ff0016"/><stop offset="0.048" stop-color="#ff000e"/><stop offset="0.095" stop-color="#ff0004"/><stop offset="0.143" stop-color="#ff0700"/><stop offset="0.190" stop-color="#ff1400"/><stop offset="0.238" stop-color="#ff2200"/><stop offset="0.286" stop-color="#ff2f00"/><stop offset="0.333" stop-color="#ff3400"/><stop offset="0.381" stop-color="#ff3100"/><stop offset="0.429" stop-color="#ff2b00"/><stop offset="0.476" stop-color="#ff2600"/><stop offset="0.524" stop-color="#ff2100"/><stop offset="0.571" stop-color="#ff1e00"/><stop offset="0.619" stop-color="#ff1a00"/><stop offset="0.667" stop-color="#ff1700"/><stop offset="0.714" stop-color="#ff1600"/><stop offset="0.762" stop-color="#ff1600"/><stop offset="0.810" stop-color="#ff1500"/><stop offset="0.857" stop-color="#ff1600"/><stop offset="0.905" stop-color="#ff1700"/><stop offset="0.952" stop-color="#ff1800"/><stop offset="1.000" stop-color="#ff1900"/></linearGradient><linearGradient id="r77"><stop offset="0.000" stop-color="#ff0018"/><stop offset="0.048" stop-color="#ff0010"/><stop offset="0.095" stop-color="#ff0006"/><stop offset="0.143" stop-color="#ff0500"/><stop offset="0.190" stop-color="#ff1200"/><stop offset="0.238" stop-color="#ff2100"/><stop offset="0.286" stop-color="#ff2e00"/><stop offset="0.333" stop-color="#ff3300"/><stop offset="0.381" stop-color="#ff3000"/><stop offset="0.429" stop-color="#ff2a00"/><stop offset="0.476" stop-color="#ff2400"/><stop offset="0.524" stop-color="#ff1f00"/><stop offset="0.571" stop-color="#ff1c00"/><stop offset="0.619" stop-color="#ff1800"/><stop offset="0.667" stop-color="#ff1600"/><stop offset="0.714" stop-color="#ff1500"/><stop offset="0.762" stop-color="#ff1400"/><stop offset="0.810" stop-color="#ff1400"/><stop offset="0.857" stop-color="#ff1500"/><stop offset="0.905" stop-color="#ff1600"/><stop offset="0.952" stop-color="#ff1700"/><stop offset="1.000" stop-color="#ff1800"/></linearGradient><linearGradient id="r78"><stop offset="0.000" stop-color="#ff001a"/><stop offset="0.048" stop-color="#ff0012"/><stop offset="0.095" stop-color="#ff0008"/><stop offset="0.143" stop-color="#ff0400"/><stop offset="0.190" stop-color="#ff1100"/><stop offset="0.238" stop-color="#ff2000"/><stop offset="0.286" stop-color="#ff2e00"/><stop offset="0.333" stop-color="#ff3300"/><stop offset="0.381" stop-color="#ff2f00"/><stop offset="0.429" stop-color="#ff2800"/><stop offset="0.476" stop-color="#ff2200"/><stop offset="0.524" stop-color="#ff1d00"/><stop offset="0.571" stop-color="#ff1a00"/><stop offset="0.619" stop-color="#ff1700"/><stop offset="0.667" stop-color="#ff1400"/><stop offset="0.714" stop-color="#ff1300"/><stop offset="0.762" stop-color="#ff1300"/><stop offset="0.810" stop-color="#ff1300"/><stop offset="0.857" stop-color="#ff1300"/><stop offset="0.905" stop-color="#ff1400"/><stop offset="0.952" stop-color="#ff1600"/><stop offset="1.000" stop-color="#ff1700"/></linearGradient><linearGradient id="r79"><stop offset="0.000" stop-color="#ff001d"/><stop offset="0.048" stop-color="#ff0014"/><stop offset="0.095" stop-color="#ff000a"/><stop offset="0.143" stop-color="#ff0200"/><stop offset="0.190" stop-color="#ff1000"/><stop offset="0.238" stop-color="#ff1f00"/><stop offset="0.286" stop-color="#ff2d00"/><stop offset="0.333" stop-color="#ff3200"/><stop offset="0.381" stop-color="#ff2d00"/><stop offset="0.429" stop-color="#ff2700"/><stop offset="0.476" stop-color="#ff2000"/><stop offset="0.524" stop-color="#ff1c00"/><stop offset="0.571" stop-color="#ff1800"/><stop offset="0.619" stop-color="#ff1500"/><stop offset="0.667" stop-color="#ff1300"/><stop offset="0.714" stop-color="#ff1200"/><stop offset="0.762" stop-color="#ff1100"/><stop offset="0.810" stop-color="#ff1200"/><stop offset="0.857" stop-color="#ff1200"/><stop offset="0.905" stop-color="#ff1300"/><stop offset="0.952" stop-color="#ff1400"/><stop offset="1.000" stop-color="#ff1500"/></linearGradient><linearGradient id="r80"><stop offset="0.000" stop-color="#ff001f"/><stop offset="0.048" stop-color="#ff0016"/><stop offset="0.095" stop-color="#ff000b"/><stop offset="0.143" stop-color="#ff0000"/><stop offset="0.190" stop-color="#ff0e00"/><stop offset="0.238" stop-color="#ff1e00"/><stop offset="0.286" stop-color="#ff2c00"/><stop offset="0.333" stop-color="#ff3100"/><stop offset="0.381" stop-color="#ff2c00"/><stop offset="0.429" stop-color="#ff2500"/><stop offset="0.476" stop-color="#ff1f00"/><stop offset="0.524" stop-color="#ff1a00"/><stop offset="0.571" stop-color="#ff1600"/><stop offset="0.619" stop-color="#ff1300"/><stop offset="0.667" stop-color="#ff1100"/><stop offset="0.714" stop-color="#ff1000"/><stop offset="0.762" stop-color="#ff1000"/><stop offset="0.810" stop-color="#ff1000"/><stop offset="0.857" stop-color="#ff1100"/><stop offset="0.905" stop-color="#ff1200"/><stop offset="0.952" stop-color="#ff1300"/><stop offset="1.000" stop-color="#ff1400"/></linearGradient><linearGradient id="r81"><stop offset="0.000" stop-color="#ff0020"/><stop offset="0.048" stop-color="#ff0018"/><stop offset="0.095" stop-color="#ff000d"/><stop offset="0.143" stop-color="#ff0001"/><stop offset="0.190" stop-color="#ff0d00"/><stop offset="0.238" stop-color="#ff1d00"/><stop offset="0.286" stop-color="#ff2b00"/><stop offset="0.333" stop-color="#ff3000"/><stop offset="0.381" stop-color="#ff2b00"/><stop offset="0.429" stop-color="#ff2300"/><stop offset="0.476" stop-color="#ff1d00"/><stop offset="0.524" stop-color="#ff1800"/><stop offset="0.571" stop-color="#ff1500"/><stop offset="0.619" stop-color="#ff1200"/><stop offset="0.667" stop-color="#ff1000"/><stop offset="0.714" stop-color="#ff0f00"/><stop offset="0.762" stop-color="#ff0f00"/><stop offset="0.810" stop-color="#ff0f00"/><stop offset="0.857" stop-color="#ff1000"/><stop offset="0.905" stop-color="#ff1100"/><stop offset="0.952" stop-color="#ff1200"/><stop offset="1.000" stop-color="#ff1300"/></linearGradient><linearGradient id="r82"><stop offset="0.000" stop-color="#ff0022"/><stop offset="0.048" stop-color="#ff001a"/><stop offset="0.095" stop-color="#ff000f"/><stop offset="0.143" stop-color="#ff0003"/><stop offset="0.190" stop-color="#ff0b00"/><stop offset="0.238" stop-color="#ff1b00"/><stop offset="0.286" stop-color="#ff2a00"/><stop offset="0.333" stop-color="#ff2f00"/><stop offset="0.381" stop-color="#ff2900"/><stop offset="0.429" stop-color="#ff2200"/><stop offset="0.476" stop-color="#ff1b00"/><stop offset="0.524" stop-color="#ff1600"/><stop offset="0.571" stop-color="#ff1300"/><stop offset="0.619" stop-color="#ff1000"/><stop offset="0.667" stop-color="#ff0e00"/><stop offset="0.714" stop-color="#ff0d00"/><stop offset="0.762" stop-color="#ff0d00"/><stop offset="0.810" stop-color="#ff0e00"/><stop offset="0.857" stop-color="#ff0e00"/><stop offset="0.905" stop-color="#ff0f00"/><stop offset="0.952" stop-color="#ff1100"/><stop offset="1.000" stop-color="#ff1200"/></linearGradient><linearGradient id="r83"><stop offset="0.000" stop-color="#ff0024"/><stop offset="0.048" stop-color="#ff001b"/><stop offset="0.095" stop-color="#ff0010"/><stop offset="0.143" stop-color="#ff0004"/><stop offset="0.190" stop-color="#ff0a00"/><stop offset="0.238" stop-color="#ff1a00"/><stop offset="0.286" stop-color="#ff2800"/><stop offset="0.333" stop-color="#ff2d00"/><stop offset="0.381" stop-color="#ff2800"/><stop offset="0.429" stop-color="#ff2000"/><stop offset="0.476" stop-color="#ff1900"/><stop offset="0.524" stop-color="#ff1500"/><stop offset="0.571" stop-color="#ff1100"/><stop offset="0.619" stop-color="#ff0f00"/><stop offset="0.667" stop-color="#ff0d00"/><stop offset="0.714" stop-color="#ff0c00"/><stop offset="0.762" stop-color="#ff0c00"/><stop offset="0.810" stop-color="#ff0c00"/><stop offset="0.857" stop-color="#ff0d00"/><stop offset="0.905" stop-color="#ff0e00"/><stop offset="0.952" stop-color="#ff0f00"/><stop offset="1.000" stop-color="#ff1000"/></linearGradient><linearGradient id="r84"><stop offset="0.000" stop-color="#ff0026"/><stop offset="0.048" stop-color="#ff001d"/><stop offset="0.095" stop-color="#ff0012"/><stop offset="0.143" stop-color="#ff0006"/><stop offset="0.190" stop-color="#ff0800"/><stop offset="0.238" stop-color="#ff1800"/><stop offset="0.286" stop-color="#ff2700"/><stop offset="0.333" stop-color="#ff2c00"/><stop offset="0.381" stop-color="#ff2600"/><stop offset="0.429" stop-color="#ff1f00"/><stop offset="0.476" stop-color="#ff1800"/><stop offset="0.524" stop-color="#ff1300"/><stop offset="0.571" stop-color="#ff1000"/><stop offset="0.619" stop-color="#ff0d00"/><stop offset="0.667" stop-color="#ff0b00"/><stop offset="0.714" stop-color="#ff0b00"/><stop offset="0.762" stop-color="#ff0b00"/><stop offset="0.810" stop-color="#ff0b00"/><stop offset="0.857" stop-color="#ff0c00"/><stop offset="0.905" stop-color="#ff0d00"/><stop offset="0.952" stop-color="#ff0e00"/><stop offset="1.000" stop-color="#ff0f00"/></linearGradient><linearGradient id="r85"><stop offset="0.000" stop-color="#ff0027"/><stop offset="0.048" stop-color="#ff001e"/><stop offset="0.095" stop-color="#ff0014"/><stop offset="0.143" stop-color="#ff0008"/><stop offset="0.190" stop-color="#ff0700"/><stop offset="0.238" stop-color="#ff1700"/><stop offset="0.286" stop-color="#ff2500"/><stop offset="0.333" stop-color="#ff2a00"/><stop offset="0.381" stop-color="#ff2500"/><stop offset="0.429" stop-color="#ff1d00"/><stop offset="0.476" stop-color="#ff1600"/><stop offset="0.524" stop-color="#ff1100"/><stop offset="0.571" stop-color="#ff0e00"/><stop offset="0.619" stop-color="#ff0c00"/><stop offset="0.667" stop-color="#ff0a00"/><stop offset="0.714" stop-color="#ff0900"/><stop offset="0.762" stop-color="#ff0900"/><stop offset="0.810" stop-color="#ff0a00"/><stop offset="0.857" stop-color="#ff0b00"/><stop offset="0.905" stop-color="#ff0c00"/><stop offset="0.952" stop-color="#ff0d00"/><stop offset="1.000" stop-color="#ff0e00"/></linearGradient><linearGradient id="r86"><stop offset="0.000" stop-color="#ff0028"/><stop offset="0.048" stop-color="#ff0020"/><stop offset="0.095" stop-color="#ff0015"/><stop offset="0.143" stop-color="#ff0009"/><stop offset="0.190" stop-color="#ff0500"/><stop offset="0.238" stop-color="#ff1500"/><stop offset="0.286" stop-color="#ff2400"/><stop offset="0.333" stop-color="#ff2900"/><stop offset="0.381" stop-color="#ff2300"/><stop offset="0.429" stop-color="#ff1b00"/><stop offset="0.476" stop-color="#ff1400"/><stop offset="0.524" stop-color="#ff1000"/><stop offset="0.571" stop-color="#ff0d00"/><stop offset="0.619" stop-color="#ff0b00"/><stop offset="0.667" stop-color="#ff0900"/><stop offset="0.714" stop-color="#ff0800"/><stop offset="0.762" stop-color="#ff0800"/><stop offset="0.810" stop-color="#ff0900"/><stop offset="0.857" stop-color="#ff0900"/><stop offset="0.905" stop-color="#ff0a00"/><stop offset="0.952" stop-color="#ff0b00"/><stop offset="1.000" stop-color="#ff0c00"/></linearGradient><linearGradient id="r87"><stop offset="0.000" stop-color="#ff002a"/><stop offset="0.048" stop-color="#ff0022"/><stop offset="0.095" stop-color="#ff0017"/><stop offset="0.143" stop-color="#ff000b"/><stop offset="0.190" stop-color="#ff0300"/><stop offset="0.238" stop-color="#ff1300"/><stop offset="0.286" stop-color="#ff2200"/><stop offset="0.333" stop-color="#ff2700"/><stop offset="0.381" stop-color="#ff2100"/><stop offset="0.429" stop-color="#ff1a00"/><stop offset="0.476" stop-color="#ff1300"/><stop offset="0.524" stop-color="#ff0e00"/><stop offset="0.571" stop-color="#ff0b00"/><stop offset="0.619" stop-color="#ff0900"/><stop offset="0.667" stop-color="#ff0700"/><stop offset="0.714" stop-color="#ff0700"/><stop offset="0.762" stop-color="#ff0700"/><stop offset="0.810" stop-color="#ff0700"/><stop offset="0.857" stop-color="#ff0800"/><stop offset="0.905" stop-color="#ff0900"/><stop offset="0.952" stop-color="#ff0a00"/><stop offset="1.000" stop-color="#ff0b00"/></linearGradient><linearGradient id="r88"><stop offset="0.000" stop-color="#ff002b"/><stop offset="0.048" stop-color="#ff0023"/><stop offset="0.095" stop-color="#ff0019"/><stop offset="0.143" stop-color="#ff000d"/><stop offset="0.190" stop-color="#ff0100"/><stop offset="0.238" stop-color="#ff1100"/><stop offset="0.286" stop-color="#ff1f00"/><stop offset="0.333" stop-color="#ff2400"/><stop offset="0.381" stop-color="#ff1f00"/><stop offset="0.429" stop-color="#ff1800"/><stop offset="0.476" stop-color="#ff1100"/><stop offset="0.524" stop-color="#ff0d00"/><stop offset="0.571" stop-color="#ff0a00"/><stop offset="0.619" stop-color="#ff0800"/><stop offset="0.667" stop-color="#ff0600"/><stop offset="0.714" stop-color="#ff0600"/><stop offset="0.762" stop-color="#ff0600"/><stop offset="0.810" stop-color="#ff0600"/><stop offset="0.857" stop-color="#ff0700"/><stop offset="0.905" stop-color="#ff0800"/><stop offset="0.952" stop-color="#ff0900"/><stop offset="1.000" stop-color="#ff0a00"/></linearGradient><linearGradient id="r89"><stop offset="0.000" stop-color="#ff002c"/><stop offset="0.048" stop-color="#ff0025"/><stop offset="0.095" stop-color="#ff001a"/><stop offset="0.143" stop-color="#ff000f"/><stop offset="0.190" stop-color="#ff0001"/><stop offset="0.238" stop-color="#ff0f00"/><stop offset="0.286" stop-color="#ff1d00"/><stop offset="0.333" stop-color="#ff2200"/><stop offset="0.381" stop-color="#ff1d00"/><stop offset="0.429" stop-color="#ff1600"/><stop offset="0.476" stop-color="#ff1000"/><stop offset="0.524" stop-color="#ff0b00"/><stop offset="0.571" stop-color="#ff0900"/><stop offset="0.619" stop-color="#ff0700"/><stop offset="0.667" stop-color="#ff0500"/><stop offset="0.714" stop-color="#ff0500"/><stop offset="0.762" stop-color="#ff0400"/><stop offset="0.810" stop-color="#ff0500"/><stop offset="0.857" stop-color="#ff0600"/><stop offset="0.905" stop-color="#ff0600"/><stop offset="0.952" stop-color="#ff0700"/><stop offset="1.000" stop-color="#ff0800"/></linearGradient><linearGradient id="r90"><stop offset="0.000" stop-color="#ff002d"/><stop offset="0.048" stop-color="#ff0026"/><stop offset="0.095" stop-color="#ff001c"/><stop offset="0.143" stop-color="#ff0010"/><stop offset="0.190" stop-color="#ff0003"/><stop offset="0.238" stop-color="#ff0d00"/><stop offset="0.286" stop-color="#ff1b00"/><stop offset="0.333" stop-color="#ff2000"/><stop offset="0.381" stop-color="#ff1b00"/><stop offset="0.429" stop-color="#ff1400"/><stop offset="0.476" stop-color="#ff0e00"/><stop offset="0.524" stop-color="#ff0a00"/><stop offset="0.571" stop-color="#ff0700"/><stop offset="0.619" stop-color="#ff0500"/><stop offset="0.667" stop-color="#ff0400"/><stop offset="0.714" stop-color="#ff0300"/><stop offset="0.762" stop-color="#ff0300"/><stop offset="0.810" stop-color="#ff0300"/><stop offset="0.857" stop-color="#ff0400"/><stop offset="0.905" stop-color="#ff0500"/><stop offset="0.952" stop-color="#ff0600"/><stop offset="1.000" stop-color="#ff0700"/></linearGradient><linearGradient id="r91"><stop offset="0.000" stop-color="#ff002f"/><stop offset="0.048" stop-color="#ff0027"/><stop offset="0.095" stop-color="#ff001e"/><stop offset="0.143" stop-color="#ff0012"/><stop offset="0.190" stop-color="#ff0005"/><stop offset="0.238" stop-color="#ff0a00"/><stop offset="0.286" stop-color="#ff1800"/><stop offset="0.333" stop-color="#ff1d00"/><stop offset="0.381" stop-color="#ff1900"/><stop offset="0.429" stop-color="#ff1200"/><stop offset="0.476" stop-color="#ff0c00"/><stop offset="0.524" stop-color="#ff0800"/><stop offset="0.571" stop-color="#ff0600"/><stop offset="0.619" stop-color="#ff0400"/><stop offset="0.667" stop-color="#ff0300"/><stop offset="0.714" stop-color="#ff0200"/><stop offset="0.762" stop-color="#ff0200"/><stop offset="0.810" stop-color="#ff0200"/><stop offset="0.857" stop-color="#ff0300"/><stop offset="0.905" stop-color="#ff0400"/><stop offset="0.952" stop-color="#ff0500"/><stop offset="1.000" stop-color="#ff0500"/></linearGradient><linearGradient id="r92"><stop offset="0.000" stop-color="#ff0030"/><stop offset="0.048" stop-color="#ff0029"/><stop offset="0.095" stop-color="#ff001f"/><stop offset="0.143" stop-color="#ff0014"/><stop offset="0.190" stop-color="#ff0007"/><stop offset="0.238" stop-color="#ff0800"/><stop offset="0.286" stop-color="#ff1500"/><stop offset="0.333" stop-color="#ff1a00"/><stop offset="0.381" stop-color="#ff1600"/><stop offset="0.429" stop-color="#ff1000"/><stop offset="0.476" stop-color="#ff0b00"/><stop offset="0.524" stop-color="#ff0700"/><stop offset="0.571" stop-color="#ff0500"/><stop offset="0.619" stop-color="#ff0300"/><stop offset="0.667" stop-color="#ff0100"/><stop offset="0.714" stop-color="#ff0100"/><stop offset="0.762" stop-color="#ff0100"/><stop offset="0.810" stop-color="#ff0100"/><stop offset="0.857" stop-color="#ff0200"/><stop offset="0.905" stop-color="#ff0200"/><stop offset="0.952" stop-color="#ff0300"/><stop offset="1.000" stop-color="#ff0400"/></linearGradient><linearGradient id="r93"><stop offset="0.000" stop-color="#ff0031"/><stop offset="0.048" stop-color="#ff002a"/><stop offset="0.095" stop-color="#ff0021"/><stop offset="0.143" stop-color="#ff0016"/><stop offset="0.190" stop-color="#ff0009"/><stop offset="0.238" stop-color="#ff0600"/><stop offset="0.286" stop-color="#ff1300"/><stop offset="0.333" stop-color="#ff1800"/><stop offset="0.381" stop-color="#ff1400"/><stop offset="0.429" stop-color="#ff0e00"/><stop offset="0.476" stop-color="#ff0900"/><stop offset="0.524" stop-color="#ff0500"/><stop offset="0.571" stop-color="#ff0300"/><stop offset="0.619" stop-color="#ff0100"/><stop offset="0.667" stop-color="#ff0000"/><stop offset="0.714" stop-color="#ff0000"/><stop offset="0.762" stop-color="#ff0001"/><stop offset="0.810" stop-color="#ff0000"/><stop offset="0.857" stop-color="#ff0000"/><stop offset="0.905" stop-color="#ff0100"/><stop offset="0.952" stop-color="#ff0200"/><stop offset="1.000" stop-color="#ff0200"/></linearGradient><linearGradient id="r94"><stop offset="0.000" stop-color="#ff0032"/><stop offset="0.048" stop-color="#ff002b"/><stop offset="0.095" stop-color="#ff0022"/><stop offset="0.143" stop-color="#ff0017"/><stop offset="0.190" stop-color="#ff000b"/><stop offset="0.238" stop-color="#ff0300"/><stop offset="0.286" stop-color="#ff1000"/><stop offset="0.333" stop-color="#ff1500"/><stop offset="0.381" stop-color="#ff1100"/><stop offset="0.429" stop-color="#ff0c00"/><stop offset="0.476" stop-color="#ff0700"/><stop offset="0.524" stop-color="#ff0400"/><stop offset="0.571" stop-color="#ff0200"/><stop offset="0.619" stop-color="#ff0000"/><stop offset="0.667" stop-color="#ff0001"/><stop offset="0.714" stop-color="#ff0002"/><stop offset="0.762" stop-color="#ff0002"/><stop offset="0.810" stop-color="#ff0002"/><stop offset="0.857" stop-color="#ff0001"/><stop offset="0.905" stop-color="#ff0000"/><stop offset="0.952" stop-color="#ff0000"/><stop offset="1.000" stop-color="#ff0100"/></linearGradient><linearGradient id="r95"><stop offset="0.000" stop-color="#ff0033"/><stop offset="0.048" stop-color="#ff002d"/><stop offset="0.095" stop-color="#ff0024"/><stop offset="0.143" stop-color="#ff0019"/><stop offset="0.190" stop-color="#ff000d"/><stop offset="0.238" stop-color="#ff0100"/><stop offset="0.286" stop-color="#ff0d00"/><stop offset="0.333" stop-color="#ff1200"/><stop offset="0.381" stop-color="#ff0f00"/><stop offset="0.429" stop-color="#ff0a00"/><stop offset="0.476" stop-color="#ff0600"/><stop offset="0.524" stop-color="#ff0200"/><stop offset="0.571" stop-color="#ff0000"/><stop offset="0.619" stop-color="#ff0001"/><stop offset="0.667" stop-color="#ff0002"/><stop offset="0.714" stop-color="#ff0003"/><stop offset="0.762" stop-color="#ff0003"/><stop offset="0.810" stop-color="#ff0003"/><stop offset="0.857" stop-color="#ff0002"/><stop offset="0.905" stop-color="#ff0002"/><stop offset="0.952" stop-color="#ff0001"/><stop offset="1.000" stop-color="#ff0001"/></linearGradient><linearGradient id="r96"><stop offset="0.000" stop-color="#ff0034"/><stop offset="0.048" stop-color="#ff002e"/><stop offset="0.095" stop-color="#ff0025"/><stop offset="0.143" stop-color="#ff001b"/><stop offset="0.190" stop-color="#ff000f"/><stop offset="0.238" stop-color="#ff0002"/><stop offset="0.286" stop-color="#ff0a00"/><stop offset="0.333" stop-color="#ff0f00"/><stop offset="0.381" stop-color="#ff0c00"/><stop offset="0.429" stop-color="#ff0800"/><stop offset="0.476" stop-color="#ff0400"/><stop offset="0.524" stop-color="#ff0100"/><stop offset="0.571" stop-color="#ff0001"/><stop offset="0.619" stop-color="#ff0003"/><stop offset="0.667" stop-color="#ff0004"/><stop offset="0.714" stop-color="#ff0004"/><stop offset="0.762" stop-color="#ff0005"/><stop offset="0.810" stop-color="#ff0004"/><stop offset="0.857" stop-color="#ff0004"/><stop offset="0.905" stop-color="#ff0003"/><stop offset="0.952" stop-color="#ff0003"/><stop offset="1.000" stop-color="#ff0002"/></linearGradient><linearGradient id="r97"><stop offset="0.000" stop-color="#ff0035"/><stop offset="0.048" stop-color="#ff002f"/><stop offset="0.095" stop-color="#ff0027"/><stop offset="0.143" stop-color="#ff001c"/><stop offset="0.190" stop-color="#ff0011"/><stop offset="0.238" stop-color="#ff0005"/><stop offset="0.286" stop-color="#ff0700"/><stop offset="0.333" stop-color="#ff0c00"/><stop offset="0.381" stop-color="#ff0a00"/><stop offset="0.429" stop-color="#ff0600"/><stop offset="0.476" stop-color="#ff0200"/><stop offset="0.524" stop-color="#ff0001"/><stop offset="0.571" stop-color="#ff0003"/><stop offset="0.619" stop-color="#ff0004"/><stop offset="0.667" stop-color="#ff0005"/><stop offset="0.714" stop-color="#ff0006"/><stop offset="0.762" stop-color="#ff0006"/><stop offset="0.810" stop-color="#ff0006"/><stop offset="0.857" stop-color="#ff0005"/><stop offset="0.905" stop-color="#ff0005"/><stop offset="0.952" stop-color="#ff0004"/><stop offset="1.000" stop-color="#ff0004"/></linearGradient><linearGradient id="r98"><stop offset="0.000" stop-color="#ff0035"/><stop offset="0.048" stop-color="#ff0030"/><stop offset="0.095" stop-color="#ff0028"/><stop offset="0.143" stop-color="#ff001e"/><stop offset="0.190" stop-color="#ff0013"/><stop offset="0.238" stop-color="#ff0007"/><stop offset="0.286" stop-color="#ff0400"/><stop offset="0.333" stop-color="#ff0900"/><stop offset="0.381" stop-color="#ff0700"/><stop offset="0.429" stop-color="#ff0400"/><stop offset="0.476" stop-color="#ff0100"/><stop offset="0.524" stop-color="#ff0002"/><stop offset="0.571" stop-color="#ff0004"/><stop offset="0.619" stop-color="#ff0006"/><stop offset="0.667" stop-color="#ff0007"/><stop offset="0.714" stop-color="#ff0007"/><stop offset="0.762" stop-color="#ff0007"/><stop offset="0.810" stop-color="#ff0007"/><stop offset="0.857" stop-color="#ff0007"/><stop offset="0.905" stop-color="#ff0006"/><stop offset="0.952" stop-color="#ff0006"/><stop offset="1.000" stop-color="#ff0005"/></linearGradient><linearGradient id="r99"><stop offset="0.000" stop-color="#ff0036"/><stop offset="0.048" stop-color="#ff0031"/><stop offset="0.095" stop-color="#ff0029"/><stop offset="0.143" stop-color="#ff0020"/><stop offset="0.190" stop-color="#ff0015"/><stop offset="0.238" stop-color="#ff0009"/><stop offset="0.286" stop-color="#ff0100"/><stop offset="0.333" stop-color="#ff0600"/><stop offset="0.381" stop-color="#ff0500"/><stop offset="0.429" stop-color="#ff0200"/><stop offset="0.476" stop-color="#ff0001"/><stop offset="0.524" stop-color="#ff0004"/><stop offset="0.571" stop-color="#ff0006"/><stop offset="0.619" stop-color="#ff0007"/><stop offset="0.667" stop-color="#ff0008"/><stop offset="0.714" stop-color="#ff0008"/><stop offset="0.762" stop-color="#ff0009"/><stop offset="0.810" stop-color="#ff0009"/><stop offset="0.857" stop-color="#ff0008"/><stop offset="0.905" stop-color="#ff0008"/><stop offset="0.952" stop-color="#ff0007"/><stop offset="1.000" stop-color="#ff0007"/></linearGradient><linearGradient id="r100"><stop offset="0.000" stop-color="#ff0037"/><stop offset="0.048" stop-color="#ff0032"/><stop offset="0.095" stop-color="#ff002b"/><stop offset="0.143" stop-color="#ff0021"/><stop offset="0.190" stop-color="#ff0017"/><stop offset="0.238" stop-color="#ff000c"/><stop offset="0.286" stop-color="#ff0002"/><stop offset="0.333" stop-color="#ff0300"/><stop offset="0.381" stop-color="#ff0200"/><stop offset="0.429" stop-color="#ff0000"/><stop offset="0.476" stop-color="#ff0003"/><stop offset="0.524" stop-color="#ff0006"/><stop offset="0.571" stop-color="#ff0007"/><stop offset="0.619" stop-color="#ff0009"/><stop offset="0.667" stop-color="#ff000a"/><stop offset="0.714" stop-color="#ff000a"/><stop offset="0.762" stop-color="#ff000a"/><stop offset="0.810" stop-color="#ff000a"/><stop offset="0.857" stop-color="#ff000a"/><stop offset="0.905" stop-color="#ff0009"/><stop offset="0.952" stop-color="#ff0009"/><stop offset="1.000" stop-color="#ff0009"/></linearGradient><linearGradient id="r101"><stop offset="0.000" stop-color="#ff0038"/><stop offset="0.048" stop-color="#ff0033"/><stop offset="0.095" stop-color="#ff002c"/><stop offset="0.143" stop-color="#ff0023"/><stop offset="0.190" stop-color="#ff0019"/><stop offset="0.238" stop-color="#ff000e"/><stop offset="0.286" stop-color="#ff0004"/><stop offset="0.333" stop-color="#ff0100"/><stop offset="0.381" stop-color="#ff0000"/><stop offset="0.429" stop-color="#ff0002"/><stop offset="0.476" stop-color="#ff0005"/><stop offset="0.524" stop-color="#ff0007"/><stop offset="0.571" stop-color="#ff0009"/><stop offset="0.619" stop-color="#ff000a"/><stop offset="0.667" stop-color="#ff000b"/><stop offset="0.714" stop-color="#ff000b"/><stop offset="0.762" stop-color="#ff000c"/><stop offset="0.810" stop-color="#ff000c"/><stop offset="0.857" stop-color="#ff000b"/><stop offset="0.905" stop-color="#ff000b"/><stop offset="0.952" stop-color="#ff000b"/><stop offset="1.000" stop-color="#ff000a"/></linearGradient><linearGradient id="r102"><stop offset="0.000" stop-color="#ff0039"/><stop offset="0.048" stop-color="#ff0034"/><stop offset="0.095" stop-color="#ff002d"/><stop offset="0.143" stop-color="#ff0024"/><stop offset="0.190" stop-color="#ff001b"/><stop offset="0.238" stop-color="#ff0011"/><stop offset="0.286" stop-color="#ff0007"/><stop offset="0.333" stop-color="#ff0002"/><stop offset="0.381" stop-color="#ff0003"/><stop offset="0.429" stop-color="#ff0004"/><stop offset="0.476" stop-color="#ff0007"/><stop offset="0.524" stop-color="#ff0009"/><stop offset="0.571" stop-color="#ff000b"/><stop offset="0.619" stop-color="#ff000c"/><stop offset="0.667" stop-color="#ff000d"/><stop offset="0.714" stop-color="#ff000d"/><stop offset="0.762" stop-color="#ff000d"/><stop offset="0.810" stop-color="#ff000d"/><stop offset="0.857" stop-color="#ff000d"/><stop offset="0.905" stop-color="#ff000d"/><stop offset="0.952" stop-color="#ff000c"/><stop offset="1.000" stop-color="#ff000c"/></linearGradient><linearGradient id="r103"><stop offset="0.000" stop-color="#ff0039"/><stop offset="0.048" stop-color="#ff0035"/><stop offset="0.095" stop-color="#ff002e"/><stop offset="0.143" stop-color="#ff0026"/><stop offset="0.190" stop-color="#ff001d"/><stop offset="0.238" stop-color="#ff0013"/><stop offset="0.286" stop-color="#ff000a"/><stop offset="0.333" stop-color="#ff0005"/><stop offset="0.381" stop-color="#ff0005"/><stop offset="0.429" stop-color="#ff0006"/><stop offset="0.476" stop-color="#ff0009"/><stop offset="0.524" stop-color="#ff000b"/><stop offset="0.571" stop-color="#ff000c"/><stop offset="0.619" stop-color="#ff000d"/><stop offset="0.667" stop-color="#ff000e"/><stop offset="0.714" stop-color="#ff000f"/><stop offset="0.762" stop-color="#ff000f"/><stop offset="0.810" stop-color="#ff000f"/><stop offset="0.857" stop-color="#ff000e"/><stop offset="0.905" stop-color="#ff000e"/><stop offset="0.952" stop-color="#ff000e"/><stop offset="1.000" stop-color="#ff000e"/></linearGradient><linearGradient id="r104"><stop offset="0.000" stop-color="#ff003a"/><stop offset="0.048" stop-color="#ff0036"/><stop offset="0.095" stop-color="#ff002f"/><stop offset="0.143" stop-color="#ff0027"/><stop offset="0.190" stop-color="#ff001e"/><stop offset="0.238" stop-color="#ff0015"/><stop offset="0.286" stop-color="#ff000c"/><stop offset="0.333" stop-color="#ff0008"/><stop offset="0.381" stop-color="#ff0007"/><stop offset="0.429" stop-color="#ff0008"/><stop offset="0.476" stop-color="#ff000a"/><stop offset="0.524" stop-color="#ff000c"/><stop offset="0.571" stop-color="#ff000e"/><stop offset="0.619" stop-color="#ff000f"/><stop offset="0.667" stop-color="#ff0010"/><stop offset="0.714" stop-color="#ff0010"/><stop offset="0.762" stop-color="#ff0010"/><stop offset="0.810" stop-color="#ff0010"/><stop offset="0.857" stop-color="#ff0010"/><stop offset="0.905" stop-color="#ff0010"/><stop offset="0.952" stop-color="#ff0010"/><stop offset="1.000" stop-color="#ff000f"/></linearGradient><linearGradient id="r105"><stop offset="0.000" stop-color="#ff003b"/><stop offset="0.048" stop-color="#ff0037"/><stop offset="0.095" stop-color="#ff0030"/><stop offset="0.143" stop-color="#ff0029"/><stop offset="0.190" stop-color="#ff0020"/><stop offset="0.238" stop-color="#ff0017"/><stop offset="0.286" stop-color="#ff000f"/><stop offset="0.333" stop-color="#ff000a"/><stop offset="0.381" stop-color="#ff000a"/><stop offset="0.429" stop-color="#ff000b"/><stop offset="0.476" stop-color="#ff000c"/><stop offset="0.524" stop-color="#ff000e"/><stop offset="0.571" stop-color="#ff0010"/><stop offset="0.619" stop-color="#ff0011"/><stop offset="0.667" stop-color="#ff0011"/><stop offset="0.714" stop-color="#ff0012"/><stop offset="0.762" stop-color="#ff0012"/><stop offset="0.810" stop-color="#ff0012"/><stop offset="0.857" stop-color="#ff0012"/><stop offset="0.905" stop-color="#ff0011"/><stop offset="0.952" stop-color="#ff0011"/><stop offset="1.000" stop-color="#ff0011"/></linearGradient><linearGradient id="r106"><stop offset="0.000" stop-color="#ff003c"/><stop offset="0.048" stop-color="#ff0037"/><stop offset="0.095" stop-color="#ff0031"/><stop offset="0.143" stop-color="#ff002a"/><stop offset="0.190" stop-color="#ff0022"/><stop offset="0.238" stop-color="#ff0019"/><stop offset="0.286" stop-color="#ff0011"/><stop offset="0.333" stop-color="#ff000d"/><stop offset="0.381" stop-color="#ff000c"/><stop offset="0.429" stop-color="#ff000d"/><stop offset="0.476" stop-color="#ff000e"/><stop offset="0.524" stop-color="#ff0010"/><stop offset="0.571" stop-color="#ff0011"/><stop offset="0.619" stop-color="#ff0012"/><stop offset="0.667" stop-color="#ff0013"/><stop offset="0.714" stop-color="#ff0013"/><stop offset="0.762" stop-color="#ff0014"/><stop offset="0.810" stop-color="#ff0014"/><stop offset="0.857" stop-color="#ff0013"/><stop offset="0.905" stop-color="#ff0013"/><stop offset="0.952" stop-color="#ff0013"/><stop offset="1.000" stop-color="#ff0013"/></linearGradient><linearGradient id="r107"><stop offset="0.000" stop-color="#ff003c"/><stop offset="0.048" stop-color="#ff0038"/><stop offset="0.095" stop-color="#ff0032"/><stop offset="0.143" stop-color="#ff002b"/><stop offset="0.190" stop-color="#ff0024"/><stop offset="0.238" stop-color="#ff001c"/><stop offset="0.286" stop-color="#ff0014"/><stop offset="0.333" stop-color="#ff000f"/><stop offset="0.381" stop-color="#ff000e"/><stop offset="0.429" stop-color="#ff000f"/><stop offset="0.476" stop-color="#ff0010"/><stop offset="0.524" stop-color="#ff0012"/><stop offset="0.571" stop-color="#ff0013"/><stop offset="0.619" stop-color="#ff0014"/><stop offset="0.667" stop-color="#ff0015"/><stop offset="0.714" stop-color="#ff0015"/><stop offset="0.762" stop-color="#ff0015"/><stop offset="0.810" stop-color="#ff0015"/><stop offset="0.857" stop-color="#ff0015"/><stop offset="0.905" stop-color="#ff0015"/><stop offset="0.952" stop-color="#ff0015"/><stop offset="1.000" stop-color="#ff0014"/></linearGradient><linearGradient id="r108"><stop offset="0.000" stop-color="#ff003d"/><stop offset="0.048" stop-color="#ff0039"/><stop offset="0.095" stop-color="#ff0033"/><stop offset="0.143" stop-color="#ff002d"/><stop offset="0.190" stop-color="#ff0025"/><stop offset="0.238" stop-color="#ff001e"/><stop offset="0.286" stop-color="#ff0016"/><stop offset="0.333" stop-color="#ff0011"/><stop offset="0.381" stop-color="#ff0011"/><stop offset="0.429" stop-color="#ff0011"/><stop offset="0.476" stop-color="#ff0012"/><stop offset="0.524" stop-color="#ff0013"/><stop offset="0.571" stop-color="#ff0015"/><stop offset="0.619" stop-color="#ff0016"/><stop offset="0.667" stop-color="#ff0016"/><stop offset="0.714" stop-color="#ff0017"/><stop offset="0.762" stop-color="#ff0017"/><stop offset="0.810" stop-color="#ff0017"/><stop offset="0.857" stop-color="#ff0017"/><stop offset="0.905" stop-color="#ff0016"/><stop offset="0.952" stop-color="#ff0016"/><stop offset="1.000" stop-color="#ff0016"/></linearGradient><linearGradient id="r109"><stop offset="0.000" stop-color="#ff003e"/><stop offset="0.048" stop-color="#ff003a"/><stop offset="0.095" stop-color="#ff0034"/><stop offset="0.143" stop-color="#ff002e"/><stop offset="0.190" stop-color="#ff0027"/><stop offset="0.238" stop-color="#ff0020"/><stop offset="0.286" stop-color="#ff0018"/><stop offset="0.333" stop-color="#ff0014"/><stop offset="0.381" stop-color="#ff0013"/><stop offset="0.429" stop-color="#ff0013"/><stop offset="0.476" stop-color="#ff0014"/><stop offset="0.524" stop-color="#ff0015"/><stop offset="0.571" stop-color="#ff0016"/><stop offset="0.619" stop-color="#ff0017"/><stop offset="0.667" stop-color="#ff0018"/><stop offset="0.714" stop-color="#ff0018"/><stop offset="0.762" stop-color="#ff0018"/><stop offset="0.810" stop-color="#ff0018"/><stop offset="0.857" stop-color="#ff0018"/><stop offset="0.905" stop-color="#ff0018"/><stop offset="0.952" stop-color="#ff0018"/><stop offset="1.000" stop-color="#ff0018"/></linearGradient><linearGradient id="r110"><stop offset="0.000" stop-color="#ff003e"/><stop offset="0.048" stop-color="#ff003b"/><stop offset="0.095" stop-color="#ff0035"/><stop offset="0.143" stop-color="#ff002f"/><stop offset="0.190" stop-color="#ff0029"/><stop offset="0.238" stop-color="#ff0021"/><stop offset="0.286" stop-color="#ff001a"/><stop offset="0.333" stop-color="#ff0016"/><stop offset="0.381" stop-color="#ff0015"/><stop offset="0.429" stop-color="#ff0015"/><stop offset="0.476" stop-color="#ff0016"/><stop offset="0.524" stop-color="#ff0017"/><stop offset="0.571" stop-color="#ff0018"/><stop offset="0.619" stop-color="#ff0019"/><stop offset="0.667" stop-color="#ff001a"/><stop offset="0.714" stop-color="#ff001a"/><stop offset="0.762" stop-color="#ff001a"/><stop offset="0.810" stop-color="#ff001a"/><stop offset="0.857" stop-color="#ff001a"/><stop offset="0.905" stop-color="#ff001a"/><stop offset="0.952" stop-color="#ff001a"/><stop offset="1.000" stop-color="#ff001a"/></linearGradient><linearGradient id="r111"><stop offset="0.000" stop-color="#ff003f"/><stop offset="0.048" stop-color="#ff003b"/><stop offset="0.095" stop-color="#ff0036"/><stop offset="0.143" stop-color="#ff0031"/><stop offset="0.190" stop-color="#ff002a"/><stop offset="0.238" stop-color="#ff0023"/><stop offset="0.286" stop-color="#ff001c"/><stop offset="0.333" stop-color="#ff0018"/><stop offset="0.381" stop-color="#ff0017"/><stop offset="0.429" stop-color="#ff0017"/><stop offset="0.476" stop-color="#ff0018"/><stop offset="0.524" stop-color="#ff0019"/><stop offset="0.571" stop-color="#ff001a"/><stop offset="0.619" stop-color="#ff001b"/><stop offset="0.667" stop-color="#ff001b"/><stop offset="0.714" stop-color="#ff001b"/><stop offset="0.762" stop-color="#ff001c"/><stop offset="0.810" stop-color="#ff001c"/><stop offset="0.857" stop-color="#ff001b"/><stop offset="0.905" stop-color="#ff001b"/><stop offset="0.952" stop-color="#ff001b"/><stop offset="1.000" stop-color="#ff001b"/></linearGradient><linearGradient id="r112"><stop offset="0.000" stop-color="#ff0040"/><stop offset="0.048" stop-color="#ff003c"/><stop offset="0.095" stop-color="#ff0037"/><stop offset="0.143" stop-color="#ff0032"/><stop offset="0.190" stop-color="#ff002c"/><stop offset="0.238" stop-color="#ff0025"/><stop offset="0.286" stop-color="#ff001e"/><stop offset="0.333" stop-color="#ff001a"/><stop offset="0.381" stop-color="#ff0019"/><stop offset="0.429" stop-color="#ff0019"/><stop offset="0.476" stop-color="#ff001a"/><stop offset="0.524" stop-color="#ff001b"/><stop offset="0.571" stop-color="#ff001c"/><stop offset="0.619" stop-color="#ff001c"/><stop offset="0.667" stop-color="#ff001d"/><stop offset="0.714" stop-color="#ff001d"/><stop offset="0.762" stop-color="#ff001d"/><stop offset="0.810" stop-color="#ff001d"/><stop offset="0.857" stop-color="#ff001d"/><stop offset="0.905" stop-color="#ff001d"/><stop offset="0.952" stop-color="#ff001d"/><stop offset="1.000" stop-color="#ff001d"/></linearGradient><linearGradient id="r113"><stop offset="0.000" stop-color="#ff0040"/><stop offset="0.048" stop-color="#ff003d"/><stop offset="0.095" stop-color="#ff0039"/><stop offset="0.143" stop-color="#ff0033"/><stop offset="0.190" stop-color="#ff002d"/><stop offset="0.238" stop-color="#ff0027"/><stop offset="0.286" stop-color="#ff0021"/><stop offset="0.333" stop-color="#ff001d"/><stop offset="0.381" stop-color="#ff001b"/><stop offset="0.429" stop-color="#ff001b"/><stop offset="0.476" stop-color="#ff001b"/><stop offset="0.524" stop-color="#ff001d"/><stop offset="0.571" stop-color="#ff001d"/><stop offset="0.619" stop-color="#ff001e"/><stop offset="0.667" stop-color="#ff001f"/><stop offset="0.714" stop-color="#ff001f"/><stop offset="0.762" stop-color="#ff001f"/><stop offset="0.810" stop-color="#ff001f"/><stop offset="0.857" stop-color="#ff001f"/><stop offset="0.905" stop-color="#ff001f"/><stop offset="0.952" stop-color="#ff001f"/><stop offset="1.000" stop-color="#ff001f"/></linearGradient><linearGradient id="r114"><stop offset="0.000" stop-color="#ff0041"/><stop offset="0.048" stop-color="#ff003e"/><stop offset="0.095" stop-color="#ff003a"/><stop offset="0.143" stop-color="#ff0034"/><stop offset="0.190" stop-color="#ff002f"/><stop offset="0.238" stop-color="#ff0029"/><stop offset="0.286" stop-color="#ff0023"/><stop offset="0.333" stop-color="#ff001f"/><stop offset="0.381" stop-color="#ff001d"/><stop offset="0.429" stop-color="#ff001d"/><stop offset="0.476" stop-color="#ff001d"/><stop offset="0.524" stop-color="#ff001e"/><stop offset="0.571" stop-color="#ff001f"/><stop offset="0.619" stop-color="#ff0020"/><stop offset="0.667" stop-color="#ff0020"/><stop offset="0.714" stop-color="#ff0020"/><stop offset="0.762" stop-color="#ff0020"/><stop offset="0.810" stop-color="#ff0020"/><stop offset="0.857" stop-color="#ff0020"/><stop offset="0.905" stop-color="#ff0020"/><stop offset="0.952" stop-color="#ff0020"/><stop offset="1.000" stop-color="#ff0020"/></linearGradient><linearGradient id="r115"><stop offset="0.000" stop-color="#ff0042"/><stop offset="0.048" stop-color="#ff003f"/><stop offset="0.095" stop-color="#ff003b"/><stop offset="0.143" stop-color="#ff0036"/><stop offset="0.190" stop-color="#ff0031"/><stop offset="0.238" stop-color="#ff002b"/><stop offset="0.286" stop-color="#ff0025"/><stop offset="0.333" stop-color="#ff0021"/><stop offset="0.381" stop-color="#ff0020"/><stop offset="0.429" stop-color="#ff001f"/><stop offset="0.476" stop-color="#ff001f"/><stop offset="0.524" stop-color="#ff0020"/><stop offset="0.571" stop-color="#ff0021"/><stop offset="0.619" stop-color="#ff0021"/><stop offset="0.667" stop-color="#ff0022"/><stop offset="0.714" stop-color="#ff0022"/><stop offset="0.762" stop-color="#ff0022"/><stop offset="0.810" stop-color="#ff0022"/><stop offset="0.857" stop-color="#ff0022"/><stop offset="0.905" stop-color="#ff0022"/><stop offset="0.952" stop-color="#ff0022"/><stop offset="1.000" stop-color="#ff0022"/></linearGradient><linearGradient id="r116"><stop offset="0.000" stop-color="#ff0042"/><stop offset="0.048" stop-color="#ff0040"/><stop offset="0.095" stop-color="#ff003c"/><stop offset="0.143" stop-color="#ff0037"/><stop offset="0.190" stop-color="#ff0032"/><stop offset="0.238" stop-color="#ff002c"/><stop offset="0.286" stop-color="#ff0027"/><stop offset="0.333" stop-color="#ff0023"/><stop offset="0.381" stop-color="#ff0022"/><stop offset="0.429" stop-color="#ff0021"/><stop offset="0.476" stop-color="#ff0021"/><stop offset="0.524" stop-color="#ff0022"/><stop offset="0.571" stop-color="#ff0023"/><stop offset="0.619" stop-color="#ff0023"/><stop offset="0.667" stop-color="#ff0023"/><stop offset="0.714" stop-color="#ff0024"/><stop offset="0.762" stop-color="#ff0024"/><stop offset="0.810" stop-color="#ff0024"/><stop offset="0.857" stop-color="#ff0024"/><stop offset="0.905" stop-color="#ff0024"/><stop offset="0.952" stop-color="#ff0024"/><stop offset="1.000" stop-color="#ff0023"/></linearGradient><linearGradient id="r117"><stop offset="0.000" stop-color="#ff0043"/><stop offset="0.048" stop-color="#ff0040"/><stop offset="0.095" stop-color="#ff003d"/><stop offset="0.143" stop-color="#ff0038"/><stop offset="0.190" stop-color="#ff0033"/><stop offset="0.238" stop-color="#ff002e"/><stop offset="0.286" stop-color="#ff0029"/><stop offset="0.333" stop-color="#ff0025"/><stop offset="0.381" stop-color="#ff0024"/><stop offset="0.429" stop-color="#ff0023"/><stop offset="0.476" stop-color="#ff0023"/><stop offset="0.524" stop-color="#ff0024"/><stop offset="0.571" stop-color="#ff0024"/><stop offset="0.619" stop-color="#ff0025"/><stop offset="0.667" stop-color="#ff0025"/><stop offset="0.714" stop-color="#ff0025"/><stop offset="0.762" stop-color="#ff0025"/><stop offset="0.810" stop-color="#ff0025"/><stop offset="0.857" stop-color="#ff0025"/><stop offset="0.905" stop-color="#ff0025"/><stop offset="0.952" stop-color="#ff0025"/><stop offset="1.000" stop-color="#ff0025"/></linearGradient><linearGradient id="r118"><stop offset="0.000" stop-color="#ff0044"/><stop offset="0.048" stop-color="#ff0041"/><stop offset="0.095" stop-color="#ff003e"/><stop offset="0.143" stop-color="#ff0039"/><stop offset="0.190" stop-color="#ff0035"/><stop offset="0.238" stop-color="#ff0030"/><stop offset="0.286" stop-color="#ff002b"/><stop offset="0.333" stop-color="#ff0027"/><stop offset="0.381" stop-color="#ff0026"/><stop offset="0.429" stop-color="#ff0025"/><stop offset="0.476" stop-color="#ff0025"/><stop offset="0.524" stop-color="#ff0026"/><stop offset="0.571" stop-color="#ff0026"/><stop offset="0.619" stop-color="#ff0026"/><stop offset="0.667" stop-color="#ff0027"/><stop offset="0.714" stop-color="#ff0027"/><stop offset="0.762" stop-color="#ff0027"/><stop offset="0.810" stop-color="#ff0027"/><stop offset="0.857" stop-color="#ff0027"/><stop offset="0.905" stop-color="#ff0027"/><stop offset="0.952" stop-color="#ff0027"/><stop offset="1.000" stop-color="#ff0027"/></linearGradient><linearGradient id="r119"><stop offset="0.000" stop-color="#ff0044"/><stop offset="0.048" stop-color="#ff0042"/><stop offset="0.095" stop-color="#ff003f"/><stop offset="0.143" stop-color="#ff003b"/><stop offset="0.190" stop-color="#ff0036"/><stop offset="0.238" stop-color="#ff0032"/><stop offset="0.286" stop-color="#ff002d"/><stop offset="0.333" stop-color="#ff0029"/><stop offset="0.381" stop-color="#ff0028"/><stop offset="0.429" stop-color="#ff0027"/><stop offset="0.476" stop-color="#ff0027"/><stop offset="0.524" stop-color="#ff0028"/><stop offset="0.571" stop-color="#ff0028"/><stop offset="0.619" stop-color="#ff0028"/><stop offset="0.667" stop-color="#ff0028"/><stop offset="0.714" stop-color="#ff0028"/><stop offset="0.762" stop-color="#ff0028"/><stop offset="0.810" stop-color="#ff0028"/><stop offset="0.857" stop-color="#ff0028"/><stop offset="0.905" stop-color="#ff0028"/><stop offset="0.952" stop-color="#ff0028"/><stop offset="1.000" stop-color="#ff0028"/></linearGradient><linearGradient id="r120"><stop offset="0.000" stop-color="#ff0045"/><stop offset="0.048" stop-color="#ff0043"/><stop offset="0.095" stop-color="#ff0040"/><stop offset="0.143" stop-color="#ff003c"/><stop offset="0.190" stop-color="#ff0038"/><stop offset="0.238" stop-color="#ff0033"/><stop offset="0.286" stop-color="#ff002f"/><stop offset="0.333" stop-color="#ff002b"/><stop offset="0.381" stop-color="#ff002a"/><stop offset="0.429" stop-color="#ff0029"/><stop offset="0.476" stop-color="#ff0029"/><stop offset="0.524" stop-color="#ff002a"/><stop offset="0.571" stop-color="#ff002a"/><stop offset="0.619" stop-color="#ff002a"/><stop offset="0.667" stop-color="#ff002a"/><stop offset="0.714" stop-color="#ff002a"/><stop offset="0.762" stop-color="#ff002a"/><stop offset="0.810" stop-color="#ff002a"/><stop offset="0.857" stop-color="#ff002a"/><stop offset="0.905" stop-color="#ff002a"/><stop offset="0.952" stop-color="#ff002a"/><stop offset="1.000" stop-color="#ff002a"/></linearGradient><linearGradient id="r121"><stop offset="0.000" stop-color="#ff0045"/><stop offset="0.048" stop-color="#ff0044"/><stop offset="0.095" stop-color="#ff0041"/><stop offset="0.143" stop-color="#ff003d"/><stop offset="0.190" stop-color="#ff0039"/><stop offset="0.238" stop-color="#ff0035"/><stop offset="0.286" stop-color="#ff0031"/><stop offset="0.333" stop-color="#ff002e"/><stop offset="0.381" stop-color="#ff002c"/><stop offset="0.429" stop-color="#ff002b"/><stop offset="0.476" stop-color="#ff002b"/><stop offset="0.524" stop-color="#ff002b"/><stop offset="0.571" stop-color="#ff002c"/><stop offset="0.619" stop-color="#ff002c"/><stop offset="0.667" stop-color="#ff002c"/><stop offset="0.714" stop-color="#ff002c"/><stop offset="0.762" stop-color="#ff002c"/><stop offset="0.810" stop-color="#ff002c"/><stop offset="0.857" stop-color="#ff002c"/><stop offset="0.905" stop-color="#ff002c"/><stop offset="0.952" stop-color="#ff002c"/><stop offset="1.000" stop-color="#ff002c"/></linearGradient><linearGradient id="r122"><stop offset="0.000" stop-color="#ff0046"/><stop offset="0.048" stop-color="#ff0044"/><stop offset="0.095" stop-color="#ff0042"/><stop offset="0.143" stop-color="#ff003e"/><stop offset="0.190" stop-color="#ff003b"/><stop offset="0.238" stop-color="#ff0037"/><stop offset="0.286" stop-color="#ff0033"/><stop offset="0.333" stop-color="#ff0030"/><stop offset="0.381" stop-color="#ff002e"/><stop offset="0.429" stop-color="#ff002d"/><stop offset="0.476" stop-color="#ff002d"/><stop offset="0.524" stop-color="#ff002d"/><stop offset="0.571" stop-color="#ff002d"/><stop offset="0.619" stop-color="#ff002d"/><stop offset="0.667" stop-color="#ff002d"/><stop offset="0.714" stop-color="#ff002d"/><stop offset="0.762" stop-color="#ff002d"/><stop offset="0.810" stop-color="#ff002d"/><stop offset="0.857" stop-color="#ff002d"/><stop offset="0.905" stop-color="#ff002d"/><stop offset="0.952" stop-color="#ff002d"/><stop offset="1.000" stop-color="#ff002d"/></linearGradient><linearGradient id="r123"><stop offset="0.000" stop-color="#ff0047"/><stop offset="0.048" stop-color="#ff0045"/><stop offset="0.095" stop-color="#ff0043"/><stop offset="0.143" stop-color="#ff0040"/><stop offset="0.190" stop-color="#ff003c"/><stop offset="0.238" stop-color="#ff0038"/><stop offset="0.286" stop-color="#ff0035"/><stop offset="0.333" stop-color="#ff0032"/><stop offset="0.381" stop-color="#ff0030"/><stop offset="0.429" stop-color="#ff002f"/><stop offset="0.476" stop-color="#ff002f"/><stop offset="0.524" stop-color="#ff002f"/><stop offset="0.571" stop-color="#ff002f"/><stop offset="0.619" stop-color="#ff002f"/><stop offset="0.667" stop-color="#ff002f"/><stop offset="0.714" stop-color="#ff002f"/><stop offset="0.762" stop-color="#ff002f"/><stop offset="0.810" stop-color="#ff002f"/><stop offset="0.857" stop-color="#ff002f"/><stop offset="0.905" stop-color="#ff002f"/><stop offset="0.952" stop-color="#ff002f"/><stop offset="1.000" stop-color="#ff002f"/></linearGradient><linearGradient id="r124"><stop offset="0.000" stop-color="#ff0047"/><stop offset="0.048" stop-color="#ff0046"/><stop offset="0.095" stop-color="#ff0044"/><stop offset="0.143" stop-color="#ff0041"/><stop offset="0.190" stop-color="#ff003e"/><stop offset="0.238" stop-color="#ff003a"/><stop offset="0.286" stop-color="#ff0037"/><stop offset="0.333" stop-color="#ff0034"/><stop offset="0.381" stop-color="#ff0033"/><stop offset="0.429" stop-color="#ff0032"/><stop offset="0.476" stop-color="#ff0031"/><stop offset="0.524" stop-color="#ff0031"/><stop offset="0.571" stop-color="#ff0031"/><stop offset="0.619" stop-color="#ff0031"/><stop offset="0.667" stop-color="#ff0030"/><stop offset="0.714" stop-color="#ff0030"/><stop offset="0.762" stop-color="#ff0030"/><stop offset="0.810" stop-color="#ff0030"/><stop offset="0.857" stop-color="#ff0030"/><stop offset="0.905" stop-color="#ff0030"/><stop offset="0.952" stop-color="#ff0030"/><stop offset="1.000" stop-color="#ff0030"/></linearGradient><linearGradient id="r125"><stop offset="0.000" stop-color="#ff0048"/><stop offset="0.048" stop-color="#ff0047"/><stop offset="0.095" stop-color="#ff0045"/><stop offset="0.143" stop-color="#ff0042"/><stop offset="0.190" stop-color="#ff003f"/><stop offset="0.238" stop-color="#ff003c"/><stop offset="0.286" stop-color="#ff0039"/><stop offset="0.333" stop-color="#ff0036"/><stop offset="0.381" stop-color="#ff0035"/><stop offset="0.429" stop-color="#ff0034"/><stop offset="0.476" stop-color="#ff0033"/><stop offset="0.524" stop-color="#ff0033"/><stop offset="0.571" stop-color="#ff0033"/><stop offset="0.619" stop-color="#ff0032"/><stop offset="0.667" stop-color="#ff0032"/><stop offset="0.714" stop-color="#ff0032"/><stop offset="0.762" stop-color="#ff0032"/><stop offset="0.810" stop-color="#ff0032"/><stop offset="0.857" stop-color="#ff0032"/><stop offset="0.905" stop-color="#ff0032"/><stop offset="0.952" stop-color="#ff0032"/><stop offset="1.000" stop-color="#ff0032"/></linearGradient><linearGradient id="r126"><stop offset="0.000" stop-color="#ff0049"/><stop offset="0.048" stop-color="#ff0048"/><stop offset="0.095" stop-color="#ff0047"/><stop offset="0.143" stop-color="#ff0044"/><stop offset="0.190" stop-color="#ff0041"/><stop offset="0.238" stop-color="#ff003e"/><stop offset="0.286" stop-color="#ff003b"/><stop offset="0.333" stop-color="#ff0038"/><stop offset="0.381" stop-color="#ff0037"/><stop offset="0.429" stop-color="#ff0036"/><stop offset="0.476" stop-color="#ff0035"/><stop offset="0.524" stop-color="#ff0035"/><stop offset="0.571" stop-color="#ff0034"/><stop offset="0.619" stop-color="#ff0034"/><stop offset="0.667" stop-color="#ff0034"/><stop offset="0.714" stop-color="#ff0033"/><stop offset="0.762" stop-color="#ff0033"/><stop offset="0.810" stop-color="#ff0033"/><stop offset="0.857" stop-color="#ff0033"/><stop offset="0.905" stop-color="#ff0033"/><stop offset="0.952" stop-color="#ff0033"/><stop offset="1.000" stop-color="#ff0033"/></linearGradient><linearGradient id="r127"><stop offset="0.000" stop-color="#ff0049"/><stop offset="0.048" stop-color="#ff0049"/><stop offset="0.095" stop-color="#ff0048"/><stop offset="0.143" stop-color="#ff0045"/><stop offset="0.190" stop-color="#ff0043"/><stop offset="0.238" stop-color="#ff0040"/><stop offset="0.286" stop-color="#ff003d"/><stop offset="0.333" stop-color="#ff003a"/><stop offset="0.381" stop-color="#ff0039"/><stop offset="0.429" stop-color="#ff0038"/><stop offset="0.476" stop-color="#ff0037"/><stop offset="0.524" stop-color="#ff0037"/><stop offset="0.571" stop-color="#ff0036"/><stop offset="0.619" stop-color="#ff0036"/><stop offset="0.667" stop-color="#ff0035"/><stop offset="0.714" stop-color="#ff0035"/><stop offset="0.762" stop-color="#ff0035"/><stop offset="0.810" stop-color="#ff0035"/><stop offset="0.857" stop-color="#ff0035"/><stop offset="0.905" stop-color="#ff0035"/><stop offset="0.952" stop-color="#ff0035"/><stop offset="1.000" stop-color="#ff0035"/></linearGradient><linearGradient id="r128"><stop offset="0.000" stop-color="#ff004a"/><stop offset="0.048" stop-color="#ff004a"/><stop offset="0.095" stop-color="#ff0049"/><stop offset="0.143" stop-color="#ff0047"/><stop offset="0.190" stop-color="#ff0044"/><stop offset="0.238" stop-color="#ff0041"/><stop offset="0.286" stop-color="#ff003f"/><stop offset="0.333" stop-color="#ff003c"/><stop offset="0.381" stop-color="#ff003b"/><stop offset="0.429" stop-color="#ff003a"/><stop offset="0.476" stop-color="#ff0039"/><stop offset="0.524" stop-color="#ff0039"/><stop offset="0.571" stop-color="#ff0038"/><stop offset="0.619" stop-color="#ff0037"/><stop offset="0.667" stop-color="#ff0037"/><stop offset="0.714" stop-color="#ff0037"/><stop offset="0.762" stop-color="#ff0036"/><stop offset="0.810" stop-color="#ff0036"/><stop offset="0.857" stop-color="#ff0036"/><stop offset="0.905" stop-color="#ff0036"/><stop offset="0.952" stop-color="#ff0036"/><stop offset="1.000" stop-color="#ff0036"/></linearGradient><linearGradient id="r129"><stop offset="0.000" stop-color="#ff004b"/><stop offset="0.048" stop-color="#ff004b"/><stop offset="0.095" stop-color="#ff004b"/><stop offset="0.143" stop-color="#ff0048"/><stop offset="0.190" stop-color="#ff0046"/><stop offset="0.238" stop-color="#ff0043"/><stop offset="0.286" stop-color="#ff0041"/><stop offset="0.333" stop-color="#ff003f"/><stop offset="0.381" stop-color="#ff003d"/><stop offset="0.429" stop-color="#ff003c"/><stop offset="0.476" stop-color="#ff003b"/><stop offset="0.524" stop-color="#ff003b"/><stop offset="0.571" stop-color="#ff003a"/><stop offset="0.619" stop-color="#ff0039"/><stop offset="0.667" stop-color="#ff0038"/><stop offset="0.714" stop-color="#ff0038"/><stop offset="0.762" stop-color="#ff0038"/><stop offset="0.810" stop-color="#ff0038"/><stop offset="0.857" stop-color="#ff0038"/><stop offset="0.905" stop-color="#ff0038"/><stop offset="0.952" stop-color="#ff0038"/><stop offset="1.000" stop-color="#ff0038"/></linearGradient><linearGradient id="r130"><stop offset="0.000" stop-color="#ff004c"/><stop offset="0.048" stop-color="#ff004c"/><stop offset="0.095" stop-color="#ff004c"/><stop offset="0.143" stop-color="#ff004a"/><stop offset="0.190" stop-color="#ff0048"/><stop offset="0.238" stop-color="#ff0045"/><stop offset="0.286" stop-color="#ff0043"/><stop offset="0.333" stop-color="#ff0041"/><stop offset="0.381" stop-color="#ff003f"/><stop offset="0.429" stop-color="#ff003e"/><stop offset="0.476" stop-color="#ff003d"/><stop offset="0.524" stop-color="#ff003c"/><stop offset="0.571" stop-color="#ff003c"/><stop offset="0.619" stop-color="#ff003b"/><stop offset="0.667" stop-color="#ff003a"/><stop offset="0.714" stop-color="#ff003a"/><stop offset="0.762" stop-color="#ff0039"/><stop offset="0.810" stop-color="#ff0039"/><stop offset="0.857" stop-color="#ff0039"/><stop offset="0.905" stop-color="#ff0039"/><stop offset="0.952" stop-color="#ff0039"/><stop offset="1.000" stop-color="#ff0039"/></linearGradient><linearGradient id="r131"><stop offset="0.000" stop-color="#ff004d"/><stop offset="0.048" stop-color="#ff004e"/><stop offset="0.095" stop-color="#ff004e"/><stop offset="0.143" stop-color="#ff004c"/><stop offset="0.190" stop-color="#ff004a"/><stop offset="0.238" stop-color="#ff0047"/><stop offset="0.286" stop-color="#ff0045"/><stop offset="0.333" stop-color="#ff0043"/><stop offset="0.381" stop-color="#ff0042"/><stop offset="0.429" stop-color="#ff0040"/><stop offset="0.476" stop-color="#ff003f"/><stop offset="0.524" stop-color="#ff003e"/><stop offset="0.571" stop-color="#ff003d"/><stop offset="0.619" stop-color="#ff003c"/><stop offset="0.667" stop-color="#ff003c"/><stop offset="0.714" stop-color="#ff003b"/><stop offset="0.762" stop-color="#ff003b"/><stop offset="0.810" stop-color="#ff003b"/><stop offset="0.857" stop-color="#ff003b"/><stop offset="0.905" stop-color="#ff003a"/><stop offset="0.952" stop-color="#ff003a"/><stop offset="1.000" stop-color="#ff003a"/></linearGradient><linearGradient id="r132"><stop offset="0.000" stop-color="#ff004d"/><stop offset="0.048" stop-color="#ff004f"/><stop offset="0.095" stop-color="#ff004f"/><stop offset="0.143" stop-color="#ff004e"/><stop offset="0.190" stop-color="#ff004c"/><stop offset="0.238" stop-color="#ff0049"/><stop offset="0.286" stop-color="#ff0047"/><stop offset="0.333" stop-color="#ff0045"/><stop offset="0.381" stop-color="#ff0044"/><stop offset="0.429" stop-color="#ff0042"/><stop offset="0.476" stop-color="#ff0041"/><stop offset="0.524" stop-color="#ff0040"/><stop offset="0.571" stop-color="#ff003f"/><stop offset="0.619" stop-color="#ff003e"/><stop offset="0.667" stop-color="#ff003d"/><stop offset="0.714" stop-color="#ff003d"/><stop offset="0.762" stop-color="#ff003c"/><stop offset="0.810" stop-color="#ff003c"/><stop offset="0.857" stop-color="#ff003c"/><stop offset="0.905" stop-color="#ff003c"/><stop offset="0.952" stop-color="#ff003c"/><stop offset="1.000" stop-color="#ff003c"/></linearGradient><linearGradient id="r133"><stop offset="0.000" stop-color="#ff004e"/><stop offset="0.048" stop-color="#ff0050"/><stop offset="0.095" stop-color="#ff0051"/><stop offset="0.143" stop-color="#ff004f"/><stop offset="0.190" stop-color="#ff004e"/><stop offset="0.238" stop-color="#ff004b"/><stop offset="0.286" stop-color="#ff0049"/><stop offset="0.333" stop-color="#ff0047"/><stop offset="0.381" stop-color="#ff0046"/><stop offset="0.429" stop-color="#ff0045"/><stop offset="0.476" stop-color="#ff0043"/><stop offset="0.524" stop-color="#ff0042"/><stop offset="0.571" stop-color="#ff0041"/><stop offset="0.619" stop-color="#ff0040"/><stop offset="0.667" stop-color="#ff003f"/><stop offset="0.714" stop-color="#ff003e"/><stop offset="0.762" stop-color="#ff003e"/><stop offset="0.810" stop-color="#ff003d"/><stop offset="0.857" stop-color="#ff003d"/><stop offset="0.905" stop-color="#ff003d"/><stop offset="0.952" stop-color="#ff003d"/><stop offset="1.000" stop-color="#ff003d"/></linearGradient><linearGradient id="r134"><stop offset="0.000" stop-color="#ff004f"/><stop offset="0.048" stop-color="#ff0052"/><stop offset="0.095" stop-color="#ff0053"/><stop offset="0.143" stop-color="#ff0051"/><stop offset="0.190" stop-color="#ff0050"/><stop offset="0.238" stop-color="#ff004e"/><stop offset="0.286" stop-color="#ff004b"/><stop offset="0.333" stop-color="#ff004a"/><stop offset="0.381" stop-color="#ff0048"/><stop offset="0.429" stop-color="#ff0047"/><stop offset="0.476" stop-color="#ff0045"/><stop offset="0.524" stop-color="#ff0044"/><stop offset="0.571" stop-color="#ff0043"/><stop offset="0.619" stop-color="#ff0041"/><stop offset="0.667" stop-color="#ff0040"/><stop offset="0.714" stop-color="#ff0040"/><stop offset="0.762" stop-color="#ff003f"/><stop offset="0.810" stop-color="#ff003f"/><stop offset="0.857" stop-color="#ff003e"/><stop offset="0.905" stop-color="#ff003e"/><stop offset="0.952" stop-color="#ff003e"/><stop offset="1.000" stop-color="#ff003e"/></linearGradient><linearGradient id="r135"><stop offset="0.000" stop-color="#ff0050"/><stop offset="0.048" stop-color="#ff0053"/><stop offset="0.095" stop-color="#ff0055"/><stop offset="0.143" stop-color="#ff0053"/><stop offset="0.190" stop-color="#ff0052"/><stop offset="0.238" stop-color="#ff0050"/><stop offset="0.286" stop-color="#ff004e"/><stop offset="0.333" stop-color="#ff004c"/><stop offset="0.381" stop-color="#ff004a"/><stop offset="0.429" stop-color="#ff0049"/><stop offset="0.476" stop-color="#ff0047"/><stop offset="0.524" stop-color="#ff0046"/><stop offset="0.571" stop-color="#ff0044"/><stop offset="0.619" stop-color="#ff0043"/><stop offset="0.667" stop-color="#ff0042"/><stop offset="0.714" stop-color="#ff0041"/><stop offset="0.762" stop-color="#ff0040"/><stop offset="0.810" stop-color="#ff0040"/><stop offset="0.857" stop-color="#ff0040"/><stop offset="0.905" stop-color="#ff0040"/><stop offset="0.952" stop-color="#ff003f"/><stop offset="1.000" stop-color="#ff003f"/></linearGradient><linearGradient id="r136"><stop offset="0.000" stop-color="#ff0051"/><stop offset="0.048" stop-color="#ff0054"/><stop offset="0.095" stop-color="#ff0056"/><stop offset="0.143" stop-color="#ff0055"/><stop offset="0.190" stop-color="#ff0054"/><stop offset="0.238" stop-color="#ff0052"/><stop offset="0.286" stop-color="#ff0050"/><stop offset="0.333" stop-color="#ff004e"/><stop offset="0.381" stop-color="#ff004d"/><stop offset="0.429" stop-color="#ff004b"/><stop offset="0.476" stop-color="#ff0049"/><stop offset="0.524" stop-color="#ff0048"/><stop offset="0.571" stop-color="#ff0046"/><stop offset="0.619" stop-color="#ff0045"/><stop offset="0.667" stop-color="#ff0043"/><stop offset="0.714" stop-color="#ff0042"/><stop offset="0.762" stop-color="#ff0042"/><stop offset="0.810" stop-color="#ff0041"/><stop offset="0.857" stop-color="#ff0041"/><stop offset="0.905" stop-color="#ff0041"/><stop offset="0.952" stop-color="#ff0041"/><stop offset="1.000" stop-color="#ff0041"/></linearGradient><linearGradient id="r137"><stop offset="0.000" stop-color="#ff0052"/><stop offset="0.048" stop-color="#ff0056"/><stop offset="0.095" stop-color="#ff0058"/><stop offset="0.143" stop-color="#ff0057"/><stop offset="0.190" stop-color="#ff0056"/><stop offset="0.238" stop-color="#ff0054"/><stop offset="0.286" stop-color="#ff0052"/><stop offset="0.333" stop-color="#ff0050"/><stop offset="0.381" stop-color="#ff004f"/><stop offset="0.429" stop-color="#ff004d"/><stop offset="0.476" stop-color="#ff004b"/><stop offset="0.524" stop-color="#ff004a"/><stop offset="0.571" stop-color="#ff0048"/><stop offset="0.619" stop-color="#ff0046"/><stop offset="0.667" stop-color="#ff0045"/><stop offset="0.714" stop-color="#ff0044"/><stop offset="0.762" stop-color="#ff0043"/><stop offset="0.810" stop-color="#ff0043"/><stop offset="0.857" stop-color="#ff0042"/><stop offset="0.905" stop-color="#ff0042"/><stop offset="0.952" stop-color="#ff0042"/><stop offset="1.000" stop-color="#ff0042"/></linearGradient><linearGradient id="r138"><stop offset="0.000" stop-color="#ff0053"/><stop offset="0.048" stop-color="#ff0057"/><stop offset="0.095" stop-color="#ff005a"/><stop offset="0.143" stop-color="#ff005a"/><stop offset="0.190" stop-color="#ff0058"/><stop offset="0.238" stop-color="#ff0056"/><stop offset="0.286" stop-color="#ff0054"/><stop offset="0.333" stop-color="#ff0053"/><stop offset="0.381" stop-color="#ff0051"/><stop offset="0.429" stop-color="#ff004f"/><stop offset="0.476" stop-color="#ff004d"/><stop offset="0.524" stop-color="#ff004b"/><stop offset="0.571" stop-color="#ff004a"/><stop offset="0.619" stop-color="#ff0048"/><stop offset="0.667" stop-color="#ff0046"/><stop offset="0.714" stop-color="#ff0045"/><stop offset="0.762" stop-color="#ff0044"/><stop offset="0.810" stop-color="#ff0044"/><stop offset="0.857" stop-color="#ff0043"/><stop offset="0.905" stop-color="#ff0043"/><stop offset="0.952" stop-color="#ff0043"/><stop offset="1.000" stop-color="#ff0043"/></linearGradient><linearGradient id="r139"><stop offset="0.000" stop-color="#ff0054"/><stop offset="0.048" stop-color="#ff0059"/><stop offset="0.095" stop-color="#ff005c"/><stop offset="0.143" stop-color="#ff005c"/><stop offset="0.190" stop-color="#ff005a"/><stop offset="0.238" stop-color="#ff0059"/><stop offset="0.286" stop-color="#ff0057"/><stop offset="0.333" stop-color="#ff0055"/><stop offset="0.381" stop-color="#ff0053"/><stop offset="0.429" stop-color="#ff0051"/><stop offset="0.476" stop-color="#ff004f"/><stop offset="0.524" stop-color="#ff004d"/><stop offset="0.571" stop-color="#ff004b"/><stop offset="0.619" stop-color="#ff004a"/><stop offset="0.667" stop-color="#ff0048"/><stop offset="0.714" stop-color="#ff0047"/><stop offset="0.762" stop-color="#ff0046"/><stop offset="0.810" stop-color="#ff0045"/><stop offset="0.857" stop-color="#ff0045"/><stop offset="0.905" stop-color="#ff0044"/><stop offset="0.952" stop-color="#ff0044"/><stop offset="1.000" stop-color="#ff0044"/></linearGradient><linearGradient id="r140"><stop offset="0.000" stop-color="#ff0055"/><stop offset="0.048" stop-color="#ff005a"/><stop offset="0.095" stop-color="#ff005e"/><stop offset="0.143" stop-color="#ff005e"/><stop offset="0.190" stop-color="#ff005d"/><stop offset="0.238" stop-color="#ff005b"/><stop offset="0.286" stop-color="#ff0059"/><stop offset="0.333" stop-color="#ff0057"/><stop offset="0.381" stop-color="#ff0055"/><stop offset="0.429" stop-color="#ff0053"/><stop offset="0.476" stop-color="#ff0051"/><stop offset="0.524" stop-color="#ff004f"/><stop offset="0.571" stop-color="#ff004d"/><stop offset="0.619" stop-color="#ff004b"/><stop offset="0.667" stop-color="#ff0049"/><stop offset="0.714" stop-color="#ff0048"/><stop offset="0.762" stop-color="#ff0047"/><stop offset="0.810" stop-color="#ff0046"/><stop offset="0.857" stop-color="#ff0046"/><stop offset="0.905" stop-color="#ff0045"/><stop offset="0.952" stop-color="#ff0045"/><stop offset="1.000" stop-color="#ff0045"/></linearGradient><linearGradient id="r141"><stop offset="0.000" stop-color="#ff0056"/><stop offset="0.048" stop-color="#ff005c"/><stop offset="0.095" stop-color="#ff0060"/><stop offset="0.143" stop-color="#ff0060"/><stop offset="0.190" stop-color="#ff005f"/><stop offset="0.238" stop-color="#ff005d"/><stop offset="0.286" stop-color="#ff005b"/><stop offset="0.333" stop-color="#ff0059"/><stop offset="0.381" stop-color="#ff0057"/><stop offset="0.429" stop-color="#ff0055"/><stop offset="0.476" stop-color="#ff0053"/><stop offset="0.524" stop-color="#ff0051"/><stop offset="0.571" stop-color="#ff004f"/><stop offset="0.619" stop-color="#ff004d"/><stop offset="0.667" stop-color="#ff004b"/><stop offset="0.714" stop-color="#ff0049"/><stop offset="0.762" stop-color="#ff0048"/><stop offset="0.810" stop-color="#ff0047"/><stop offset="0.857" stop-color="#ff0047"/><stop offset="0.905" stop-color="#ff0046"/><stop offset="0.952" stop-color="#ff0046"/><stop offset="1.000" stop-color="#ff0046"/></linearGradient><linearGradient id="r142"><stop offset="0.000" stop-color="#ff0057"/><stop offset="0.048" stop-color="#ff005d"/><stop offset="0.095" stop-color="#ff0062"/><stop offset="0.143" stop-color="#ff0062"/><stop offset="0.190" stop-color="#ff0061"/><stop offset="0.238" stop-color="#ff005f"/><stop offset="0.286" stop-color="#ff005d"/><stop offset="0.333" stop-color="#ff005b"/><stop offset="0.381" stop-color="#ff0059"/><stop offset="0.429" stop-color="#ff0057"/><stop offset="0.476" stop-color="#ff0055"/><stop offset="0.524" stop-color="#ff0053"/><stop offset="0.571" stop-color="#ff0050"/><stop offset="0.619" stop-color="#ff004e"/><stop offset="0.667" stop-color="#ff004c"/><stop offset="0.714" stop-color="#ff004b"/><stop offset="0.762" stop-color="#ff0049"/><stop offset="0.810" stop-color="#ff0049"/><stop offset="0.857" stop-color="#ff0048"/><stop offset="0.905" stop-color="#ff0048"/><stop offset="0.952" stop-color="#ff0048"/><stop offset="1.000" stop-color="#ff0048"/></linearGradient><linearGradient id="r143"><stop offset="0.000" stop-color="#ff0058"/><stop offset="0.048" stop-color="#ff005f"/><stop offset="0.095" stop-color="#ff0064"/><stop offset="0.143" stop-color="#ff0064"/><stop offset="0.190" stop-color="#ff0063"/><stop offset="0.238" stop-color="#ff0061"/><stop offset="0.286" stop-color="#ff005f"/><stop offset="0.333" stop-color="#ff005d"/><stop offset="0.381" stop-color="#ff005b"/><stop offset="0.429" stop-color="#ff0059"/><stop offset="0.476" stop-color="#ff0057"/><stop offset="0.524" stop-color="#ff0054"/><stop offset="0.571" stop-color="#ff0052"/><stop offset="0.619" stop-color="#ff0050"/><stop offset="0.667" stop-color="#ff004e"/><stop offset="0.714" stop-color="#ff004c"/><stop offset="0.762" stop-color="#ff004b"/><stop offset="0.810" stop-color="#ff004a"/><stop offset="0.857" stop-color="#ff0049"/><stop offset="0.905" stop-color="#ff0049"/><stop offset="0.952" stop-color="#ff0049"/><stop offset="1.000" stop-color="#ff0049"/></linearGradient><linearGradient id="r144"><stop offset="0.000" stop-color="#ff0059"/><stop offset="0.048" stop-color="#ff0060"/><stop offset="0.095" stop-color="#ff0066"/><stop offset="0.143" stop-color="#ff0066"/><stop offset="0.190" stop-color="#ff0065"/><stop offset="0.238" stop-color="#ff0063"/><stop offset="0.286" stop-color="#ff0061"/><stop offset="0.333" stop-color="#ff005f"/><stop offset="0.381" stop-color="#ff005d"/><stop offset="0.429" stop-color="#ff005b"/><stop offset="0.476" stop-color="#ff0059"/><stop offset="0.524" stop-color="#ff0056"/><stop offset="0.571" stop-color="#ff0054"/><stop offset="0.619" stop-color="#ff0051"/><stop offset="0.667" stop-color="#ff004f"/><stop offset="0.714" stop-color="#ff004d"/><stop offset="0.762" stop-color="#ff004c"/><stop offset="0.810" stop-color="#ff004b"/><stop offset="0.857" stop-color="#ff004a"/><stop offset="0.905" stop-color="#ff004a"/><stop offset="0.952" stop-color="#ff004a"/><stop offset="1.000" stop-color="#ff004a"/></linearGradient><linearGradient id="r145"><stop offset="0.000" stop-color="#ff0059"/><stop offset="0.048" stop-color="#ff0061"/><stop offset="0.095" stop-color="#ff0068"/><stop offset="0.143" stop-color="#ff0068"/><stop offset="0.190" stop-color="#ff0067"/><stop offset="0.238" stop-color="#ff0065"/><stop offset="0.286" stop-color="#ff0063"/><stop offset="0.333" stop-color="#ff0061"/><stop offset="0.381" stop-color="#ff005f"/><stop offset="0.429" stop-color="#ff005d"/><stop offset="0.476" stop-color="#ff005a"/><stop offset="0.524" stop-color="#ff0058"/><stop offset="0.571" stop-color="#ff0055"/><stop offset="0.619" stop-color="#ff0053"/><stop offset="0.667" stop-color="#ff0050"/><stop offset="0.714" stop-color="#ff004f"/><stop offset="0.762" stop-color="#ff004d"/><stop offset="0.810" stop-color="#ff004c"/><stop offset="0.857" stop-color="#ff004b"/><stop offset="0.905" stop-color="#ff004b"/><stop offset="0.952" stop-color="#ff004b"/><stop offset="1.000" stop-color="#ff004b"/></linearGradient><linearGradient id="r146"><stop offset="0.000" stop-color="#ff005a"/><stop offset="0.048" stop-color="#ff0063"/><stop offset="0.095" stop-color="#ff006a"/><stop offset="0.143" stop-color="#ff006a"/><stop offset="0.190" stop-color="#ff0069"/><stop offset="0.238" stop-color="#ff0067"/><stop offset="0.286" stop-color="#ff0065"/><stop offset="0.333" stop-color="#ff0064"/><stop offset="0.381" stop-color="#ff0062"/><stop offset="0.429" stop-color="#ff005f"/><stop offset="0.476" stop-color="#ff005c"/><stop offset="0.524" stop-color="#ff0059"/><stop offset="0.571" stop-color="#ff0057"/><stop offset="0.619" stop-color="#ff0054"/><stop offset="0.667" stop-color="#ff0052"/><stop offset="0.714" stop-color="#ff0050"/><stop offset="0.762" stop-color="#ff004e"/><stop offset="0.810" stop-color="#ff004d"/><stop offset="0.857" stop-color="#ff004c"/><stop offset="0.905" stop-color="#ff004c"/><stop offset="0.952" stop-color="#ff004c"/><stop offset="1.000" stop-color="#ff004c"/></linearGradient><linearGradient id="r147"><stop offset="0.000" stop-color="#ff005b"/><stop offset="0.048" stop-color="#ff0064"/><stop offset="0.095" stop-color="#ff006c"/><stop offset="0.143" stop-color="#ff006d"/><stop offset="0.190" stop-color="#ff006b"/><stop offset="0.238" stop-color="#ff0068"/><stop offset="0.286" stop-color="#ff0066"/><stop offset="0.333" stop-color="#ff0066"/><stop offset="0.381" stop-color="#ff0064"/><stop offset="0.429" stop-color="#ff0060"/><stop offset="0.476" stop-color="#ff005d"/><stop offset="0.524" stop-color="#ff005b"/><stop offset="0.571" stop-color="#ff0059"/><stop offset="0.619" stop-color="#ff0056"/><stop offset="0.667" stop-color="#ff0053"/><stop offset="0.714" stop-color="#ff0051"/><stop offset="0.762" stop-color="#ff004f"/><stop offset="0.810" stop-color="#ff004e"/><stop offset="0.857" stop-color="#ff004d"/><stop offset="0.905" stop-color="#ff004d"/><stop offset="0.952" stop-color="#ff004d"/><stop offset="1.000" stop-color="#ff004c"/></linearGradient><linearGradient id="r148"><stop offset="0.000" stop-color="#ff005c"/><stop offset="0.048" stop-color="#ff0065"/><stop offset="0.095" stop-color="#ff006e"/><stop offset="0.143" stop-color="#ff006f"/><stop offset="0.190" stop-color="#ff006d"/><stop offset="0.238" stop-color="#ff006a"/><stop offset="0.286" stop-color="#ff0068"/><stop offset="0.333" stop-color="#ff0069"/><stop offset="0.381" stop-color="#ff0066"/><stop offset="0.429" stop-color="#ff0062"/><stop offset="0.476" stop-color="#ff005f"/><stop offset="0.524" stop-color="#ff005d"/><stop offset="0.571" stop-color="#ff005a"/><stop offset="0.619" stop-color="#ff0057"/><stop offset="0.667" stop-color="#ff0054"/><stop offset="0.714" stop-color="#ff0052"/><stop offset="0.762" stop-color="#ff0050"/><stop offset="0.810" stop-color="#ff004f"/><stop offset="0.857" stop-color="#ff004e"/><stop offset="0.905" stop-color="#ff004e"/><stop offset="0.952" stop-color="#ff004d"/><stop offset="1.000" stop-color="#ff004d"/></linearGradient><linearGradient id="r149"><stop offset="0.000" stop-color="#ff005d"/><stop offset="0.048" stop-color="#ff0067"/><stop offset="0.095" stop-color="#ff0070"/><stop offset="0.143" stop-color="#ff0071"/><stop offset="0.190" stop-color="#ff006f"/><stop offset="0.238" stop-color="#ff006b"/><stop offset="0.286" stop-color="#ff0069"/><stop offset="0.333" stop-color="#ff006c"/><stop offset="0.381" stop-color="#ff0069"/><stop offset="0.429" stop-color="#ff0063"/><stop offset="0.476" stop-color="#ff0060"/><stop offset="0.524" stop-color="#ff005e"/><stop offset="0.571" stop-color="#ff005c"/><stop offset="0.619" stop-color="#ff0059"/><stop offset="0.667" stop-color="#ff0056"/><stop offset="0.714" stop-color="#ff0053"/><stop offset="0.762" stop-color="#ff0051"/><stop offset="0.810" stop-color="#ff0050"/><stop offset="0.857" stop-color="#ff004f"/><stop offset="0.905" stop-color="#ff004e"/><stop offset="0.952" stop-color="#ff004e"/><stop offset="1.000" stop-color="#ff004e"/></linearGradient><linearGradient id="r150"><stop offset="0.000" stop-color="#ff005e"/><stop offset="0.048" stop-color="#ff0068"/><stop offset="0.095" stop-color="#ff0072"/><stop offset="0.143" stop-color="#ff0074"/><stop offset="0.190" stop-color="#ff0070"/><stop offset="0.238" stop-color="#ff006c"/><stop offset="0.286" stop-color="#ff006b"/><stop offset="0.333" stop-color="#ff0070"/><stop offset="0.381" stop-color="#ff006d"/><stop offset="0.429" stop-color="#ff0064"/><stop offset="0.476" stop-color="#ff0062"/><stop offset="0.524" stop-color="#ff0060"/><stop offset="0.571" stop-color="#ff005f"/><stop offset="0.619" stop-color="#ff005b"/><stop offset="0.667" stop-color="#ff0057"/><stop offset="0.714" stop-color="#ff0054"/><stop offset="0.762" stop-color="#ff0052"/><stop offset="0.810" stop-color="#ff0051"/><stop offset="0.857" stop-color="#ff0050"/><stop offset="0.905" stop-color="#ff004f"/><stop offset="0.952" stop-color="#ff004f"/><stop offset="1.000" stop-color="#ff004f"/></linearGradient><linearGradient id="r151"><stop offset="0.000" stop-color="#ff005e"/><stop offset="0.048" stop-color="#ff0069"/><stop offset="0.095" stop-color="#ff0074"/><stop offset="0.143" stop-color="#ff0076"/><stop offset="0.190" stop-color="#ff0072"/><stop offset="0.238" stop-color="#ff006e"/><stop offset="0.286" stop-color="#ff006c"/><stop offset="0.333" stop-color="#ff0073"/><stop offset="0.381" stop-color="#ff0070"/><stop offset="0.429" stop-color="#ff0066"/><stop offset="0.476" stop-color="#ff0063"/><stop offset="0.524" stop-color="#ff0063"/><stop offset="0.571" stop-color="#ff0061"/><stop offset="0.619" stop-color="#ff005d"/><stop offset="0.667" stop-color="#ff0058"/><stop offset="0.714" stop-color="#ff0055"/><stop offset="0.762" stop-color="#ff0053"/><stop offset="0.810" stop-color="#ff0052"/><stop offset="0.857" stop-color="#ff0051"/><stop offset="0.905" stop-color="#ff0050"/><stop offset="0.952" stop-color="#ff0050"/><stop offset="1.000" stop-color="#ff0050"/></linearGradient><linearGradient id="r152"><stop offset="0.000" stop-color="#ff005f"/><stop offset="0.048" stop-color="#ff006a"/><stop offset="0.095" stop-color="#ff0077"/><stop offset="0.143" stop-color="#ff0079"/><stop offset="0.190" stop-color="#ff0074"/><stop offset="0.238" stop-color="#ff006f"/><stop offset="0.286" stop-color="#ff006e"/><stop offset="0.333" stop-color="#ff0077"/><stop offset="0.381" stop-color="#ff0074"/><stop offset="0.429" stop-color="#ff0067"/><stop offset="0.476" stop-color="#ff0065"/><stop offset="0.524" stop-color="#ff0065"/><stop offset="0.571" stop-color="#ff0065"/><stop offset="0.619" stop-color="#ff005f"/><stop offset="0.667" stop-color="#ff0059"/><stop offset="0.714" stop-color="#ff0056"/><stop offset="0.762" stop-color="#ff0054"/><stop offset="0.810" stop-color="#ff0052"/><stop offset="0.857" stop-color="#ff0052"/><stop offset="0.905" stop-color="#ff0051"/><stop offset="0.952" stop-color="#ff0051"/><stop offset="1.000" stop-color="#ff0051"/></linearGradient><linearGradient id="r153"><stop offset="0.000" stop-color="#ff0060"/><stop offset="0.048" stop-color="#ff006c"/><stop offset="0.095" stop-color="#ff0079"/><stop offset="0.143" stop-color="#ff007d"/><stop offset="0.190" stop-color="#ff0076"/><stop offset="0.238" stop-color="#ff0070"/><stop offset="0.286" stop-color="#ff006f"/><stop offset="0.333" stop-color="#ff007b"/><stop offset="0.381" stop-color="#ff0077"/><stop offset="0.429" stop-color="#ff0068"/><stop offset="0.476" stop-color="#ff0066"/><stop offset="0.524" stop-color="#ff0069"/><stop offset="0.571" stop-color="#ff0069"/><stop offset="0.619" stop-color="#ff0062"/><stop offset="0.667" stop-color="#ff005b"/><stop offset="0.714" stop-color="#ff0057"/><stop offset="0.762" stop-color="#ff0055"/><stop offset="0.810" stop-color="#ff0053"/><stop offset="0.857" stop-color="#ff0052"/><stop offset="0.905" stop-color="#ff0052"/><stop offset="0.952" stop-color="#ff0051"/><stop offset="1.000" stop-color="#ff0051"/></linearGradient><linearGradient id="r154"><stop offset="0.000" stop-color="#ff0060"/><stop offset="0.048" stop-color="#ff006d"/><stop offset="0.095" stop-color="#ff007c"/><stop offset="0.143" stop-color="#ff0080"/><stop offset="0.190" stop-color="#ff0079"/><stop offset="0.238" stop-color="#ff0071"/><stop offset="0.286" stop-color="#ff0070"/><stop offset="0.333" stop-color="#ff007e"/><stop offset="0.381" stop-color="#ff007a"/><stop offset="0.429" stop-color="#ff0069"/><stop offset="0.476" stop-color="#ff0068"/><stop offset="0.524" stop-color="#ff006c"/><stop offset="0.571" stop-color="#ff006e"/><stop offset="0.619" stop-color="#ff0065"/><stop offset="0.667" stop-color="#ff005c"/><stop offset="0.714" stop-color="#ff0058"/><stop offset="0.762" stop-color="#ff0056"/><stop offset="0.810" stop-color="#ff0054"/><stop offset="0.857" stop-color="#ff0053"/><stop offset="0.905" stop-color="#ff0052"/><stop offset="0.952" stop-color="#ff0052"/><stop offset="1.000" stop-color="#ff0052"/></linearGradient><linearGradient id="r155"><stop offset="0.000" stop-color="#ff0061"/><stop offset="0.048" stop-color="#ff006f"/><stop offset="0.095" stop-color="#ff0080"/><stop offset="0.143" stop-color="#ff0084"/><stop offset="0.190" stop-color="#ff007b"/><stop offset="0.238" stop-color="#ff0072"/><stop offset="0.286" stop-color="#ff0071"/><stop offset="0.333" stop-color="#ff0080"/><stop offset="0.381" stop-color="#ff007c"/><stop offset="0.429" stop-color="#ff006a"/><stop offset="0.476" stop-color="#ff006a"/><stop offset="0.524" stop-color="#ff0070"/><stop offset="0.571" stop-color="#ff0073"/><stop offset="0.619" stop-color="#ff0069"/><stop offset="0.667" stop-color="#ff005e"/><stop offset="0.714" stop-color="#ff0059"/><stop offset="0.762" stop-color="#ff0056"/><stop offset="0.810" stop-color="#ff0055"/><stop offset="0.857" stop-color="#ff0054"/><stop offset="0.905" stop-color="#ff0053"/><stop offset="0.952" stop-color="#ff0053"/><stop offset="1.000" stop-color="#ff0053"/></linearGradient><linearGradient id="r156"><stop offset="0.000" stop-color="#ff0062"/><stop offset="0.048" stop-color="#ff0070"/><stop offset="0.095" stop-color="#ff0083"/><stop offset="0.143" stop-color="#ff0088"/><stop offset="0.190" stop-color="#ff007d"/><stop offset="0.238" stop-color="#ff0073"/><stop offset="0.286" stop-color="#ff0072"/><stop offset="0.333" stop-color="#ff0081"/><stop offset="0.381" stop-color="#ff007c"/><stop offset="0.429" stop-color="#ff006b"/><stop offset="0.476" stop-color="#ff006b"/><stop offset="0.524" stop-color="#ff0075"/><stop offset="0.571" stop-color="#ff0079"/><stop offset="0.619" stop-color="#ff006d"/><stop offset="0.667" stop-color="#ff0060"/><stop offset="0.714" stop-color="#ff005a"/><stop offset="0.762" stop-color="#ff0057"/><stop offset="0.810" stop-color="#ff0056"/><stop offset="0.857" stop-color="#ff0054"/><stop offset="0.905" stop-color="#ff0054"/><stop offset="0.952" stop-color="#ff0053"/><stop offset="1.000" stop-color="#ff0053"/></linearGradient><linearGradient id="r157"><stop offset="0.000" stop-color="#ff0063"/><stop offset="0.048" stop-color="#ff0072"/><stop offset="0.095" stop-color="#ff0087"/><stop offset="0.143" stop-color="#ff008c"/><stop offset="0.190" stop-color="#ff0080"/><stop offset="0.238" stop-color="#ff0074"/><stop offset="0.286" stop-color="#ff0072"/><stop offset="0.333" stop-color="#ff0080"/><stop offset="0.381" stop-color="#ff007c"/><stop offset="0.429" stop-color="#ff006c"/><stop offset="0.476" stop-color="#ff006d"/><stop offset="0.524" stop-color="#ff0079"/><stop offset="0.571" stop-color="#ff007f"/><stop offset="0.619" stop-color="#ff0071"/><stop offset="0.667" stop-color="#ff0061"/><stop offset="0.714" stop-color="#ff005b"/><stop offset="0.762" stop-color="#ff0058"/><stop offset="0.810" stop-color="#ff0056"/><stop offset="0.857" stop-color="#ff0055"/><stop offset="0.905" stop-color="#ff0054"/><stop offset="0.952" stop-color="#ff0054"/><stop offset="1.000" stop-color="#ff0054"/></linearGradient><linearGradient id="r158"><stop offset="0.000" stop-color="#ff0063"/><stop offset="0.048" stop-color="#ff0074"/><stop offset="0.095" stop-color="#ff008a"/><stop offset="0.143" stop-color="#ff0091"/><stop offset="0.190" stop-color="#ff0082"/><stop offset="0.238" stop-color="#ff0075"/><stop offset="0.286" stop-color="#ff0072"/><stop offset="0.333" stop-color="#ff007e"/><stop offset="0.381" stop-color="#ff007b"/><stop offset="0.429" stop-color="#ff006c"/><stop offset="0.476" stop-color="#ff006f"/><stop offset="0.524" stop-color="#ff007e"/><stop offset="0.571" stop-color="#ff0085"/><stop offset="0.619" stop-color="#ff0074"/><stop offset="0.667" stop-color="#ff0063"/><stop offset="0.714" stop-color="#ff005c"/><stop offset="0.762" stop-color="#ff0059"/><stop offset="0.810" stop-color="#ff0057"/><stop offset="0.857" stop-color="#ff0056"/><stop offset="0.905" stop-color="#ff0055"/><stop offset="0.952" stop-color="#ff0055"/><stop offset="1.000" stop-color="#ff0054"/></linearGradient><linearGradient id="r159"><stop offset="0.000" stop-color="#ff0064"/><stop offset="0.048" stop-color="#ff0075"/><stop offset="0.095" stop-color="#ff008e"/><stop offset="0.143" stop-color="#ff0095"/><stop offset="0.190" stop-color="#ff0085"/><stop offset="0.238" stop-color="#ff0076"/><stop offset="0.286" stop-color="#ff0073"/><stop offset="0.333" stop-color="#ff007c"/><stop offset="0.381" stop-color="#ff0079"/><stop offset="0.429" stop-color="#ff006d"/><stop offset="0.476" stop-color="#ff0071"/><stop offset="0.524" stop-color="#ff0082"/><stop offset="0.571" stop-color="#ff008a"/><stop offset="0.619" stop-color="#ff0078"/><stop offset="0.667" stop-color="#ff0064"/><stop offset="0.714" stop-color="#ff005d"/><stop offset="0.762" stop-color="#ff0059"/><stop offset="0.810" stop-color="#ff0058"/><stop offset="0.857" stop-color="#ff0057"/><stop offset="0.905" stop-color="#ff0056"/><stop offset="0.952" stop-color="#ff0055"/><stop offset="1.000" stop-color="#ff0055"/></linearGradient><linearGradient id="r160"><stop offset="0.000" stop-color="#ff0065"/><stop offset="0.048" stop-color="#ff0077"/><stop offset="0.095" stop-color="#ff0092"/><stop offset="0.143" stop-color="#ff009a"/><stop offset="0.190" stop-color="#ff0088"/><stop offset="0.238" stop-color="#ff0077"/><stop offset="0.286" stop-color="#ff0073"/><stop offset="0.333" stop-color="#ff007a"/><stop offset="0.381" stop-color="#ff0076"/><stop offset="0.429" stop-color="#ff006d"/><stop offset="0.476" stop-color="#ff0072"/><stop offset="0.524" stop-color="#ff0085"/><stop offset="0.571" stop-color="#ff008e"/><stop offset="0.619" stop-color="#ff007b"/><stop offset="0.667" stop-color="#ff0066"/><stop offset="0.714" stop-color="#ff005d"/><stop offset="0.762" stop-color="#ff005a"/><stop offset="0.810" stop-color="#ff0058"/><stop offset="0.857" stop-color="#ff0057"/><stop offset="0.905" stop-color="#ff0056"/><stop offset="0.952" stop-color="#ff0056"/><stop offset="1.000" stop-color="#ff0056"/></linearGradient><linearGradient id="r161"><stop offset="0.000" stop-color="#ff0065"/><stop offset="0.048" stop-color="#ff0078"/><stop offset="0.095" stop-color="#ff0095"/><stop offset="0.143" stop-color="#ff009e"/><stop offset="0.190" stop-color="#ff008a"/><stop offset="0.238" stop-color="#ff0078"/><stop offset="0.286" stop-color="#ff0073"/><stop offset="0.333" stop-color="#ff0077"/><stop offset="0.381" stop-color="#ff0074"/><stop offset="0.429" stop-color="#ff006d"/><stop offset="0.476" stop-color="#ff0073"/><stop offset="0.524" stop-color="#ff0087"/><stop offset="0.571" stop-color="#ff0091"/><stop offset="0.619" stop-color="#ff007c"/><stop offset="0.667" stop-color="#ff0067"/><stop offset="0.714" stop-color="#ff005e"/><stop offset="0.762" stop-color="#ff005b"/><stop offset="0.810" stop-color="#ff0059"/><stop offset="0.857" stop-color="#ff0058"/><stop offset="0.905" stop-color="#ff0057"/><stop offset="0.952" stop-color="#ff0057"/><stop offset="1.000" stop-color="#ff0056"/></linearGradient><linearGradient id="r162"><stop offset="0.000" stop-color="#ff0066"/><stop offset="0.048" stop-color="#ff007a"/><stop offset="0.095" stop-color="#ff0099"/><stop offset="0.143" stop-color="#ff00a2"/><stop offset="0.190" stop-color="#ff008c"/><stop offset="0.238" stop-color="#ff0079"/><stop offset="0.286" stop-color="#ff0073"/><stop offset="0.333" stop-color="#ff0075"/><stop offset="0.381" stop-color="#ff0073"/><stop offset="0.429" stop-color="#ff006e"/><stop offset="0.476" stop-color="#ff0074"/><stop offset="0.524" stop-color="#ff0088"/><stop offset="0.571" stop-color="#ff0091"/><stop offset="0.619" stop-color="#ff007d"/><stop offset="0.667" stop-color="#ff0067"/><stop offset="0.714" stop-color="#ff005f"/><stop offset="0.762" stop-color="#ff005c"/><stop offset="0.810" stop-color="#ff005a"/><stop offset="0.857" stop-color="#ff0059"/><stop offset="0.905" stop-color="#ff0058"/><stop offset="0.952" stop-color="#ff0057"/><stop offset="1.000" stop-color="#ff0057"/></linearGradient><linearGradient id="r163"><stop offset="0.000" stop-color="#ff0067"/><stop offset="0.048" stop-color="#ff007b"/><stop offset="0.095" stop-color="#ff009b"/><stop offset="0.143" stop-color="#ff00a5"/><stop offset="0.190" stop-color="#ff008e"/><stop offset="0.238" stop-color="#ff007a"/><stop offset="0.286" stop-color="#ff0074"/><stop offset="0.333" stop-color="#ff0074"/><stop offset="0.381" stop-color="#ff0072"/><stop offset="0.429" stop-color="#ff006e"/><stop offset="0.476" stop-color="#ff0074"/><stop offset="0.524" stop-color="#ff0087"/><stop offset="0.571" stop-color="#ff0091"/><stop offset="0.619" stop-color="#ff007d"/><stop offset="0.667" stop-color="#ff0068"/><stop offset="0.714" stop-color="#ff0060"/><stop offset="0.762" stop-color="#ff005c"/><stop offset="0.810" stop-color="#ff005b"/><stop offset="0.857" stop-color="#ff0059"/><stop offset="0.905" stop-color="#ff0058"/><stop offset="0.952" stop-color="#ff0058"/><stop offset="1.000" stop-color="#ff0058"/></linearGradient><linearGradient id="r164"><stop offset="0.000" stop-color="#ff0067"/><stop offset="0.048" stop-color="#ff007c"/><stop offset="0.095" stop-color="#ff009e"/><stop offset="0.143" stop-color="#ff00a8"/><stop offset="0.190" stop-color="#ff0090"/><stop offset="0.238" stop-color="#ff007b"/><stop offset="0.286" stop-color="#ff0074"/><stop offset="0.333" stop-color="#ff0073"/><stop offset="0.381" stop-color="#ff0071"/><stop offset="0.429" stop-color="#ff006e"/><stop offset="0.476" stop-color="#ff0074"/><stop offset="0.524" stop-color="#ff0085"/><stop offset="0.571" stop-color="#ff008e"/><stop offset="0.619" stop-color="#ff007c"/><stop offset="0.667" stop-color="#ff0068"/><stop offset="0.714" stop-color="#ff0060"/><stop offset="0.762" stop-color="#ff005d"/><stop offset="0.810" stop-color="#ff005b"/><stop offset="0.857" stop-color="#ff005a"/><stop offset="0.905" stop-color="#ff0059"/><stop offset="0.952" stop-color="#ff0058"/><stop offset="1.000" stop-color="#ff0058"/></linearGradient><linearGradient id="r165"><stop offset="0.000" stop-color="#ff0068"/><stop offset="0.048" stop-color="#ff007d"/><stop offset="0.095" stop-color="#ff009f"/><stop offset="0.143" stop-color="#ff00aa"/><stop offset="0.190" stop-color="#ff0091"/><stop offset="0.238" stop-color="#ff007b"/><stop offset="0.286" stop-color="#ff0074"/><stop offset="0.333" stop-color="#ff0073"/><stop offset="0.381" stop-color="#ff0071"/><stop offset="0.429" stop-color="#ff006f"/><stop offset="0.476" stop-color="#ff0073"/><stop offset="0.524" stop-color="#ff0083"/><stop offset="0.571" stop-color="#ff008a"/><stop offset="0.619" stop-color="#ff007a"/><stop offset="0.667" stop-color="#ff0068"/><stop offset="0.714" stop-color="#ff0061"/><stop offset="0.762" stop-color="#ff005e"/><stop offset="0.810" stop-color="#ff005c"/><stop offset="0.857" stop-color="#ff005b"/><stop offset="0.905" stop-color="#ff005a"/><stop offset="0.952" stop-color="#ff0059"/><stop offset="1.000" stop-color="#ff0059"/></linearGradient><linearGradient id="r166"><stop offset="0.000" stop-color="#ff0068"/><stop offset="0.048" stop-color="#ff007e"/><stop offset="0.095" stop-color="#ff00a1"/><stop offset="0.143" stop-color="#ff00ab"/><stop offset="0.190" stop-color="#ff0092"/><stop offset="0.238" stop-color="#ff007c"/><stop offset="0.286" stop-color="#ff0075"/><stop offset="0.333" stop-color="#ff0073"/><stop offset="0.381" stop-color="#ff0071"/><stop offset="0.429" stop-color="#ff006f"/><stop offset="0.476" stop-color="#ff0073"/><stop offset="0.524" stop-color="#ff0080"/><stop offset="0.571" stop-color="#ff0086"/><stop offset="0.619" stop-color="#ff0078"/><stop offset="0.667" stop-color="#ff0069"/><stop offset="0.714" stop-color="#ff0062"/><stop offset="0.762" stop-color="#ff005f"/><stop offset="0.810" stop-color="#ff005d"/><stop offset="0.857" stop-color="#ff005b"/><stop offset="0.905" stop-color="#ff005a"/><stop offset="0.952" stop-color="#ff005a"/><stop offset="1.000" stop-color="#ff0059"/></linearGradient><linearGradient id="r167"><stop offset="0.000" stop-color="#ff0069"/><stop offset="0.048" stop-color="#ff007e"/><stop offset="0.095" stop-color="#ff00a1"/><stop offset="0.143" stop-color="#ff00ac"/><stop offset="0.190" stop-color="#ff0093"/><stop offset="0.238" stop-color="#ff007d"/><stop offset="0.286" stop-color="#ff0075"/><stop offset="0.333" stop-color="#ff0073"/><stop offset="0.381" stop-color="#ff0071"/><stop offset="0.429" stop-color="#ff006f"/><stop offset="0.476" stop-color="#ff0072"/><stop offset="0.524" stop-color="#ff007c"/><stop offset="0.571" stop-color="#ff0081"/><stop offset="0.619" stop-color="#ff0075"/><stop offset="0.667" stop-color="#ff0068"/><stop offset="0.714" stop-color="#ff0063"/><stop offset="0.762" stop-color="#ff005f"/><stop offset="0.810" stop-color="#ff005d"/><stop offset="0.857" stop-color="#ff005c"/><stop offset="0.905" stop-color="#ff005b"/><stop offset="0.952" stop-color="#ff005a"/><stop offset="1.000" stop-color="#ff005a"/></linearGradient><linearGradient id="r168"><stop offset="0.000" stop-color="#ff0069"/><stop offset="0.048" stop-color="#ff007e"/><stop offset="0.095" stop-color="#ff00a1"/><stop offset="0.143" stop-color="#ff00ab"/><stop offset="0.190" stop-color="#ff0093"/><stop offset="0.238" stop-color="#ff007d"/><stop offset="0.286" stop-color="#ff0076"/><stop offset="0.333" stop-color="#ff0073"/><stop offset="0.381" stop-color="#ff0071"/><stop offset="0.429" stop-color="#ff0070"/><stop offset="0.476" stop-color="#ff0072"/><stop offset="0.524" stop-color="#ff0079"/><stop offset="0.571" stop-color="#ff007d"/><stop offset="0.619" stop-color="#ff0073"/><stop offset="0.667" stop-color="#ff0068"/><stop offset="0.714" stop-color="#ff0063"/><stop offset="0.762" stop-color="#ff0060"/><stop offset="0.810" stop-color="#ff005e"/><stop offset="0.857" stop-color="#ff005d"/><stop offset="0.905" stop-color="#ff005b"/><stop offset="0.952" stop-color="#ff005b"/><stop offset="1.000" stop-color="#ff005b"/></linearGradient><linearGradient id="cb"><stop offset="0.0000" stop-color="#000000"/><stop offset="0.1429" stop-color="#0000ff"/><stop offset="0.2857" stop-color="#00ffff"/><stop offset="0.4286" stop-color="#00ff00"/><stop offset="0.5714" stop-color="#ffff00"/><stop offset="0.7143" stop-color="#ff0000"/><stop offset="0.8571" stop-color="#ff00ff"/><stop offset="1.0000" stop-color="#ffffff"/></linearGradient><filter id="bin" x="-5%" y="-20%" width="110%" height="140%"><feComponentTransfer><feFuncA type="discrete" tableValues="0 1"/></feComponentTransfer></filter><clipPath id="mc"><rect x="117" y="74" width="426" height="338"/></clipPath></defs><rect x="114" y="70" width="432" height="346" fill="#000"/><rect x="115" y="71" width="430" height="344" fill="#fff"/><rect x="124.12" y="71" width="58.82" height="2" fill="#000"/><rect x="241.76" y="71" width="58.81" height="2" fill="#000"/><rect x="359.36" y="71" width="58.80" height="2" fill="#000"/><rect x="476.98" y="71" width="58.82" height="2" fill="#000"/><rect x="116.84" y="413" width="60.84" height="2" fill="#000"/><rect x="238.51" y="413" width="60.82" height="2" fill="#000"/><rect x="360.16" y="413" width="60.82" height="2" fill="#000"/><rect x="481.81" y="413" width="60.84" height="2" fill="#000"/><rect x="115" y="87.87" width="1" height="61.70" fill="#000"/><rect x="115" y="211.27" width="1" height="61.70" fill="#000"/><rect x="115" y="334.67" width="1" height="61.70" fill="#000"/><rect x="544" y="88.13" width="1" height="61.70" fill="#000"/><rect x="544" y="211.53" width="1" height="61.70" fill="#000"/><rect x="544" y="334.93" width="1" height="61.70" fill="#000"/><rect x="116" y="73" width="428" height="340" fill="#000"/><g shape-rendering="crispEdges"><rect x="117" y="74" width="426" height="2" fill="url(#r0)"/><rect x="117" y="76" width="426" height="2" fill="url(#r1)"/><rect x="117" y="78" width="426" height="2" fill="url(#r2)"/><rect x="117" y="80" width="426" height="2" fill="url(#r3)"/><rect x="117" y="82" width="426" height="2" fill="url(#r4)"/><rect x="117" y="84" width="426" height="2" fill="url(#r5)"/><rect x="117" y="86" width="426" height="2" fill="url(#r6)"/><rect x="117" y="88" width="426" height="2" fill="url(#r7)"/><rect x="117" y="90" width="426" height="2" fill="url(#r8)"/><rect x="117" y="92" width="426" height="2" fill="url(#r9)"/><rect x="117" y="94" width="426" height="2" fill="url(#r10)"/><rect x="117" y="96" width="426" height="2" fill="url(#r11)"/><rect x="117" y="98" width="426" height="2" fill="url(#r12)"/><rect x="117" y="100" width="426" height="2" fill="url(#r13)"/><rect x="117" y="102" width="426" height="2" fill="url(#r14)"/><rect x="117" y="104" width="426" height="2" fill="url(#r15)"/><rect x="117" y="106" width="426" height="2" fill="url(#r16)"/><rect x="117" y="108" width="426" height="2" fill="url(#r17)"/><rect x="117" y="110" width="426" height="2" fill="url(#r18)"/><rect x="117" y="112" width="426" height="2" fill="url(#r19)"/><rect x="117" y="114" width="426" height="2" fill="url(#r20)"/><rect x="117" y="116" width="426" height="2" fill="url(#r21)"/><rect x="117" y="118" width="426" height="2" fill="url(#r22)"/><rect x="117" y="120" width="426" height="2" fill="url(#r23)"/><rect x="117" y="122" width="426" height="2" fill="url(#r24)"/><rect x="117" y="124" width="426" height="2" fill="url(#r25)"/><rect x="117" y="126" width="426" height="2" fill="url(#r26)"/><rect x="117" y="128" width="426" height="2" fill="url(#r27)"/><rect x="117" y="130" width="426" height="2" fill="url(#r28)"/><rect x="117" y="132" width="426" height="2" fill="url(#r29)"/><rect x="117" y="134" width="426" height="2" fill="url(#r30)"/><rect x="117" y="136" width="426" height="2" fill="url(#r31)"/><rect x="117" y="138" width="426" height="2" fill="url(#r32)"/><rect x="117" y="140" width="426" height="2" fill="url(#r33)"/><rect x="117" y="142" width="426" height="2" fill="url(#r34)"/><rect x="117" y="144" width="426" height="2" fill="url(#r35)"/><rect x="117" y="146" width="426" height="2" fill="url(#r36)"/><rect x="117" y="148" width="426" height="2" fill="url(#r37)"/><rect x="117" y="150" width="426" height="2" fill="url(#r38)"/><rect x="117" y="152" width="426" height="2" fill="url(#r39)"/><rect x="117" y="154" width="426" height="2" fill="url(#r40)"/><rect x="117" y="156" width="426" height="2" fill="url(#r41)"/><rect x="117" y="158" width="426" height="2" fill="url(#r42)"/><rect x="117" y="160" width="426" height="2" fill="url(#r43)"/><rect x="117" y="162" width="426" height="2" fill="url(#r44)"/><rect x="117" y="164" width="426" height="2" fill="url(#r45)"/><rect x="117" y="166" width="426" height="2" fill="url(#r46)"/><rect x="117" y="168" width="426" height="2" fill="url(#r47)"/><rect x="117" y="170" width="426" height="2" fill="url(#r48)"/><rect x="117" y="172" width="426" height="2" fill="url(#r49)"/><rect x="117" y="174" width="426" height="2" fill="url(#r50)"/><rect x="117" y="176" width="426" height="2" fill="url(#r51)"/><rect x="117" y="178" width="426" height="2" fill="url(#r52)"/><rect x="117" y="180" width="426" height="2" fill="url(#r53)"/><rect x="117" y="182" width="426" height="2" fill="url(#r54)"/><rect x="117" y="184" width="426" height="2" fill="url(#r55)"/><rect x="117" y="186" width="426" height="2" fill="url(#r56)"/><rect x="117" y="188" width="426" height="2" fill="url(#r57)"/><rect x="117" y="190" width="426" height="2" fill="url(#r58)"/><rect x="117" y="192" width="426" height="2" fill="url(#r59)"/><rect x="117" y="194" width="426" height="2" fill="url(#r60)"/><rect x="117" y="196" width="426" height="2" fill="url(#r61)"/><rect x="117" y="198" width="426" height="2" fill="url(#r62)"/><rect x="117" y="200" width="426" height="2" fill="url(#r63)"/><rect x="117" y="202" width="426" height="2" fill="url(#r64)"/><rect x="117" y="204" width="426" height="2" fill="url(#r65)"/><rect x="117" y="206" width="426" height="2" fill="url(#r66)"/><rect x="117" y="208" width="426" height="2" fill="url(#r67)"/><rect x="117" y="210" width="426" height="2" fill="url(#r68)"/><rect x="117" y="212" width="426" height="2" fill="url(#r69)"/><rect x="117" y="214" width="426" height="2" fill="url(#r70)"/><rect x="117" y="216" width="426" height="2" fill="url(#r71)"/><rect x="117" y="218" width="426" height="2" fill="url(#r72)"/><rect x="117" y="220" width="426" height="2" fill="url(#r73)"/><rect x="117" y="222" width="426" height="2" fill="url(#r74)"/><rect x="117" y="224" width="426" height="2" fill="url(#r75)"/><rect x="117" y="226" width="426" height="2" fill="url(#r76)"/><rect x="117" y="228" width="426" height="2" fill="url(#r77)"/><rect x="117" y="230" width="426" height="2" fill="url(#r78)"/><rect x="117" y="232" width="426" height="2" fill="url(#r79)"/><rect x="117" y="234" width="426" height="2" fill="url(#r80)"/><rect x="117" y="236" width="426" height="2" fill="url(#r81)"/><rect x="117" y="238" width="426" height="2" fill="url(#r82)"/><rect x="117" y="240" width="426" height="2" fill="url(#r83)"/><rect x="117" y="242" width="426" height="2" fill="url(#r84)"/><rect x="117" y="244" width="426" height="2" fill="url(#r85)"/><rect x="117" y="246" width="426" height="2" fill="url(#r86)"/><rect x="117" y="248" width="426" height="2" fill="url(#r87)"/><rect x="117" y="250" width="426" height="2" fill="url(#r88)"/><rect x="117" y="252" width="426" height="2" fill="url(#r89)"/><rect x="117" y="254" width="426" height="2" fill="url(#r90)"/><rect x="117" y="256" width="426" height="2" fill="url(#r91)"/><rect x="117" y="258" width="426" height="2" fill="url(#r92)"/><rect x="117" y="260" width="426" height="2" fill="url(#r93)"/><rect x="117" y="262" width="426" height="2" fill="url(#r94)"/><rect x="117" y="264" width="426" height="2" fill="url(#r95)"/><rect x="117" y="266" width="426" height="2" fill="url(#r96)"/><rect x="117" y="268" width="426" height="2" fill="url(#r97)"/><rect x="117" y="270" width="426" height="2" fill="url(#r98)"/><rect x="117" y="272" width="426" height="2" fill="url(#r99)"/><rect x="117" y="274" width="426" height="2" fill="url(#r100)"/><rect x="117" y="276" width="426" height="2" fill="url(#r101)"/><rect x="117" y="278" width="426" height="2" fill="url(#r102)"/><rect x="117" y="280" width="426" height="2" fill="url(#r103)"/><rect x="117" y="282" width="426" height="2" fill="url(#r104)"/><rect x="117" y="284" width="426" height="2" fill="url(#r105)"/><rect x="117" y="286" width="426" height="2" fill="url(#r106)"/><rect x="117" y="288" width="426" height="2" fill="url(#r107)"/><rect x="117" y="290" width="426" height="2" fill="url(#r108)"/><rect x="117" y="292" width="426" height="2" fill="url(#r109)"/><rect x="117" y="294" width="426" height="2" fill="url(#r110)"/><rect x="117" y="296" width="426" height="2" fill="url(#r111)"/><rect x="117" y="298" width="426" height="2" fill="url(#r112)"/><rect x="117" y="300" width="426" height="2" fill="url(#r113)"/><rect x="117" y="302" width="426" height="2" fill="url(#r114)"/><rect x="117" y="304" width="426" height="2" fill="url(#r115)"/><rect x="117" y="306" width="426" height="2" fill="url(#r116)"/><rect x="117" y="308" width="426" height="2" fill="url(#r117)"/><rect x="117" y="310" width="426" height="2" fill="url(#r118)"/><rect x="117" y="312" width="426" height="2" fill="url(#r119)"/><rect x="117" y="314" width="426" height="2" fill="url(#r120)"/><rect x="117" y="316" width="426" height="2" fill="url(#r121)"/><rect x="117" y="318" width="426" height="2" fill="url(#r122)"/><rect x="117" y="320" width="426" height="2" fill="url(#r123)"/><rect x="117" y="322" width="426" height="2" fill="url(#r124)"/><rect x="117" y="324" width="426" height="2" fill="url(#r125)"/><rect x="117" y="326" width="426" height="2" fill="url(#r126)"/><rect x="117" y="328" width="426" height="2" fill="url(#r127)"/><rect x="117" y="330" width="426" height="2" fill="url(#r128)"/><rect x="117" y="332" width="426" height="2" fill="url(#r129)"/><rect x="117" y="334" width="426" height="2" fill="url(#r130)"/><rect x="117" y="336" width="426" height="2" fill="url(#r131)"/><rect x="117" y="338" width="426" height="2" fill="url(#r132)"/><rect x="117" y="340" width="426" height="2" fill="url(#r133)"/><rect x="117" y="342" width="426" height="2" fill="url(#r134)"/><rect x="117" y="344" width="426" height="2" fill="url(#r135)"/><rect x="117" y="346" width="426" height="2" fill="url(#r136)"/><rect x="117" y="348" width="426" height="2" fill="url(#r137)"/><rect x="117" y="350" width="426" height="2" fill="url(#r138)"/><rect x="117" y="352" width="426" height="2" fill="url(#r139)"/><rect x="117" y="354" width="426" height="2" fill="url(#r140)"/><rect x="117" y="356" width="426" height="2" fill="url(#r141)"/><rect x="117" y="358" width="426" height="2" fill="url(#r142)"/><rect x="117" y="360" width="426" height="2" fill="url(#r143)"/><rect x="117" y="362" width="426" height="2" fill="url(#r144)"/><rect x="117" y="364" width="426" height="2" fill="url(#r145)"/><rect x="117" y="366" width="426" height="2" fill="url(#r146)"/><rect x="117" y="368" width="426" height="2" fill="url(#r147)"/><rect x="117" y="370" width="426" height="2" fill="url(#r148)"/><rect x="117" y="372" width="426" height="2" fill="url(#r149)"/><rect x="117" y="374" width="426" height="2" fill="url(#r150)"/><rect x="117" y="376" width="426" height="2" fill="url(#r151)"/><rect x="117" y="378" width="426" height="2" fill="url(#r152)"/><rect x="117" y="380" width="426" height="2" fill="url(#r153)"/><rect x="117" y="382" width="426" height="2" fill="url(#r154)"/><rect x="117" y="384" width="426" height="2" fill="url(#r155)"/><rect x="117" y="386" width="426" height="2" fill="url(#r156)"/><rect x="117" y="388" width="426" height="2" fill="url(#r157)"/><rect x="117" y="390" width="426" height="2" fill="url(#r158)"/><rect x="117" y="392" width="426" height="2" fill="url(#r159)"/><rect x="117" y="394" width="426" height="2" fill="url(#r160)"/><rect x="117" y="396" width="426" height="2" fill="url(#r161)"/><rect x="117" y="398" width="426" height="2" fill="url(#r162)"/><rect x="117" y="400" width="426" height="2" fill="url(#r163)"/><rect x="117" y="402" width="426" height="2" fill="url(#r164)"/><rect x="117" y="404" width="426" height="2" fill="url(#r165)"/><rect x="117" y="406" width="426" height="2" fill="url(#r166)"/><rect x="117" y="408" width="426" height="2" fill="url(#r167)"/><rect x="117" y="410" width="426" height="2" fill="url(#r168)"/></g><g clip-path="url(#mc)" fill="none" stroke-linejoin="round" stroke-linecap="round"><g stroke="#b4bcc0" stroke-width="1" shape-rendering="crispEdges"><polyline points="117.2,112.5 121.0,114.2 124.3,115.8 126.8,119.2 126.4,121.7"/><polyline points="127.7,120.0 133.5,115.0 134.3,111.7 136.8,110.4 137.7,111.7"/><polyline points="133.5,94.2 137.7,97.5 141.0,98.3 144.3,100.0 148.0,100.4 152.0,102.0 156.0,104.0 160.0,106.5 162.0,110.0 161.5,116.0 158.0,117.0 154.0,118.0"/><polyline points="162.0,110.0 166.0,112.0 170.0,112.5 176.0,113.0 183.0,112.5 190.0,112.0 193.0,111.5"/><polyline points="166.0,112.0 165.0,118.0 166.5,123.0 169.0,127.0 168.0,132.0 167.5,137.5"/><polyline points="170.0,118.0 174.0,117.0 176.5,119.0 175.0,123.0 178.0,126.0 181.0,128.0 180.0,133.0 178.0,136.0"/><polyline points="175.0,123.0 172.0,125.0 172.5,130.0"/><polyline points="152.0,119.0 150.0,124.0 150.5,130.0 149.0,135.0 148.5,141.0"/><polyline points="155.0,129.0 156.0,134.0 158.5,137.5 157.0,141.0"/><polyline points="196.0,120.0 196.0,126.0 198.0,130.0 200.0,134.0 201.5,137.0"/><polyline points="218.0,121.0 219.0,126.0 220.5,131.0 222.5,134.5 224.0,137.0"/><polyline points="116.0,363.4 118.8,362.0 121.6,364.4 124.4,365.3"/><polyline points="175.0,364.4 173.2,368.1 172.2,371.9 168.5,376.6"/><polyline points="179.1,352.0 178.4,356.8 179.1,360.8 177.7,364.2 174.4,366.2 173.7,370.3 171.7,373.7 168.3,377.7"/><polyline points="228.5,363.5 223.1,368.9 216.3,370.3 209.5,375.0 204.1,376.4 194.7,375.0 189.2,377.0 185.2,382.5 181.1,385.9 179.8,390.6 182.5,394.7 183.8,400.0 182.5,405.5 178.4,408.2 177.1,412.0"/><polyline points="229.8,376.4 224.4,377.7 217.7,378.4 212.2,380.4 206.8,385.2 203.5,387.9"/><polyline points="199.4,385.9 202.1,392.0 205.5,397.4 208.9,402.8 210.9,409.5 211.6,412.0"/><polyline points="233.9,412.0 236.6,406.8 240.0,404.1"/><polyline points="265.8,392.1 272.1,392.1 276.3,393.2 278.4,391.1 288.9,391.1 295.3,390.0 298.4,386.8"/><polyline points="255.3,395.3 258.4,394.7"/><polyline points="256.3,397.4 261.6,399.5 265.8,400.5 272.1,403.7 273.2,406.8 272.1,412.0"/><polyline points="243.7,398.4 247.9,402.6 250.0,405.8 251.1,412.0"/><polyline points="240.5,399.5 238.4,403.7 235.3,407.9 234.2,412.0"/><polyline points="290.0,397.4 294.2,402.6 292.1,406.8 290.0,412.0"/><polyline points="324.2,394.8 325.7,404.2 324.2,412.0"/><polyline points="339.8,391.6 343.0,397.9 347.6,407.3 350.8,410.4"/><polyline points="374.2,387.0 382.0,385.4 388.3,391.6 389.9,394.8"/><polyline points="386.8,410.4 396.2,408.9"/><polyline points="296.0,387.7 298.0,385.0"/><polyline points="400.0,412.0 404.0,404.0 408.0,400.0"/><polyline points="420.0,412.0 421.0,405.0 425.0,402.0"/><polyline points="428.0,412.0 430.0,406.0"/><polyline points="117.0,387.5 119.0,389.5 121.0,391.3"/><polyline points="380.0,385.2 384.8,385.8 387.2,390.0 389.6,394.3"/><polyline points="383.6,412.5 389.6,410.5 395.6,408.7 401.6,406.9 406.5,402.0 408.9,398.5"/><polyline points="416.0,404.0 419.0,406.0 423.0,405.0 426.0,407.5 429.0,406.5"/><polyline points="419.0,406.0 418.0,410.0 417.0,412.5"/><polyline points="423.0,405.0 424.0,409.0 423.5,412.5"/></g><g stroke="#000" stroke-width="2" shape-rendering="crispEdges"><polyline points="116.0,96.2 119.3,97.1 122.7,97.9 126.0,98.3 129.3,97.9 131.0,95.8 131.8,93.8 133.5,91.7 136.0,91.2 141.0,91.9 144.3,92.5 148.0,92.5 150.4,91.5 152.2,90.0 154.8,90.9 158.5,92.1 162.2,95.5 168.5,95.9 173.5,99.2 179.8,100.2 182.2,98.8 186.0,100.2 186.6,106.5 188.5,110.2 193.5,110.9 197.2,109.6 202.2,110.2 204.3,108.7 206.9,110.8 205.4,112.9 200.2,112.3 196.0,112.9 194.8,113.4 192.9,115.2 193.5,117.1 198.5,117.8 202.2,118.6 211.6,119.6 216.8,120.7 221.0,122.8 225.2,125.9 229.3,129.0 231.4,132.1 229.3,135.2 227.2,138.4 224.1,140.5 222.0,142.5 223.6,146.7 221.0,147.8 218.9,146.7 217.9,143.6 215.8,139.4 211.6,137.9 206.4,138.4 202.2,137.3 196.0,137.9 189.8,136.5 182.2,137.8 177.2,142.8 168.5,142.8 163.5,139.0 159.8,137.8 153.8,142.2 150.4,141.5 144.6,141.5 149.2,143.8 149.2,147.2 146.9,150.7 142.3,156.4 138.9,162.0 136.0,163.8 136.6,159.8 132.0,157.5 132.0,154.0 128.6,148.4 127.5,143.8 120.6,135.8"/><polyline points="131.0,95.8 131.4,99.2 131.4,105.0 130.6,109.2 131.8,111.7 132.7,115.0 127.7,120.0 129.3,121.7 131.4,123.3 131.0,126.7 128.5,129.2 126.3,128.9 120.6,131.2"/><polygon points="121.5,121.0 124.5,121.0 125.3,122.5 124.0,124.2 121.5,123.8"/><polygon points="119.4,131.0 123.0,130.2 124.0,132.5 122.5,135.5 119.6,135.0"/><polygon points="127.8,133.5 132.0,132.4 136.5,134.0 137.6,136.6 134.0,137.8 129.0,136.6"/><polyline points="116.0,142.8 119.5,142.8 123.2,143.6"/><polygon points="239.8,146.5 243.0,145.8 245.0,147.8 244.0,149.6 241.2,149.0"/><polygon points="265.6,135.4 274.0,136.0 286.1,136.6 298.1,137.2 306.5,138.4 312.0,139.6 311.4,144.5 307.7,146.3 304.1,149.9 300.5,152.3 292.1,152.9 280.1,152.9 270.4,152.9 265.6,152.3 265.0,146.9 263.2,140.8 264.4,137.2"/><polygon points="256.0,139.0 257.8,139.0 257.8,140.4 256.0,140.4"/><polygon points="313.0,146.6 318.0,146.2 322.3,147.2 320.0,148.8 314.0,148.6" fill="#000"/><polygon points="319.5,140.3 323.3,140.6 323.6,142.7 320.0,142.8" fill="#000"/><polygon points="328.5,140.3 332.7,138.0 338.0,137.2 342.7,135.9 350.6,135.3 347.7,138.8 343.5,141.5 336.8,142.4 331.8,142.2" fill="#000"/><polygon points="347.4,128.6 351.6,128.6 351.6,130.4 349.5,130.3"/><polygon points="332.0,161.5 335.0,157.6 339.5,157.6 343.8,158.3 342.0,159.8 338.3,161.2 334.0,162.0" fill="#000"/><polygon points="376.2,132.4 377.6,132.4 377.6,133.8 376.2,133.8"/><polygon points="381.2,142.3 382.6,142.3 382.6,143.7 381.2,143.7"/><polygon points="384.6,146.0 388.0,143.5 391.6,141.4 389.5,145.0 389.8,148.5 389.4,151.2 385.2,151.2 384.6,149.0" fill="#000"/><polygon points="392.0,153.3 395.5,153.3 396.3,154.6 394.0,155.5 392.4,154.8"/><polygon points="389.0,165.4 391.4,165.4 391.4,168.2 389.0,168.2"/><polygon points="393.5,169.6 396.5,170.0 400.0,173.5 403.2,177.2 403.2,179.2 401.0,179.0 398.5,175.0 395.8,172.5 393.5,171.5" fill="#000"/><polygon points="412.4,187.4 414.8,187.6 415.5,190.5 414.0,192.2 412.6,191.0" fill="#000"/><polygon points="422.8,178.0 425.5,176.6 428.8,177.6 429.5,180.5 427.0,182.4 423.5,181.6"/><polygon points="422.8,160.5 426.5,160.3 427.0,163.5 424.5,165.0 422.8,163.5"/><polygon points="425.6,202.0 428.5,201.6 431.4,203.7 433.5,200.0 433.9,197.8 436.0,196.6 438.0,199.5 439.3,202.4 444.3,204.5 441.0,205.8 436.8,205.8 433.5,206.2 433.1,208.7 431.8,212.8 429.3,214.1 427.2,212.0 426.4,207.0"/><polygon points="446.0,201.8 450.4,201.4 450.6,202.8 446.3,203.3"/><polygon points="439.6,213.5 442.0,212.2 444.3,213.8 443.8,216.6 441.0,217.2 439.5,215.8"/><polygon points="429.5,215.8 433.3,215.4 432.5,217.0"/><polygon points="434.6,225.2 439.2,224.8 442.0,227.3 442.5,231.0 442.5,235.7 439.2,236.9 436.7,232.3 435.0,228.2"/><polygon points="442.9,246.9 445.8,246.5 449.2,248.2 453.3,249.8 455.0,254.8 455.8,260.2 453.3,260.7 447.5,259.8 446.7,255.7 444.2,251.5"/><polygon points="451.2,270.3 453.8,270.8 454.6,274.5 454.2,279.5 451.7,283.2 448.8,281.6 447.5,277.8 449.2,273.7"/><polygon points="444.6,292.4 447.1,294.0 447.3,297.0 447.1,298.7 445.0,301.4 442.1,299.5 441.7,297.0"/><polygon points="442.5,303.5 444.5,303.3 445.0,305.5 446.8,307.5 446.0,309.3 444.0,307.5 442.3,305.5"/><polygon points="439.8,312.2 441.2,312.2 441.2,314.2 439.8,314.2"/><polygon points="437.8,316.5 440.5,315.5 440.6,318.5 438.0,321.0 436.0,323.5 435.6,321.5 437.0,319.0"/><polygon points="432.9,325.9 434.5,327.2 432.9,332.5 429.8,336.0 427.4,335.0 428.2,330.4"/><polygon points="490.6,293.8 492.8,293.4 494.4,295.6 497.5,298.1 498.1,300.6 496.2,303.1 493.8,302.8 491.9,301.6 491.6,298.8 490.6,296.2"/><polygon points="455.7,361.6 460.3,357.5 466.2,355.8 465.0,358.7 458.6,361.6"/><polygon points="176.3,315.5 178.5,316.0 181.0,319.0 183.2,321.8 182.6,323.0 180.0,321.0 177.0,318.0" fill="#000"/><polygon points="203.7,323.4 206.3,324.4 210.0,328.4 215.3,331.3 216.8,334.2 213.2,333.9 209.0,331.3 204.7,327.0" fill="#000"/><polygon points="226.8,325.5 229.0,325.5 233.2,328.6 232.6,334.2 230.5,334.2 230.0,330.2 226.8,328.4" fill="#000"/><polyline points="116.0,325.5 118.0,325.2 121.5,324.2 124.5,322.7 126.3,320.9 131.0,320.4 135.7,322.8 140.4,325.1 143.2,328.9 145.0,332.6 143.2,335.4 139.4,337.8 134.7,340.1 130.1,342.0 125.4,343.4 121.6,344.8 117.9,345.9 117.9,349.4 118.8,354.0 120.7,358.7 123.5,362.5 127.2,364.8 131.9,367.2 136.6,367.2 141.3,364.8 146.9,362.0 153.5,359.7 161.0,357.8 168.5,355.5 172.7,353.2 175.5,351.8 178.3,351.3 181.1,352.2 183.9,351.3 183.5,348.5 185.8,345.7 184.9,341.0 184.4,335.4 182.1,330.7 178.3,328.3 175.5,329.8 171.8,332.6 169.9,336.3 170.3,341.0 171.8,345.7 174.6,348.5 176.4,347.6 179.2,347.6 183.5,348.5"/><polygon points="116.5,325.5 120.5,325.8 121.5,328.5 119.5,330.3 116.5,330.0"/><polyline points="185.8,345.7 187.7,349.4 190.5,351.3 195.2,350.4 200.8,349.9 205.5,350.8 209.2,352.2 213.9,352.2 217.7,355.0 222.4,357.9 226.1,360.7 227.2,361.8 229.3,366.0 231.4,370.3 230.3,374.5 231.9,378.7 234.5,381.3 239.8,382.4 245.0,381.3 251.4,380.3 260.8,379.2 271.4,378.2 281.9,377.6 289.3,378.2 294.2,378.7 298.4,380.8 300.5,385.0 303.8,387.7 310.1,390.9 317.9,394.0 324.2,394.8 328.9,395.6 335.1,393.2 338.3,388.5 343.0,388.5 347.6,386.2 352.3,383.8 355.5,380.7 358.6,379.0 364.4,377.3 367.2,379.2 371.9,377.3 377.5,375.9 385.0,375.0 392.5,374.3 398.0,373.6 402.0,373.8 410.0,374.8 418.5,375.4 425.7,374.4 427.0,375.2 421.2,375.6 416.4,376.2 411.9,377.4 405.9,379.4 399.2,379.4 393.4,380.4 390.5,382.3 390.0,387.1 391.0,390.9 393.4,394.7 397.2,396.7 401.1,395.7 403.5,392.8 403.0,389.0 400.1,385.2 396.8,383.2"/><polyline points="403.0,389.0 406.8,392.8 410.7,396.7 414.5,399.0 419.0,398.0 425.0,398.8 432.6,399.5 435.6,401.0 440.0,404.0 444.6,407.0 449.1,409.3 452.5,412.5"/><polyline points="431.0,399.5 432.6,402.6 434.8,405.6 437.0,408.6 439.0,412.5"/><polyline points="414.5,399.5 418.3,401.4 422.1,404.3 426.0,407.2 430.0,410.0 433.0,412.5"/><polygon points="228.2,366.2 231.0,366.5 232.4,369.5 230.0,370.3"/><polyline points="131.9,367.2 130.0,371.0 131.0,375.6 130.0,379.4 126.8,382.8 123.2,386.4 121.0,391.0 118.7,393.7 116.0,394.6"/><polyline points="136.6,370.0 132.9,371.0 131.5,376.0 132.2,381.9 135.9,387.3 139.5,391.9 143.1,398.2 145.8,402.7 145.8,408.1 144.9,412.5"/><polyline points="117.5,350.0 117.6,362.5 117.6,372.0 117.3,385.0 117.6,396.0"/><polyline points="117.2,396.0 117.4,412.5"/><polygon points="126.5,367.5 130.0,366.8 134.0,367.5 137.8,367.5 136.0,370.5 132.0,371.3 128.0,370.2"/><polygon points="242.6,391.0 245.0,388.6 249.0,388.4 251.6,390.5 250.0,393.8 245.0,394.2"/><polygon points="264.7,401.0 268.0,400.5 272.1,402.5 271.5,404.7 267.0,404.0"/><polygon points="316.8,368.0 319.5,366.6 323.0,367.0 324.7,369.0 321.0,370.3 317.5,370.0"/><polygon points="347.5,365.5 350.0,363.4 354.0,363.2 357.8,365.5 355.0,368.2 350.0,368.4"/><polygon points="357.8,365.5 360.0,362.0 363.5,360.4 366.0,362.5 367.6,365.5 364.0,368.9 360.0,368.6"/><polygon points="353.1,371.4 356.5,371.2 358.7,372.5 356.5,374.0 353.5,373.6"/><polygon points="351.2,376.8 357.0,376.5 363.4,377.3 367.2,379.2 371.0,382.5 365.0,383.0 358.7,383.0 354.0,381.0 351.0,378.6" fill="#000"/><polygon points="386.0,354.0 388.7,354.0 388.7,355.7 386.0,355.7"/><polygon points="428.1,374.8 435.4,373.6 443.8,372.4 451.0,371.2 452.2,373.6 449.8,377.2 449.8,381.5 450.6,384.5 451.0,389.0 449.1,392.8 443.8,394.3 436.3,394.7 428.8,394.7 422.0,396.5 424.3,395.0 427.3,393.5 431.0,391.3 434.8,389.8 437.8,387.5 437.8,384.5 437.0,380.0 435.4,377.2 430.5,376.6"/><polygon points="410.5,395.5 414.0,394.8 418.5,397.5 418.0,401.0 414.5,401.5 411.5,399.5" fill="#000"/><polyline points="411.6,403.6 413.0,407.0 414.5,410.5"/><polygon points="248.0,335.3 250.0,335.3 250.0,336.8 248.0,336.8"/><polygon points="253.0,335.6 255.0,335.6 255.0,337.0 253.0,337.0"/><polygon points="272.0,339.5 276.0,337.2 281.0,337.5 283.5,340.0 281.0,342.8 276.0,343.0 273.0,341.8"/><polygon points="293.5,339.3 297.0,339.3 297.0,341.0 293.5,341.0"/><polygon points="340.0,339.0 342.5,338.6 345.0,339.6 343.0,341.2 340.5,341.0"/></g></g><g clip-path="url(#mc)" fill="none" stroke="#000" stroke-width="1" stroke-dasharray="1.8,2.2" shape-rendering="crispEdges"><polyline points="116.5,427.2 116.9,411.8 117.2,396.4 117.5,381.0 117.9,365.6 118.2,350.2 118.5,334.7 118.8,319.3 119.2,303.9 119.5,288.5 119.8,273.1 120.2,257.6 120.5,242.2 120.8,226.8 121.1,211.4 121.5,196.0 121.8,180.6 122.1,165.1 122.5,149.7 122.8,134.3 123.1,118.9 123.5,103.5 123.8,88.0 124.1,72.6 124.4,57.2"/><polyline points="177.5,428.4 177.7,412.9 177.9,397.5 178.2,382.1 178.4,366.7 178.6,351.3 178.9,335.8 179.1,320.4 179.4,305.0 179.6,289.6 179.8,274.2 180.1,258.7 180.3,243.3 180.5,227.9 180.8,212.5 181.0,197.1 181.3,181.6 181.5,166.2 181.7,150.8 182.0,135.4 182.2,120.0 182.4,104.5 182.7,89.1 182.9,73.7 183.2,58.3"/><polyline points="238.4,429.1 238.5,413.7 238.7,398.3 238.8,382.9 238.9,367.4 239.1,352.0 239.2,336.6 239.4,321.2 239.5,305.8 239.7,290.3 239.8,274.9 240.0,259.5 240.1,244.1 240.3,228.6 240.4,213.2 240.6,197.8 240.7,182.4 240.9,167.0 241.0,151.5 241.1,136.1 241.3,120.7 241.4,105.3 241.6,89.9 241.7,74.4 241.9,59.0"/><polyline points="299.3,429.5 299.3,414.1 299.4,398.7 299.4,383.3 299.5,367.8 299.6,352.4 299.6,337.0 299.7,321.6 299.7,306.1 299.8,290.7 299.8,275.3 299.9,259.9 299.9,244.5 300.0,229.0 300.1,213.6 300.1,198.2 300.2,182.8 300.2,167.4 300.3,151.9 300.3,136.5 300.4,121.1 300.4,105.7 300.5,90.2 300.6,74.8 300.6,59.4"/><polyline points="360.2,429.6 360.2,414.1 360.1,398.7 360.1,383.3 360.1,367.9 360.0,352.4 360.0,337.0 359.9,321.6 359.9,306.2 359.9,290.8 359.8,275.3 359.8,259.9 359.8,244.5 359.7,229.1 359.7,213.7 359.7,198.2 359.6,182.8 359.6,167.4 359.6,152.0 359.5,136.5 359.5,121.1 359.4,105.7 359.4,90.3 359.4,74.9 359.3,59.4"/><polyline points="421.1,429.2 421.0,413.8 420.9,398.4 420.7,383.0 420.6,367.6 420.5,352.1 420.3,336.7 420.2,321.3 420.1,305.9 420.0,290.4 419.8,275.0 419.7,259.6 419.6,244.2 419.5,228.8 419.3,213.3 419.2,197.9 419.1,182.5 419.0,167.1 418.8,151.7 418.7,136.2 418.6,120.8 418.4,105.4 418.3,90.0 418.2,74.6 418.1,59.1"/><polyline points="482.0,428.6 481.8,413.1 481.6,397.7 481.4,382.3 481.2,366.9 480.9,351.5 480.7,336.0 480.5,320.6 480.3,305.2 480.1,289.8 479.8,274.4 479.6,258.9 479.4,243.5 479.2,228.1 479.0,212.7 478.8,197.3 478.5,181.8 478.3,166.4 478.1,151.0 477.9,135.6 477.7,120.2 477.4,104.7 477.2,89.3 477.0,73.9 476.8,58.5"/><polyline points="542.9,427.5 542.6,412.1 542.3,396.7 542.0,381.3 541.7,365.8 541.4,350.4 541.1,335.0 540.8,319.6 540.5,304.2 540.1,288.7 539.8,273.3 539.5,257.9 539.2,242.5 538.9,227.1 538.6,211.7 538.3,196.2 538.0,180.8 537.7,165.4 537.4,150.0 537.1,134.6 536.7,119.1 536.4,103.7 536.1,88.3 535.8,72.9 535.5,57.5"/><polyline points="71.7,395.3 86.8,395.7 102.0,396.1 117.2,396.4 132.4,396.7 147.6,397.0 162.7,397.3 177.9,397.5 193.1,397.7 208.3,397.9 223.5,398.1 238.7,398.3 253.8,398.4 269.0,398.5 284.2,398.6 299.4,398.7 314.6,398.7 329.8,398.7 344.9,398.7 360.1,398.7 375.3,398.7 390.5,398.6 405.7,398.5 420.9,398.4 436.0,398.3 451.2,398.1 466.4,397.9 481.6,397.7 496.8,397.5 512.0,397.2 527.1,397.0 542.3,396.7 557.5,396.4 572.7,396.0 587.9,395.7"/><polyline points="73.3,333.7 88.3,334.0 103.4,334.4 118.5,334.7 133.6,335.0 148.7,335.3 163.8,335.6 178.9,335.8 194.0,336.1 209.1,336.3 224.2,336.4 239.2,336.6 254.3,336.7 269.4,336.8 284.5,336.9 299.6,337.0 314.7,337.0 329.8,337.1 344.9,337.1 360.0,337.0 375.1,337.0 390.2,336.9 405.3,336.8 420.3,336.7 435.4,336.6 450.5,336.4 465.6,336.2 480.7,336.0 495.8,335.8 510.9,335.6 526.0,335.3 541.1,335.0 556.2,334.7 571.3,334.4 586.3,334.0"/><polyline points="74.8,272.0 89.8,272.4 104.8,272.7 119.8,273.1 134.8,273.4 149.8,273.7 164.8,273.9 179.8,274.2 194.8,274.4 209.8,274.6 224.8,274.8 239.8,274.9 254.8,275.0 269.8,275.2 284.8,275.2 299.8,275.3 314.8,275.3 329.8,275.4 344.8,275.4 359.8,275.3 374.8,275.3 389.8,275.2 404.8,275.1 419.8,275.0 434.8,274.9 449.8,274.7 464.8,274.6 479.8,274.4 494.8,274.1 509.8,273.9 524.8,273.6 539.8,273.3 554.8,273.0 569.8,272.7 584.8,272.3"/><polyline points="76.4,210.3 91.3,210.7 106.2,211.1 121.1,211.4 136.1,211.7 151.0,212.0 165.9,212.2 180.8,212.5 195.7,212.7 210.6,212.9 225.5,213.1 240.4,213.2 255.3,213.4 270.2,213.5 285.1,213.6 300.1,213.6 315.0,213.7 329.9,213.7 344.8,213.7 359.7,213.7 374.6,213.6 389.5,213.5 404.4,213.5 419.3,213.3 434.2,213.2 449.2,213.1 464.1,212.9 479.0,212.7 493.9,212.5 508.8,212.2 523.7,211.9 538.6,211.7 553.5,211.3 568.4,211.0 583.3,210.7"/><polyline points="78.0,148.7 92.8,149.0 107.6,149.4 122.5,149.7 137.3,150.0 152.1,150.3 166.9,150.6 181.7,150.8 196.5,151.0 211.4,151.2 226.2,151.4 241.0,151.5 255.8,151.7 270.6,151.8 285.5,151.9 300.3,151.9 315.1,152.0 329.9,152.0 344.7,152.0 359.6,152.0 374.4,151.9 389.2,151.9 404.0,151.8 418.8,151.7 433.6,151.5 448.5,151.4 463.3,151.2 478.1,151.0 492.9,150.8 507.7,150.5 522.5,150.3 537.4,150.0 552.2,149.7 567.0,149.3 581.8,149.0"/><polyline points="79.6,87.0 94.3,87.4 109.1,87.7 123.8,88.0 138.5,88.3 153.2,88.6 168.0,88.9 182.7,89.1 197.4,89.3 212.1,89.5 226.9,89.7 241.6,89.9 256.3,90.0 271.0,90.1 285.8,90.2 300.5,90.2 315.2,90.3 330.0,90.3 344.7,90.3 359.4,90.3 374.1,90.2 388.9,90.2 403.6,90.1 418.3,90.0 433.0,89.8 447.8,89.7 462.5,89.5 477.2,89.3 491.9,89.1 506.7,88.9 521.4,88.6 536.1,88.3 550.8,88.0 565.6,87.7 580.3,87.3"/></g><g filter="url(#bin)"><text x="124.1" y="68.00" font-size="14.50" text-anchor="middle" textLength="20.20" lengthAdjust="spacingAndGlyphs">-72</text><text x="116.8" y="427.00" font-size="14.50" text-anchor="middle" textLength="20.20" lengthAdjust="spacingAndGlyphs">-72</text><text x="182.9" y="68.00" font-size="14.50" text-anchor="middle" textLength="20.20" lengthAdjust="spacingAndGlyphs">-70</text><text x="177.7" y="427.00" font-size="14.50" text-anchor="middle" textLength="20.20" lengthAdjust="spacingAndGlyphs">-70</text><text x="241.8" y="68.00" font-size="14.50" text-anchor="middle" textLength="20.20" lengthAdjust="spacingAndGlyphs">-68</text><text x="238.5" y="427.00" font-size="14.50" text-anchor="middle" textLength="20.20" lengthAdjust="spacingAndGlyphs">-68</text><text x="300.6" y="68.00" font-size="14.50" text-anchor="middle" textLength="20.20" lengthAdjust="spacingAndGlyphs">-66</text><text x="299.3" y="427.00" font-size="14.50" text-anchor="middle" textLength="20.20" lengthAdjust="spacingAndGlyphs">-66</text><text x="359.4" y="68.00" font-size="14.50" text-anchor="middle" textLength="20.20" lengthAdjust="spacingAndGlyphs">-64</text><text x="360.2" y="427.00" font-size="14.50" text-anchor="middle" textLength="20.20" lengthAdjust="spacingAndGlyphs">-64</text><text x="418.2" y="68.00" font-size="14.50" text-anchor="middle" textLength="20.20" lengthAdjust="spacingAndGlyphs">-62</text><text x="421.0" y="427.00" font-size="14.50" text-anchor="middle" textLength="20.20" lengthAdjust="spacingAndGlyphs">-62</text><text x="477.0" y="68.00" font-size="14.50" text-anchor="middle" textLength="20.20" lengthAdjust="spacingAndGlyphs">-60</text><text x="481.8" y="427.00" font-size="14.50" text-anchor="middle" textLength="20.20" lengthAdjust="spacingAndGlyphs">-60</text><text x="535.8" y="68.00" font-size="14.50" text-anchor="middle" textLength="20.20" lengthAdjust="spacingAndGlyphs">-58</text><text x="542.7" y="427.00" font-size="14.50" text-anchor="middle" textLength="20.20" lengthAdjust="spacingAndGlyphs">-58</text><text transform="translate(111.00,396.4) rotate(-90)" font-size="14.50" text-anchor="middle" textLength="14.70" lengthAdjust="spacingAndGlyphs">10</text><text transform="translate(549.00,396.6) rotate(90)" font-size="14.50" text-anchor="middle" textLength="14.70" lengthAdjust="spacingAndGlyphs">10</text><text transform="translate(111.00,334.7) rotate(-90)" font-size="14.50" text-anchor="middle" textLength="14.70" lengthAdjust="spacingAndGlyphs">12</text><text transform="translate(549.00,334.9) rotate(90)" font-size="14.50" text-anchor="middle" textLength="14.70" lengthAdjust="spacingAndGlyphs">12</text><text transform="translate(111.00,273.0) rotate(-90)" font-size="14.50" text-anchor="middle" textLength="14.70" lengthAdjust="spacingAndGlyphs">14</text><text transform="translate(549.00,273.2) rotate(90)" font-size="14.50" text-anchor="middle" textLength="14.70" lengthAdjust="spacingAndGlyphs">14</text><text transform="translate(111.00,211.3) rotate(-90)" font-size="14.50" text-anchor="middle" textLength="14.70" lengthAdjust="spacingAndGlyphs">16</text><text transform="translate(549.00,211.5) rotate(90)" font-size="14.50" text-anchor="middle" textLength="14.70" lengthAdjust="spacingAndGlyphs">16</text><text transform="translate(111.00,149.6) rotate(-90)" font-size="14.50" text-anchor="middle" textLength="14.70" lengthAdjust="spacingAndGlyphs">18</text><text transform="translate(549.00,149.8) rotate(90)" font-size="14.50" text-anchor="middle" textLength="14.70" lengthAdjust="spacingAndGlyphs">18</text><text transform="translate(111.00,87.9) rotate(-90)" font-size="14.50" text-anchor="middle" textLength="14.70" lengthAdjust="spacingAndGlyphs">20</text><text transform="translate(549.00,88.1) rotate(90)" font-size="14.50" text-anchor="middle" textLength="14.70" lengthAdjust="spacingAndGlyphs">20</text></g><g filter="url(#bin)"><text x="9.75" y="21.00" font-size="22.00" textLength="261.00" lengthAdjust="spacingAndGlyphs" text-anchor="start" fill="#000">Vitamin-D UV dose (kJ/m2)</text><text x="8.40" y="46.00" font-size="18.50" textLength="102.00" lengthAdjust="spacingAndGlyphs" text-anchor="start" fill="#0000ff" stroke="#0000ff" stroke-width="0.35">MSR - KNMI</text><text x="651.90" y="21.00" font-size="22.00" textLength="91.90" lengthAdjust="spacingAndGlyphs" text-anchor="end" fill="#000">Clear-sky</text><text x="652.80" y="46.00" font-size="22.00" textLength="117.60" lengthAdjust="spacingAndGlyphs" text-anchor="end" fill="#000">6 April 1993</text></g><rect x="8" y="442" width="643" height="15" fill="url(#cb)"/><g filter="url(#bin)"><text x="9.3" y="475.00" font-size="18.00" text-anchor="middle">0</text><text x="79.9" y="475.00" font-size="18.00" text-anchor="middle">2</text><text x="151.4" y="475.00" font-size="18.00" text-anchor="middle">4</text><text x="222.8" y="475.00" font-size="18.00" text-anchor="middle">6</text><text x="294.3" y="475.00" font-size="18.00" text-anchor="middle">8</text><text x="365.7" y="475.00" font-size="18.00" text-anchor="middle">10</text><text x="437.2" y="475.00" font-size="18.00" text-anchor="middle">12</text><text x="508.6" y="475.00" font-size="18.00" text-anchor="middle">14</text><text x="580.1" y="475.00" font-size="18.00" text-anchor="middle">16</text><text x="651.5" y="475.00" font-size="18.00" text-anchor="middle">18</text></g></svg></body></html>
